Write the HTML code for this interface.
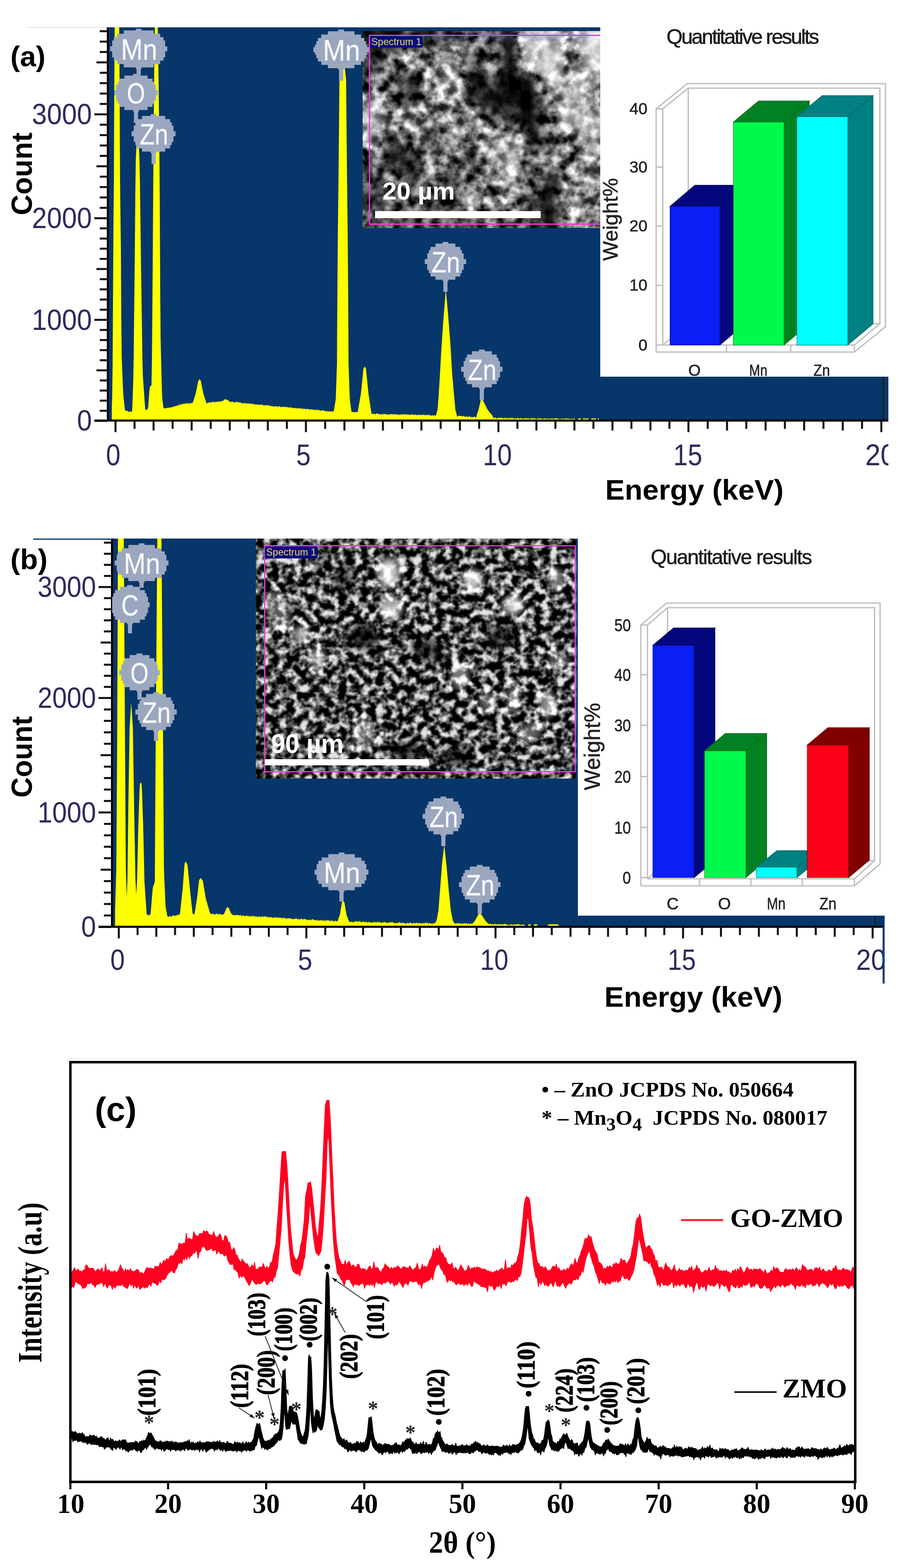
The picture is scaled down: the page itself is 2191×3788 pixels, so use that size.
<!DOCTYPE html>
<html><head><meta charset="utf-8"><title>EDS and XRD figure</title>
<style>html,body{margin:0;padding:0;background:#fff}svg{display:block}text{white-space:pre}</style></head>
<body><svg width="2191" height="3788" viewBox="0 0 2191 3788">
<defs><filter id="semA" x="0" y="0" width="100%" height="100%" color-interpolation-filters="sRGB" filterUnits="objectBoundingBox">
<feTurbulence type="fractalNoise" baseFrequency="0.04" numOctaves="4" seed="7" result="n"/>
<feColorMatrix in="n" type="matrix" values="2.2 0 0 0 -0.62  2.2 0 0 0 -0.62  2.2 0 0 0 -0.62  0 0 0 0 1"/>
<feComponentTransfer><feFuncR type="linear" slope="1.0"/><feFuncG type="linear" slope="1.0"/><feFuncB type="linear" slope="1.0"/></feComponentTransfer>
<feGaussianBlur stdDeviation="1.0"/>
</filter>
<filter id="semAb" x="-50%" y="-50%" width="200%" height="200%"><feGaussianBlur stdDeviation="12"/></filter>
<filter id="semAg" x="-10%" y="-10%" width="120%" height="120%"><feGaussianBlur stdDeviation="12"/></filter>
<clipPath id="semAc"><rect x="876" y="75" width="574" height="476"/></clipPath><clipPath id="clipMnA"><rect x="700" y="60" width="191" height="400"/></clipPath><clipPath id="clip20a"><rect x="2000" y="1040" width="146" height="120"/></clipPath><filter id="semB" x="0" y="0" width="100%" height="100%" color-interpolation-filters="sRGB" filterUnits="objectBoundingBox">
<feTurbulence type="fractalNoise" baseFrequency="0.055" numOctaves="4" seed="11" result="n"/>
<feColorMatrix in="n" type="matrix" values="3.3 0 0 0 -1.31  3.3 0 0 0 -1.31  3.3 0 0 0 -1.31  0 0 0 0 1"/>
<feComponentTransfer><feFuncR type="linear" slope="1.0"/><feFuncG type="linear" slope="1.0"/><feFuncB type="linear" slope="1.0"/></feComponentTransfer>
<feGaussianBlur stdDeviation="1.0"/>
</filter>
<filter id="semBb" x="-50%" y="-50%" width="200%" height="200%"><feGaussianBlur stdDeviation="9"/></filter>
<filter id="semBg" x="-10%" y="-10%" width="120%" height="120%"><feGaussianBlur stdDeviation="20"/></filter>
<clipPath id="semBc"><rect x="618" y="1301" width="776" height="580"/></clipPath><clipPath id="clipCb"><rect x="271" y="1300" width="300" height="400"/></clipPath><clipPath id="clip20b"><rect x="2000" y="2250" width="132" height="140"/></clipPath></defs>
<rect width="2191" height="3788" fill="#fff"/>
<rect x="258" y="66" width="1888" height="952" fill="#07366a"/>
<rect x="62" y="65" width="196" height="2" fill="#dfe3ea"/>
<polygon points="270.0,1016.0 270.0,993.2 271.0,955.0 272.0,885.0 273.0,725.0 274.0,550.0 275.0,450.0 276.0,233.0 277.0,66.0 278.0,66.0 279.0,66.0 280.0,66.0 281.0,66.0 282.0,66.0 283.0,66.0 284.0,66.0 285.0,66.0 286.0,66.0 287.0,66.0 288.0,66.0 289.0,233.0 290.0,440.0 291.0,520.0 292.0,600.0 293.0,766.7 294.0,862.5 295.0,887.5 296.0,912.5 297.0,937.5 298.0,954.8 299.0,964.2 300.0,973.8 301.0,983.2 302.0,990.5 303.0,992.2 304.0,991.5 305.0,993.4 306.0,993.6 307.0,991.7 308.0,992.2 309.0,992.9 310.0,995.6 311.0,994.4 312.0,995.4 313.0,994.3 314.0,994.8 315.0,994.3 316.0,994.0 317.0,994.6 318.0,994.5 319.0,994.3 320.0,975.0 321.0,945.0 322.0,915.0 323.0,855.0 324.0,765.0 325.0,675.0 326.0,572.5 327.0,457.5 328.0,388.5 329.0,365.5 330.0,342.5 331.0,319.5 332.0,296.5 333.0,296.5 334.0,319.5 335.0,342.5 336.0,365.5 337.0,388.5 338.0,438.3 339.0,515.0 340.0,591.7 341.0,663.8 342.0,731.2 343.0,798.8 344.0,866.2 345.0,907.1 346.0,921.2 347.0,935.4 348.0,949.6 349.0,963.8 350.0,977.9 351.0,988.9 352.0,989.9 353.0,991.3 354.0,989.2 355.0,988.4 356.0,989.9 357.0,988.1 358.0,983.1 359.0,969.4 360.0,955.6 361.0,941.9 362.0,934.5 363.0,933.5 364.0,932.5 365.0,931.5 366.0,930.5 367.0,872.5 368.0,757.5 369.0,625.0 370.0,475.0 371.0,344.3 372.0,233.0 373.0,121.7 374.0,66.0 375.0,66.0 376.0,66.0 377.0,66.0 378.0,66.0 379.0,66.0 380.0,66.0 381.0,66.0 382.0,107.8 383.0,191.2 384.0,274.8 385.0,358.2 386.0,500.0 387.0,700.0 388.0,820.0 389.0,860.0 390.0,900.0 391.0,940.0 392.0,963.8 393.0,971.2 394.0,978.8 395.0,986.2 396.0,985.4 397.0,985.4 398.0,987.1 399.0,987.8 400.0,985.5 401.0,986.0 402.0,986.2 403.0,985.3 404.0,985.2 405.0,984.9 406.0,985.0 407.0,985.5 408.0,984.5 409.0,984.5 410.0,985.6 411.0,983.2 412.0,984.7 413.0,985.0 414.0,983.6 415.0,983.2 416.0,984.6 417.0,982.6 418.0,982.1 419.0,982.5 420.0,983.0 421.0,980.9 422.0,981.2 423.0,980.9 424.0,982.1 425.0,980.6 426.0,981.5 427.0,979.2 428.0,979.4 429.0,980.0 430.0,980.4 431.0,978.7 432.0,977.7 433.0,977.1 434.0,978.0 435.0,976.7 436.0,978.2 437.0,978.0 438.0,975.7 439.0,975.7 440.0,976.9 441.0,976.3 442.0,976.7 443.0,975.2 444.0,974.4 445.0,974.8 446.0,976.2 447.0,974.5 448.0,974.6 449.0,974.7 450.0,974.6 451.0,974.4 452.0,975.8 453.0,973.4 454.0,972.8 455.0,975.5 456.0,975.2 457.0,975.4 458.0,973.6 459.0,975.1 460.0,974.9 461.0,972.6 462.0,974.1 463.0,974.3 464.0,973.6 465.0,973.1 466.0,971.9 467.0,968.8 468.0,965.6 469.0,962.5 470.0,959.4 471.0,956.2 472.0,953.1 473.0,950.0 474.0,945.0 475.0,940.0 476.0,935.0 477.0,930.0 478.0,925.0 479.0,920.0 480.0,918.7 481.0,917.3 482.0,916.0 483.0,917.3 484.0,918.7 485.0,920.0 486.0,925.0 487.0,930.0 488.0,935.0 489.0,940.0 490.0,945.0 491.0,950.0 492.0,953.1 493.0,956.2 494.0,959.4 495.0,962.5 496.0,965.6 497.0,968.8 498.0,971.9 499.0,973.9 500.0,974.3 501.0,973.8 502.0,973.8 503.0,971.3 504.0,973.0 505.0,973.7 506.0,971.1 507.0,971.7 508.0,971.6 509.0,972.3 510.0,971.9 511.0,972.0 512.0,972.8 513.0,970.4 514.0,970.5 515.0,970.6 516.0,970.5 517.0,970.2 518.0,972.9 519.0,972.4 520.0,970.0 521.0,971.2 522.0,970.6 523.0,970.5 524.0,970.5 525.0,971.3 526.0,971.0 527.0,970.3 528.0,969.7 529.0,970.0 530.0,969.3 531.0,970.5 532.0,970.9 533.0,969.8 534.0,968.8 535.0,969.0 536.0,969.0 537.0,969.1 538.0,969.0 539.0,967.2 540.0,967.9 541.0,966.8 542.0,965.6 543.0,964.8 544.0,964.6 545.0,964.6 546.0,964.4 547.0,965.8 548.0,965.7 549.0,965.6 550.0,967.1 551.0,968.2 552.0,966.9 553.0,968.6 554.0,969.2 555.0,971.1 556.0,971.4 557.0,969.8 558.0,971.5 559.0,971.3 560.0,969.8 561.0,970.6 562.0,969.6 563.0,971.8 564.0,971.5 565.0,972.3 566.0,972.1 567.0,971.8 568.0,972.1 569.0,971.7 570.0,970.5 571.0,972.0 572.0,970.4 573.0,970.9 574.0,972.9 575.0,970.9 576.0,971.1 577.0,971.2 578.0,973.7 579.0,971.7 580.0,971.3 581.0,973.9 582.0,971.9 583.0,974.1 584.0,973.7 585.0,974.3 586.0,974.8 587.0,973.8 588.0,974.6 589.0,972.4 590.0,974.7 591.0,974.0 592.0,974.8 593.0,973.0 594.0,975.1 595.0,975.7 596.0,973.2 597.0,974.1 598.0,975.0 599.0,975.9 600.0,974.2 601.0,974.1 602.0,974.4 603.0,975.6 604.0,976.2 605.0,975.2 606.0,975.2 607.0,975.4 608.0,975.4 609.0,975.7 610.0,974.7 611.0,976.1 612.0,977.6 613.0,976.0 614.0,977.1 615.0,975.5 616.0,977.2 617.0,977.5 618.0,977.3 619.0,977.0 620.0,977.0 621.0,977.5 622.0,978.4 623.0,976.2 624.0,976.2 625.0,978.2 626.0,978.8 627.0,977.8 628.0,977.6 629.0,978.6 630.0,977.1 631.0,977.4 632.0,977.3 633.0,978.6 634.0,977.8 635.0,977.7 636.0,979.2 637.0,980.1 638.0,978.2 639.0,979.5 640.0,978.7 641.0,980.2 642.0,979.5 643.0,978.6 644.0,978.6 645.0,978.1 646.0,979.5 647.0,979.3 648.0,978.8 649.0,979.5 650.0,979.5 651.0,980.9 652.0,979.1 653.0,981.8 654.0,980.3 655.0,980.8 656.0,980.5 657.0,981.7 658.0,981.8 659.0,981.1 660.0,980.9 661.0,981.7 662.0,982.2 663.0,981.0 664.0,982.0 665.0,982.8 666.0,981.4 667.0,980.8 668.0,980.9 669.0,982.4 670.0,982.4 671.0,983.3 672.0,983.1 673.0,981.4 674.0,981.3 675.0,981.6 676.0,981.5 677.0,983.1 678.0,983.6 679.0,983.9 680.0,982.0 681.0,983.9 682.0,982.4 683.0,982.8 684.0,983.8 685.0,981.9 686.0,982.0 687.0,984.3 688.0,982.8 689.0,983.1 690.0,983.8 691.0,984.2 692.0,982.3 693.0,983.4 694.0,983.8 695.0,984.0 696.0,983.3 697.0,984.5 698.0,985.7 699.0,984.1 700.0,984.6 701.0,983.4 702.0,984.0 703.0,985.2 704.0,983.7 705.0,986.1 706.0,986.2 707.0,983.9 708.0,986.5 709.0,984.9 710.0,986.2 711.0,986.2 712.0,984.9 713.0,986.1 714.0,986.2 715.0,986.7 716.0,985.2 717.0,986.7 718.0,987.4 719.0,986.6 720.0,986.3 721.0,985.1 722.0,986.4 723.0,986.0 724.0,987.2 725.0,987.2 726.0,986.9 727.0,985.9 728.0,987.4 729.0,987.4 730.0,986.1 731.0,988.4 732.0,987.8 733.0,986.3 734.0,988.8 735.0,986.5 736.0,987.2 737.0,988.5 738.0,988.2 739.0,988.2 740.0,988.5 741.0,988.1 742.0,987.7 743.0,987.4 744.0,987.2 745.0,989.2 746.0,989.4 747.0,988.9 748.0,989.6 749.0,988.5 750.0,988.4 751.0,988.8 752.0,990.4 753.0,988.0 754.0,989.5 755.0,988.8 756.0,990.5 757.0,989.3 758.0,989.4 759.0,989.7 760.0,990.2 761.0,991.0 762.0,989.8 763.0,991.4 764.0,989.3 765.0,989.9 766.0,989.4 767.0,989.6 768.0,991.7 769.0,991.6 770.0,990.1 771.0,990.2 772.0,991.0 773.0,992.1 774.0,992.4 775.0,992.3 776.0,991.9 777.0,990.7 778.0,991.5 779.0,991.0 780.0,992.1 781.0,992.3 782.0,991.3 783.0,991.6 784.0,993.3 785.0,991.1 786.0,993.5 787.0,993.9 788.0,994.2 789.0,992.6 790.0,993.2 791.0,993.4 792.0,993.6 793.0,994.7 794.0,994.0 795.0,992.9 796.0,994.7 797.0,993.7 798.0,994.1 799.0,994.6 800.0,992.5 801.0,994.8 802.0,994.5 803.0,994.0 804.0,994.2 805.0,994.0 806.0,993.2 807.0,989.0 808.0,983.0 809.0,977.0 810.0,971.0 811.0,965.0 812.0,936.7 813.0,908.3 814.0,880.0 815.0,706.7 816.0,576.0 817.0,488.0 818.0,400.0 819.0,296.0 820.0,192.0 821.0,183.0 822.0,174.0 823.0,165.0 824.0,156.0 825.0,147.0 826.0,138.0 827.0,129.0 828.0,120.0 829.0,129.0 830.0,138.0 831.0,147.0 832.0,156.0 833.0,165.0 834.0,174.0 835.0,183.0 836.0,192.0 837.0,296.0 838.0,400.0 839.0,488.0 840.0,576.0 841.0,706.7 842.0,880.0 843.0,908.3 844.0,936.7 845.0,965.0 846.0,972.5 847.0,980.0 848.0,987.5 849.0,995.0 850.0,994.4 851.0,995.0 852.0,996.0 853.0,995.0 854.0,994.4 855.0,996.7 856.0,996.3 857.0,995.3 858.0,995.4 859.0,996.0 860.0,996.3 861.0,995.3 862.0,994.7 863.0,995.4 864.0,996.0 865.0,990.2 866.0,984.5 867.0,978.8 868.0,973.0 869.0,967.2 870.0,961.5 871.0,955.8 872.0,950.0 873.0,940.0 874.0,930.0 875.0,920.0 876.0,910.0 877.0,900.0 878.0,890.0 879.0,888.7 880.0,887.3 881.0,886.0 882.0,887.3 883.0,888.7 884.0,890.0 885.0,900.0 886.0,910.0 887.0,920.0 888.0,930.0 889.0,940.0 890.0,950.0 891.0,956.6 892.0,963.1 893.0,969.7 894.0,976.3 895.0,982.9 896.0,989.4 897.0,996.0 898.0,1001.0 899.0,999.3 900.0,999.2 901.0,999.3 902.0,1001.0 903.0,1000.4 904.0,999.6 905.0,998.9 906.0,1000.7 907.0,1001.5 908.0,1000.4 909.0,998.7 910.0,998.8 911.0,999.0 912.0,999.3 913.0,998.9 914.0,998.9 915.0,1000.8 916.0,1001.5 917.0,999.4 918.0,1001.8 919.0,1000.3 920.0,1001.3 921.0,1001.7 922.0,1001.8 923.0,999.1 924.0,999.9 925.0,1000.8 926.0,1001.9 927.0,999.3 928.0,999.9 929.0,1001.6 930.0,999.4 931.0,1000.3 932.0,1000.1 933.0,1001.2 934.0,1002.0 935.0,999.7 936.0,1001.4 937.0,1001.4 938.0,1001.8 939.0,1000.9 940.0,1002.1 941.0,1000.4 942.0,1000.6 943.0,1000.0 944.0,1001.7 945.0,1000.8 946.0,1000.2 947.0,999.9 948.0,1001.6 949.0,1001.3 950.0,1001.6 951.0,1000.7 952.0,1001.0 953.0,1000.0 954.0,1001.7 955.0,999.7 956.0,1001.0 957.0,1001.9 958.0,1001.7 959.0,1000.0 960.0,1000.4 961.0,1002.3 962.0,1001.7 963.0,1002.4 964.0,1002.4 965.0,1001.1 966.0,1002.5 967.0,1002.0 968.0,1000.9 969.0,1001.0 970.0,1000.1 971.0,1001.1 972.0,1002.8 973.0,1000.3 974.0,1001.7 975.0,1000.3 976.0,1000.3 977.0,1002.0 978.0,1000.8 979.0,1000.2 980.0,1000.6 981.0,1002.1 982.0,1001.9 983.0,1000.2 984.0,1000.9 985.0,1003.1 986.0,1000.9 987.0,1001.9 988.0,1001.5 989.0,1002.6 990.0,1002.1 991.0,1002.7 992.0,1001.9 993.0,1000.9 994.0,1000.9 995.0,1000.6 996.0,1002.9 997.0,1000.8 998.0,1000.5 999.0,1003.4 1000.0,1001.1 1001.0,1003.2 1002.0,1000.8 1003.0,1002.0 1004.0,1001.2 1005.0,1003.1 1006.0,1002.5 1007.0,1002.6 1008.0,1002.9 1009.0,1003.3 1010.0,1001.7 1011.0,1002.5 1012.0,1002.1 1013.0,1001.1 1014.0,1003.3 1015.0,1002.6 1016.0,1003.3 1017.0,1001.5 1018.0,1002.5 1019.0,1002.3 1020.0,1003.1 1021.0,1001.2 1022.0,1002.0 1023.0,1002.4 1024.0,1001.2 1025.0,1002.7 1026.0,1003.2 1027.0,1002.3 1028.0,1003.0 1029.0,1002.9 1030.0,1001.7 1031.0,1002.2 1032.0,1004.1 1033.0,1002.2 1034.0,1002.5 1035.0,1001.5 1036.0,1001.9 1037.0,1001.7 1038.0,1004.1 1039.0,1003.5 1040.0,1003.9 1041.0,1004.3 1042.0,1003.2 1043.0,1004.2 1044.0,1003.0 1045.0,1002.7 1046.0,1004.3 1047.0,1004.1 1048.0,1004.3 1049.0,1002.9 1050.0,1003.8 1051.0,1002.8 1052.0,1004.6 1053.0,1004.4 1054.0,999.8 1055.0,996.5 1056.0,993.2 1057.0,990.0 1058.0,976.7 1059.0,963.3 1060.0,950.0 1061.0,933.3 1062.0,916.7 1063.0,900.0 1064.0,882.5 1065.0,865.0 1066.0,847.5 1067.0,830.0 1068.0,816.0 1069.0,802.0 1070.0,788.0 1071.0,774.0 1072.0,760.0 1073.0,748.0 1074.0,736.0 1075.0,724.0 1076.0,712.0 1077.0,700.0 1078.0,711.0 1079.0,722.0 1080.0,733.0 1081.0,744.0 1082.0,755.0 1083.0,767.5 1084.0,780.0 1085.0,792.5 1086.0,805.0 1087.0,817.5 1088.0,830.0 1089.0,847.5 1090.0,865.0 1091.0,882.5 1092.0,900.0 1093.0,911.2 1094.0,922.5 1095.0,933.8 1096.0,945.0 1097.0,956.2 1098.0,967.5 1099.0,978.8 1100.0,990.0 1101.0,993.5 1102.0,997.0 1103.0,1000.5 1104.0,1006.6 1105.0,1006.1 1106.0,1006.7 1107.0,1004.0 1108.0,1004.5 1109.0,1004.0 1110.0,1005.3 1111.0,1005.1 1112.0,1004.3 1113.0,1005.8 1114.0,1004.5 1115.0,1005.2 1116.0,1005.0 1117.0,1006.8 1118.0,1005.7 1119.0,1005.2 1120.0,1004.6 1121.0,1005.8 1122.0,1006.5 1123.0,1006.7 1124.0,1007.4 1125.0,1007.2 1126.0,1005.5 1127.0,1005.3 1128.0,1007.2 1129.0,1007.3 1130.0,1006.5 1131.0,1007.5 1132.0,1006.8 1133.0,1006.0 1134.0,1005.7 1135.0,1005.3 1136.0,1007.2 1137.0,1008.0 1138.0,1008.1 1139.0,1006.9 1140.0,1007.5 1141.0,1008.3 1142.0,1008.0 1143.0,1007.5 1144.0,1006.9 1145.0,1007.3 1146.0,1006.3 1147.0,1006.4 1148.0,1008.0 1149.0,1008.9 1150.0,1007.6 1151.0,1007.3 1152.0,1001.2 1153.0,998.4 1154.0,995.6 1155.0,992.8 1156.0,990.0 1157.0,985.6 1158.0,981.2 1159.0,976.8 1160.0,972.4 1161.0,968.0 1162.0,966.7 1163.0,965.3 1164.0,964.0 1165.0,965.5 1166.0,967.0 1167.0,968.5 1168.0,970.0 1169.0,972.0 1170.0,974.0 1171.0,976.0 1172.0,978.0 1173.0,980.0 1174.0,982.0 1175.0,984.0 1176.0,986.0 1177.0,988.0 1178.0,990.0 1179.0,991.2 1180.0,992.5 1181.0,993.7 1182.0,994.9 1183.0,996.2 1184.0,997.4 1185.0,998.6 1186.0,999.8 1187.0,1001.1 1188.0,1002.3 1189.0,1003.5 1190.0,1004.8 1191.0,1008.4 1192.0,1008.9 1193.0,1011.1 1194.0,1008.4 1195.0,1008.9 1196.0,1008.9 1197.0,1008.6 1198.0,1010.0 1199.0,1010.7 1200.0,1011.0 1201.0,1010.4 1202.0,1011.0 1203.0,1008.5 1204.0,1009.4 1205.0,1011.4 1206.0,1008.8 1207.0,1009.4 1208.0,1010.0 1209.0,1009.4 1210.0,1010.2 1211.0,1008.8 1212.0,1009.3 1213.0,1011.5 1214.0,1009.1 1215.0,1011.4 1216.0,1009.2 1217.0,1011.7 1218.0,1010.7 1219.0,1010.6 1220.0,1009.1 1221.0,1008.9 1222.0,1011.0 1223.0,1009.3 1224.0,1009.3 1225.0,1011.2 1226.0,1011.4 1227.0,1008.9 1228.0,1011.7 1229.0,1010.4 1230.0,1010.0 1231.0,1009.1 1232.0,1010.0 1233.0,1011.8 1234.0,1009.7 1235.0,1009.3 1236.0,1009.3 1237.0,1009.3 1238.0,1010.0 1239.0,1011.7 1240.0,1009.2 1241.0,1009.5 1242.0,1011.8 1243.0,1011.9 1244.0,1011.9 1245.0,1009.7 1246.0,1010.0 1247.0,1011.8 1248.0,1010.5 1249.0,1011.1 1250.0,1010.0 1251.0,1009.1 1252.0,1010.1 1253.0,1011.3 1254.0,1011.4 1255.0,1010.8 1256.0,1010.5 1257.0,1010.7 1258.0,1010.4 1259.0,1010.7 1260.0,1011.6 1261.0,1009.7 1262.0,1010.9 1263.0,1012.0 1264.0,1011.7 1265.0,1009.7 1266.0,1012.1 1267.0,1011.7 1268.0,1009.7 1269.0,1010.0 1270.0,1009.8 1271.0,1009.4 1272.0,1012.2 1273.0,1010.5 1274.0,1011.9 1275.0,1009.6 1276.0,1009.3 1277.0,1011.9 1278.0,1011.7 1279.0,1012.3 1280.0,1011.4 1281.0,1010.9 1282.0,1011.7 1283.0,1009.7 1284.0,1011.0 1285.0,1010.7 1286.0,1009.8 1287.0,1011.2 1288.0,1010.4 1289.0,1011.0 1290.0,1010.6 1291.0,1010.4 1292.0,1010.5 1293.0,1011.3 1294.0,1012.4 1295.0,1012.3 1296.0,1012.1 1297.0,1012.0 1298.0,1010.4 1299.0,1012.5 1300.0,1010.4 1301.0,1009.9 1302.0,1011.1 1303.0,1011.8 1304.0,1010.6 1305.0,1011.5 1306.0,1010.5 1307.0,1012.5 1308.0,1011.0 1309.0,1011.1 1310.0,1011.3 1311.0,1012.3 1312.0,1012.6 1313.0,1011.3 1314.0,1011.0 1315.0,1011.6 1316.0,1009.9 1317.0,1011.0 1318.0,1012.3 1319.0,1012.1 1320.0,1009.9 1321.0,1012.3 1322.0,1010.9 1323.0,1012.7 1324.0,1010.9 1325.0,1010.5 1326.0,1011.5 1327.0,1012.5 1328.0,1011.1 1329.0,1012.5 1330.0,1012.0 1331.0,1011.0 1332.0,1010.8 1333.0,1011.4 1334.0,1011.1 1335.0,1011.0 1336.0,1011.9 1337.0,1012.6 1338.0,1011.7 1339.0,1010.4 1340.0,1010.6 1341.0,1011.1 1342.0,1011.8 1343.0,1010.4 1344.0,1010.3 1345.0,1011.0 1346.0,1010.9 1347.0,1010.1 1348.0,1011.7 1349.0,1012.8 1350.0,1011.7 1351.0,1012.3 1352.0,1012.6 1353.0,1012.6 1354.0,1012.9 1355.0,1011.5 1356.0,1012.2 1357.0,1010.5 1358.0,1012.8 1359.0,1011.3 1360.0,1011.6 1361.0,1012.9 1362.0,1011.1 1363.0,1010.8 1364.0,1012.7 1365.0,1012.0 1366.0,1010.5 1367.0,1010.4 1368.0,1011.3 1369.0,1010.3 1370.0,1012.8 1371.0,1010.9 1372.0,1011.1 1373.0,1011.5 1374.0,1011.9 1375.0,1011.6 1376.0,1012.2 1377.0,1012.4 1378.0,1011.7 1379.0,1010.7 1380.0,1013.3 1381.0,1012.5 1382.0,1010.7 1383.0,1011.8 1384.0,1012.7 1385.0,1013.4 1386.0,1010.7 1387.0,1010.5 1388.0,1011.9 1389.0,1011.8 1389.0,1016.0" fill="#ffff00"/>
<rect x="1396" y="1011" width="8" height="4" fill="#ffff00"/>
<rect x="1408" y="1011" width="14" height="4" fill="#ffff00"/>
<rect x="1428" y="1011" width="12" height="4" fill="#ffff00"/>
<rect x="1444" y="1011" width="3" height="4" fill="#ffff00"/>
<g clip-path="url(#semAc)" style="isolation:isolate">
<rect x="876" y="75" width="574" height="476" fill="#777"/>
<g filter="url(#semAg)">
<rect x="816" y="15" width="694" height="596" fill="#777"/>
<rect x="816.0" y="15.0" width="108.3" height="108.1" fill="rgb(24,24,24)"/>
<rect x="923.8" y="15.0" width="48.3" height="108.1" fill="rgb(10,10,10)"/>
<rect x="971.7" y="15.0" width="48.3" height="108.1" fill="rgb(64,64,64)"/>
<rect x="1019.5" y="15.0" width="48.3" height="108.1" fill="rgb(37,37,37)"/>
<rect x="1067.3" y="15.0" width="48.3" height="108.1" fill="rgb(91,91,91)"/>
<rect x="1115.2" y="15.0" width="48.3" height="108.1" fill="rgb(105,105,105)"/>
<rect x="1163.0" y="15.0" width="48.3" height="108.1" fill="rgb(91,91,91)"/>
<rect x="1210.8" y="15.0" width="48.3" height="108.1" fill="rgb(10,10,10)"/>
<rect x="1258.7" y="15.0" width="48.3" height="108.1" fill="rgb(213,213,213)"/>
<rect x="1306.5" y="15.0" width="48.3" height="108.1" fill="rgb(199,199,199)"/>
<rect x="1354.3" y="15.0" width="48.3" height="108.1" fill="rgb(118,118,118)"/>
<rect x="1402.2" y="15.0" width="108.3" height="108.1" fill="rgb(226,226,226)"/>
<rect x="816.0" y="122.6" width="108.3" height="48.1" fill="rgb(51,51,51)"/>
<rect x="923.8" y="122.6" width="48.3" height="48.1" fill="rgb(118,118,118)"/>
<rect x="971.7" y="122.6" width="48.3" height="48.1" fill="rgb(132,132,132)"/>
<rect x="1019.5" y="122.6" width="48.3" height="48.1" fill="rgb(145,145,145)"/>
<rect x="1067.3" y="122.6" width="48.3" height="48.1" fill="rgb(159,159,159)"/>
<rect x="1115.2" y="122.6" width="48.3" height="48.1" fill="rgb(64,64,64)"/>
<rect x="1163.0" y="122.6" width="48.3" height="48.1" fill="rgb(118,118,118)"/>
<rect x="1210.8" y="122.6" width="48.3" height="48.1" fill="rgb(0,0,0)"/>
<rect x="1258.7" y="122.6" width="48.3" height="48.1" fill="rgb(186,186,186)"/>
<rect x="1306.5" y="122.6" width="48.3" height="48.1" fill="rgb(226,226,226)"/>
<rect x="1354.3" y="122.6" width="48.3" height="48.1" fill="rgb(78,78,78)"/>
<rect x="1402.2" y="122.6" width="108.3" height="48.1" fill="rgb(213,213,213)"/>
<rect x="816.0" y="170.2" width="108.3" height="48.1" fill="rgb(91,91,91)"/>
<rect x="923.8" y="170.2" width="48.3" height="48.1" fill="rgb(91,91,91)"/>
<rect x="971.7" y="170.2" width="48.3" height="48.1" fill="rgb(10,10,10)"/>
<rect x="1019.5" y="170.2" width="48.3" height="48.1" fill="rgb(145,145,145)"/>
<rect x="1067.3" y="170.2" width="48.3" height="48.1" fill="rgb(172,172,172)"/>
<rect x="1115.2" y="170.2" width="48.3" height="48.1" fill="rgb(24,24,24)"/>
<rect x="1163.0" y="170.2" width="48.3" height="48.1" fill="rgb(51,51,51)"/>
<rect x="1210.8" y="170.2" width="48.3" height="48.1" fill="rgb(0,0,0)"/>
<rect x="1258.7" y="170.2" width="48.3" height="48.1" fill="rgb(10,10,10)"/>
<rect x="1306.5" y="170.2" width="48.3" height="48.1" fill="rgb(199,199,199)"/>
<rect x="1354.3" y="170.2" width="48.3" height="48.1" fill="rgb(172,172,172)"/>
<rect x="1402.2" y="170.2" width="108.3" height="48.1" fill="rgb(172,172,172)"/>
<rect x="816.0" y="217.8" width="108.3" height="48.1" fill="rgb(172,172,172)"/>
<rect x="923.8" y="217.8" width="48.3" height="48.1" fill="rgb(105,105,105)"/>
<rect x="971.7" y="217.8" width="48.3" height="48.1" fill="rgb(37,37,37)"/>
<rect x="1019.5" y="217.8" width="48.3" height="48.1" fill="rgb(145,145,145)"/>
<rect x="1067.3" y="217.8" width="48.3" height="48.1" fill="rgb(145,145,145)"/>
<rect x="1115.2" y="217.8" width="48.3" height="48.1" fill="rgb(37,37,37)"/>
<rect x="1163.0" y="217.8" width="48.3" height="48.1" fill="rgb(10,10,10)"/>
<rect x="1210.8" y="217.8" width="48.3" height="48.1" fill="rgb(10,10,10)"/>
<rect x="1258.7" y="217.8" width="48.3" height="48.1" fill="rgb(0,0,0)"/>
<rect x="1306.5" y="217.8" width="48.3" height="48.1" fill="rgb(105,105,105)"/>
<rect x="1354.3" y="217.8" width="48.3" height="48.1" fill="rgb(199,199,199)"/>
<rect x="1402.2" y="217.8" width="108.3" height="48.1" fill="rgb(145,145,145)"/>
<rect x="816.0" y="265.4" width="108.3" height="48.1" fill="rgb(186,186,186)"/>
<rect x="923.8" y="265.4" width="48.3" height="48.1" fill="rgb(145,145,145)"/>
<rect x="971.7" y="265.4" width="48.3" height="48.1" fill="rgb(159,159,159)"/>
<rect x="1019.5" y="265.4" width="48.3" height="48.1" fill="rgb(118,118,118)"/>
<rect x="1067.3" y="265.4" width="48.3" height="48.1" fill="rgb(132,132,132)"/>
<rect x="1115.2" y="265.4" width="48.3" height="48.1" fill="rgb(159,159,159)"/>
<rect x="1163.0" y="265.4" width="48.3" height="48.1" fill="rgb(64,64,64)"/>
<rect x="1210.8" y="265.4" width="48.3" height="48.1" fill="rgb(51,51,51)"/>
<rect x="1258.7" y="265.4" width="48.3" height="48.1" fill="rgb(0,0,0)"/>
<rect x="1306.5" y="265.4" width="48.3" height="48.1" fill="rgb(118,118,118)"/>
<rect x="1354.3" y="265.4" width="48.3" height="48.1" fill="rgb(199,199,199)"/>
<rect x="1402.2" y="265.4" width="108.3" height="48.1" fill="rgb(186,186,186)"/>
<rect x="816.0" y="313.0" width="108.3" height="48.1" fill="rgb(159,159,159)"/>
<rect x="923.8" y="313.0" width="48.3" height="48.1" fill="rgb(51,51,51)"/>
<rect x="971.7" y="313.0" width="48.3" height="48.1" fill="rgb(118,118,118)"/>
<rect x="1019.5" y="313.0" width="48.3" height="48.1" fill="rgb(64,64,64)"/>
<rect x="1067.3" y="313.0" width="48.3" height="48.1" fill="rgb(172,172,172)"/>
<rect x="1115.2" y="313.0" width="48.3" height="48.1" fill="rgb(105,105,105)"/>
<rect x="1163.0" y="313.0" width="48.3" height="48.1" fill="rgb(172,172,172)"/>
<rect x="1210.8" y="313.0" width="48.3" height="48.1" fill="rgb(172,172,172)"/>
<rect x="1258.7" y="313.0" width="48.3" height="48.1" fill="rgb(24,24,24)"/>
<rect x="1306.5" y="313.0" width="48.3" height="48.1" fill="rgb(78,78,78)"/>
<rect x="1354.3" y="313.0" width="48.3" height="48.1" fill="rgb(132,132,132)"/>
<rect x="1402.2" y="313.0" width="108.3" height="48.1" fill="rgb(172,172,172)"/>
<rect x="816.0" y="360.6" width="108.3" height="48.1" fill="rgb(91,91,91)"/>
<rect x="923.8" y="360.6" width="48.3" height="48.1" fill="rgb(24,24,24)"/>
<rect x="971.7" y="360.6" width="48.3" height="48.1" fill="rgb(37,37,37)"/>
<rect x="1019.5" y="360.6" width="48.3" height="48.1" fill="rgb(118,118,118)"/>
<rect x="1067.3" y="360.6" width="48.3" height="48.1" fill="rgb(118,118,118)"/>
<rect x="1115.2" y="360.6" width="48.3" height="48.1" fill="rgb(51,51,51)"/>
<rect x="1163.0" y="360.6" width="48.3" height="48.1" fill="rgb(159,159,159)"/>
<rect x="1210.8" y="360.6" width="48.3" height="48.1" fill="rgb(186,186,186)"/>
<rect x="1258.7" y="360.6" width="48.3" height="48.1" fill="rgb(91,91,91)"/>
<rect x="1306.5" y="360.6" width="48.3" height="48.1" fill="rgb(118,118,118)"/>
<rect x="1354.3" y="360.6" width="48.3" height="48.1" fill="rgb(105,105,105)"/>
<rect x="1402.2" y="360.6" width="108.3" height="48.1" fill="rgb(159,159,159)"/>
<rect x="816.0" y="408.2" width="108.3" height="48.1" fill="rgb(78,78,78)"/>
<rect x="923.8" y="408.2" width="48.3" height="48.1" fill="rgb(105,105,105)"/>
<rect x="971.7" y="408.2" width="48.3" height="48.1" fill="rgb(51,51,51)"/>
<rect x="1019.5" y="408.2" width="48.3" height="48.1" fill="rgb(118,118,118)"/>
<rect x="1067.3" y="408.2" width="48.3" height="48.1" fill="rgb(64,64,64)"/>
<rect x="1115.2" y="408.2" width="48.3" height="48.1" fill="rgb(132,132,132)"/>
<rect x="1163.0" y="408.2" width="48.3" height="48.1" fill="rgb(118,118,118)"/>
<rect x="1210.8" y="408.2" width="48.3" height="48.1" fill="rgb(172,172,172)"/>
<rect x="1258.7" y="408.2" width="48.3" height="48.1" fill="rgb(105,105,105)"/>
<rect x="1306.5" y="408.2" width="48.3" height="48.1" fill="rgb(37,37,37)"/>
<rect x="1354.3" y="408.2" width="48.3" height="48.1" fill="rgb(145,145,145)"/>
<rect x="1402.2" y="408.2" width="108.3" height="48.1" fill="rgb(145,145,145)"/>
<rect x="816.0" y="455.8" width="108.3" height="48.1" fill="rgb(37,37,37)"/>
<rect x="923.8" y="455.8" width="48.3" height="48.1" fill="rgb(91,91,91)"/>
<rect x="971.7" y="455.8" width="48.3" height="48.1" fill="rgb(91,91,91)"/>
<rect x="1019.5" y="455.8" width="48.3" height="48.1" fill="rgb(78,78,78)"/>
<rect x="1067.3" y="455.8" width="48.3" height="48.1" fill="rgb(24,24,24)"/>
<rect x="1115.2" y="455.8" width="48.3" height="48.1" fill="rgb(172,172,172)"/>
<rect x="1163.0" y="455.8" width="48.3" height="48.1" fill="rgb(118,118,118)"/>
<rect x="1210.8" y="455.8" width="48.3" height="48.1" fill="rgb(145,145,145)"/>
<rect x="1258.7" y="455.8" width="48.3" height="48.1" fill="rgb(64,64,64)"/>
<rect x="1306.5" y="455.8" width="48.3" height="48.1" fill="rgb(24,24,24)"/>
<rect x="1354.3" y="455.8" width="48.3" height="48.1" fill="rgb(145,145,145)"/>
<rect x="1402.2" y="455.8" width="108.3" height="48.1" fill="rgb(145,145,145)"/>
<rect x="816.0" y="503.4" width="108.3" height="108.1" fill="rgb(91,91,91)"/>
<rect x="923.8" y="503.4" width="48.3" height="108.1" fill="rgb(78,78,78)"/>
<rect x="971.7" y="503.4" width="48.3" height="108.1" fill="rgb(78,78,78)"/>
<rect x="1019.5" y="503.4" width="48.3" height="108.1" fill="rgb(78,78,78)"/>
<rect x="1067.3" y="503.4" width="48.3" height="108.1" fill="rgb(78,78,78)"/>
<rect x="1115.2" y="503.4" width="48.3" height="108.1" fill="rgb(91,91,91)"/>
<rect x="1163.0" y="503.4" width="48.3" height="108.1" fill="rgb(91,91,91)"/>
<rect x="1210.8" y="503.4" width="48.3" height="108.1" fill="rgb(91,91,91)"/>
<rect x="1258.7" y="503.4" width="48.3" height="108.1" fill="rgb(64,64,64)"/>
<rect x="1306.5" y="503.4" width="48.3" height="108.1" fill="rgb(10,10,10)"/>
<rect x="1354.3" y="503.4" width="48.3" height="108.1" fill="rgb(132,132,132)"/>
<rect x="1402.2" y="503.4" width="108.3" height="108.1" fill="rgb(132,132,132)"/>
</g>
<rect x="872" y="71" width="582" height="484" filter="url(#semA)" style="mix-blend-mode:overlay"/>
</g>
<path d="M1450 85.5 H892.5 V541.5 H1450" fill="none" stroke="#e83ad8" stroke-width="3"/>
<rect x="894" y="88" width="127" height="27" rx="3" fill="#0b0a7e"/>
<text x="897" y="109" font-family='"Liberation Sans", Arial, sans-serif' font-size="23" font-weight="normal" fill="#e8e060" text-anchor="start" textLength="121" lengthAdjust="spacingAndGlyphs" >Spectrum 1</text>
<text x="924" y="482" font-family='"Liberation Sans", Arial, sans-serif' font-size="59" font-weight="bold" fill="#fff" text-anchor="start" textLength="175" lengthAdjust="spacingAndGlyphs" >20 µm</text>
<rect x="906" y="510" width="400" height="17" fill="#fff"/>
<rect x="1450" y="0" width="741" height="910" fill="#fff"/>
<rect x="2146" y="0" width="45" height="1300" fill="#fff"/>
<rect x="2131.5" y="910" width="4.5" height="106" fill="#1c222c"/>
<rect x="258" y="66" width="5" height="952" fill="#000"/>
<rect x="228" y="1014.3" width="31" height="4.8" fill="#111"/>
<rect x="241" y="989.9" width="18" height="4.8" fill="#111"/>
<rect x="241" y="965.5" width="18" height="4.8" fill="#111"/>
<rect x="241" y="941.1" width="18" height="4.8" fill="#111"/>
<rect x="241" y="916.7" width="18" height="4.8" fill="#111"/>
<rect x="233" y="892.3" width="26" height="4.8" fill="#111"/>
<rect x="241" y="867.9" width="18" height="4.8" fill="#111"/>
<rect x="241" y="843.5" width="18" height="4.8" fill="#111"/>
<rect x="241" y="819.1" width="18" height="4.8" fill="#111"/>
<rect x="241" y="794.7" width="18" height="4.8" fill="#111"/>
<rect x="228" y="770.3" width="31" height="4.8" fill="#111"/>
<rect x="241" y="745.8" width="18" height="4.8" fill="#111"/>
<rect x="241" y="721.2" width="18" height="4.8" fill="#111"/>
<rect x="241" y="696.6" width="18" height="4.8" fill="#111"/>
<rect x="241" y="672.1" width="18" height="4.8" fill="#111"/>
<rect x="233" y="647.5" width="26" height="4.8" fill="#111"/>
<rect x="241" y="623.0" width="18" height="4.8" fill="#111"/>
<rect x="241" y="598.4" width="18" height="4.8" fill="#111"/>
<rect x="241" y="573.9" width="18" height="4.8" fill="#111"/>
<rect x="241" y="549.3" width="18" height="4.8" fill="#111"/>
<rect x="228" y="524.8" width="31" height="4.8" fill="#111"/>
<rect x="241" y="499.7" width="18" height="4.8" fill="#111"/>
<rect x="241" y="474.6" width="18" height="4.8" fill="#111"/>
<rect x="241" y="449.5" width="18" height="4.8" fill="#111"/>
<rect x="241" y="424.4" width="18" height="4.8" fill="#111"/>
<rect x="233" y="399.3" width="26" height="4.8" fill="#111"/>
<rect x="241" y="374.2" width="18" height="4.8" fill="#111"/>
<rect x="241" y="349.1" width="18" height="4.8" fill="#111"/>
<rect x="241" y="324.0" width="18" height="4.8" fill="#111"/>
<rect x="241" y="298.9" width="18" height="4.8" fill="#111"/>
<rect x="228" y="273.8" width="31" height="4.8" fill="#111"/>
<rect x="241" y="248.7" width="18" height="4.8" fill="#111"/>
<rect x="241" y="223.6" width="18" height="4.8" fill="#111"/>
<rect x="241" y="198.5" width="18" height="4.8" fill="#111"/>
<rect x="241" y="173.4" width="18" height="4.8" fill="#111"/>
<rect x="233" y="148.3" width="26" height="4.8" fill="#111"/>
<rect x="241" y="123.2" width="18" height="4.8" fill="#111"/>
<rect x="241" y="98.1" width="18" height="4.8" fill="#111"/>
<rect x="241" y="73.0" width="18" height="4.8" fill="#111"/>
<rect x="228" y="1013.5" width="1918" height="5" fill="#000"/>
<rect x="276.6" y="1016" width="4.8" height="28" fill="#111"/>
<rect x="322.6" y="1016" width="4.8" height="20" fill="#111"/>
<rect x="368.6" y="1016" width="4.8" height="24" fill="#111"/>
<rect x="414.6" y="1016" width="4.8" height="20" fill="#111"/>
<rect x="460.6" y="1016" width="4.8" height="24" fill="#111"/>
<rect x="506.6" y="1016" width="4.8" height="20" fill="#111"/>
<rect x="552.6" y="1016" width="4.8" height="24" fill="#111"/>
<rect x="598.6" y="1016" width="4.8" height="20" fill="#111"/>
<rect x="644.6" y="1016" width="4.8" height="24" fill="#111"/>
<rect x="690.6" y="1016" width="4.8" height="20" fill="#111"/>
<rect x="736.6" y="1016" width="4.8" height="28" fill="#111"/>
<rect x="783.1" y="1016" width="4.8" height="20" fill="#111"/>
<rect x="829.6" y="1016" width="4.8" height="24" fill="#111"/>
<rect x="876.1" y="1016" width="4.8" height="20" fill="#111"/>
<rect x="922.6" y="1016" width="4.8" height="24" fill="#111"/>
<rect x="969.1" y="1016" width="4.8" height="20" fill="#111"/>
<rect x="1015.6" y="1016" width="4.8" height="24" fill="#111"/>
<rect x="1062.1" y="1016" width="4.8" height="20" fill="#111"/>
<rect x="1108.6" y="1016" width="4.8" height="24" fill="#111"/>
<rect x="1155.1" y="1016" width="4.8" height="20" fill="#111"/>
<rect x="1201.6" y="1016" width="4.8" height="28" fill="#111"/>
<rect x="1247.5" y="1016" width="4.8" height="20" fill="#111"/>
<rect x="1293.4" y="1016" width="4.8" height="24" fill="#111"/>
<rect x="1339.3" y="1016" width="4.8" height="20" fill="#111"/>
<rect x="1385.2" y="1016" width="4.8" height="24" fill="#111"/>
<rect x="1431.1" y="1016" width="4.8" height="20" fill="#111"/>
<rect x="1477.0" y="1016" width="4.8" height="24" fill="#111"/>
<rect x="1522.9" y="1016" width="4.8" height="20" fill="#111"/>
<rect x="1568.8" y="1016" width="4.8" height="24" fill="#111"/>
<rect x="1614.7" y="1016" width="4.8" height="20" fill="#111"/>
<rect x="1660.6" y="1016" width="4.8" height="28" fill="#111"/>
<rect x="1707.2" y="1016" width="4.8" height="20" fill="#111"/>
<rect x="1753.8" y="1016" width="4.8" height="24" fill="#111"/>
<rect x="1800.4" y="1016" width="4.8" height="20" fill="#111"/>
<rect x="1847.0" y="1016" width="4.8" height="24" fill="#111"/>
<rect x="1893.6" y="1016" width="4.8" height="20" fill="#111"/>
<rect x="1940.2" y="1016" width="4.8" height="24" fill="#111"/>
<rect x="1986.8" y="1016" width="4.8" height="20" fill="#111"/>
<rect x="2033.4" y="1016" width="4.8" height="24" fill="#111"/>
<rect x="2080.0" y="1016" width="4.8" height="20" fill="#111"/>
<rect x="2126.6" y="1016" width="4.8" height="28" fill="#111"/>
<path d="M330.0 118.0h10V182.0h-10zM299.0 73.5h72.0v8.4h-72.0zM283.0 81.6h104.0v8.4h-104.0zM275.0 89.7h120.0v8.4h-120.0zM271.0 97.8h128.0v8.4h-128.0zM271.0 105.9h128.0v8.4h-128.0zM271.0 114.0h128.0v8.4h-128.0zM271.0 122.0h128.0v8.4h-128.0zM271.0 130.1h128.0v8.4h-128.0zM275.0 138.2h120.0v8.4h-120.0zM283.0 146.3h104.0v8.4h-104.0zM299.0 154.4h72.0v8.4h-72.0zM328.0 69.5h14v8h-14zM328.0 158.5h14v8h-14zM266.0 112.0h8v12h-8zM396.0 112.0h8v12h-8z" fill="#9ba7bf"/>
<text x="336" y="144.25" font-family='"Liberation Sans", Arial, sans-serif' font-size="70" font-weight="normal" fill="#f6f8fc" text-anchor="middle" textLength="88" lengthAdjust="spacingAndGlyphs" stroke="#cfd6e6" stroke-width="0.8" paint-order="stroke">Mn</text>
<path d="M323.5 224.0h10V297.0h-10zM300.5 182.5h56.0v7.8h-56.0zM288.5 190.0h80.0v7.8h-80.0zM284.5 197.6h88.0v7.8h-88.0zM280.5 205.1h96.0v7.8h-96.0zM280.5 212.7h96.0v7.8h-96.0zM280.5 220.2h96.0v7.8h-96.0zM280.5 227.8h96.0v7.8h-96.0zM280.5 235.3h96.0v7.8h-96.0zM284.5 242.9h88.0v7.8h-88.0zM288.5 250.4h80.0v7.8h-80.0zM300.5 258.0h56.0v7.8h-56.0zM321.5 178.5h14v8h-14zM321.5 261.5h14v8h-14zM276.0 218.0h8v12h-8zM373.0 218.0h8v12h-8z" fill="#9ba7bf"/>
<text x="328.5" y="250.25" font-family='"Liberation Sans", Arial, sans-serif' font-size="70" font-weight="normal" fill="#f6f8fc" text-anchor="middle" textLength="44" lengthAdjust="spacingAndGlyphs" stroke="#cfd6e6" stroke-width="0.8" paint-order="stroke">O</text>
<path d="M366.0 323.0h10V396.0h-10zM343.0 280.0h56.0v8.1h-56.0zM331.0 287.8h80.0v8.1h-80.0zM327.0 295.6h88.0v8.1h-88.0zM323.0 303.5h96.0v8.1h-96.0zM323.0 311.3h96.0v8.1h-96.0zM323.0 319.1h96.0v8.1h-96.0zM323.0 326.9h96.0v8.1h-96.0zM323.0 334.7h96.0v8.1h-96.0zM327.0 342.5h88.0v8.1h-88.0zM331.0 350.4h80.0v8.1h-80.0zM343.0 358.2h56.0v8.1h-56.0zM364.0 276.0h14v8h-14zM364.0 362.0h14v8h-14zM318.0 317.0h8v12h-8zM416.0 317.0h8v12h-8z" fill="#9ba7bf"/>
<text x="372" y="349.25" font-family='"Liberation Sans", Arial, sans-serif' font-size="70" font-weight="normal" fill="#f6f8fc" text-anchor="middle" textLength="69" lengthAdjust="spacingAndGlyphs" stroke="#cfd6e6" stroke-width="0.8" paint-order="stroke">Zn</text>
<g clip-path="url(#clipMnA)">
<path d="M819.0 120.0h10V195.0h-10zM792.0 75.5h64.0v8.4h-64.0zM776.0 83.6h96.0v8.4h-96.0zM768.0 91.7h112.0v8.4h-112.0zM764.0 99.8h120.0v8.4h-120.0zM761.0 107.9h126.0v8.4h-126.0zM761.0 116.0h126.0v8.4h-126.0zM761.0 124.0h126.0v8.4h-126.0zM764.0 132.1h120.0v8.4h-120.0zM768.0 140.2h112.0v8.4h-112.0zM776.0 148.3h96.0v8.4h-96.0zM792.0 156.4h64.0v8.4h-64.0zM817.0 71.5h14v8h-14zM817.0 160.5h14v8h-14zM757.0 114.0h8v12h-8zM883.0 114.0h8v12h-8z" fill="#9ba7bf"/>
<text x="825" y="146.25" font-family='"Liberation Sans", Arial, sans-serif' font-size="70" font-weight="normal" fill="#f6f8fc" text-anchor="middle" textLength="90" lengthAdjust="spacingAndGlyphs" stroke="#cfd6e6" stroke-width="0.8" paint-order="stroke">Mn</text>
</g>
<path d="M1071.0 632.0h10V705.0h-10zM1052.0 588.5h48.0v8.2h-48.0zM1040.0 596.4h72.0v8.2h-72.0zM1036.0 604.3h80.0v8.2h-80.0zM1032.0 612.2h88.0v8.2h-88.0zM1032.0 620.1h88.0v8.2h-88.0zM1030.0 628.0h92.0v8.2h-92.0zM1032.0 636.0h88.0v8.2h-88.0zM1032.0 643.9h88.0v8.2h-88.0zM1036.0 651.8h80.0v8.2h-80.0zM1040.0 659.7h72.0v8.2h-72.0zM1052.0 667.6h48.0v8.2h-48.0zM1069.0 584.5h14v8h-14zM1069.0 671.5h14v8h-14zM1026.0 626.0h8v12h-8zM1118.0 626.0h8v12h-8z" fill="#9ba7bf"/>
<text x="1077" y="658.25" font-family='"Liberation Sans", Arial, sans-serif' font-size="70" font-weight="normal" fill="#f6f8fc" text-anchor="middle" textLength="69" lengthAdjust="spacingAndGlyphs" stroke="#cfd6e6" stroke-width="0.8" paint-order="stroke">Zn</text>
<path d="M1159.0 892.0h10V967.0h-10zM1140.0 848.5h48.0v8.2h-48.0zM1128.0 856.4h72.0v8.2h-72.0zM1124.0 864.3h80.0v8.2h-80.0zM1120.0 872.2h88.0v8.2h-88.0zM1120.0 880.1h88.0v8.2h-88.0zM1118.0 888.0h92.0v8.2h-92.0zM1120.0 896.0h88.0v8.2h-88.0zM1120.0 903.9h88.0v8.2h-88.0zM1124.0 911.8h80.0v8.2h-80.0zM1128.0 919.7h72.0v8.2h-72.0zM1140.0 927.6h48.0v8.2h-48.0zM1157.0 844.5h14v8h-14zM1157.0 931.5h14v8h-14zM1114.0 886.0h8v12h-8zM1206.0 886.0h8v12h-8z" fill="#9ba7bf"/>
<text x="1165" y="918.25" font-family='"Liberation Sans", Arial, sans-serif' font-size="70" font-weight="normal" fill="#f6f8fc" text-anchor="middle" textLength="69" lengthAdjust="spacingAndGlyphs" stroke="#cfd6e6" stroke-width="0.8" paint-order="stroke">Zn</text>
<text x="222" y="300" font-family='"Liberation Sans", Arial, sans-serif' font-size="70" font-weight="normal" fill="#2e2a5c" text-anchor="end" textLength="145" lengthAdjust="spacingAndGlyphs" >3000</text>
<text x="222" y="551" font-family='"Liberation Sans", Arial, sans-serif' font-size="70" font-weight="normal" fill="#2e2a5c" text-anchor="end" textLength="145" lengthAdjust="spacingAndGlyphs" >2000</text>
<text x="222" y="796.5" font-family='"Liberation Sans", Arial, sans-serif' font-size="70" font-weight="normal" fill="#2e2a5c" text-anchor="end" textLength="145" lengthAdjust="spacingAndGlyphs" >1000</text>
<text x="222" y="1040" font-family='"Liberation Sans", Arial, sans-serif' font-size="70" font-weight="normal" fill="#2e2a5c" text-anchor="end" textLength="36" lengthAdjust="spacingAndGlyphs" >0</text>
<text x="273.5" y="1124" font-family='"Liberation Sans", Arial, sans-serif' font-size="72" font-weight="normal" fill="#2e2a5c" text-anchor="middle" textLength="35" lengthAdjust="spacingAndGlyphs" >0</text>
<text x="733" y="1124" font-family='"Liberation Sans", Arial, sans-serif' font-size="72" font-weight="normal" fill="#2e2a5c" text-anchor="middle" textLength="35" lengthAdjust="spacingAndGlyphs" >5</text>
<text x="1201.5" y="1124" font-family='"Liberation Sans", Arial, sans-serif' font-size="72" font-weight="normal" fill="#2e2a5c" text-anchor="middle" textLength="70" lengthAdjust="spacingAndGlyphs" >10</text>
<text x="1661.5" y="1124" font-family='"Liberation Sans", Arial, sans-serif' font-size="72" font-weight="normal" fill="#2e2a5c" text-anchor="middle" textLength="70" lengthAdjust="spacingAndGlyphs" >15</text>
<g clip-path="url(#clip20a)">
<text x="2127" y="1124" font-family='"Liberation Sans", Arial, sans-serif' font-size="72" font-weight="normal" fill="#2e2a5c" text-anchor="middle" textLength="74" lengthAdjust="spacingAndGlyphs" >20</text>
</g>
<text x="25" y="160" font-family='"Liberation Sans", Arial, sans-serif' font-size="68" font-weight="bold" fill="#000" text-anchor="start" textLength="85" lengthAdjust="spacingAndGlyphs" >(a)</text>
<text x="0" y="0" font-family='"Liberation Sans", Arial, sans-serif' font-size="70" font-weight="bold" fill="#000" text-anchor="start" textLength="200" lengthAdjust="spacingAndGlyphs" transform="translate(77,520) rotate(-90)" >Count</text>
<text x="1462" y="1207" font-family='"Liberation Sans", Arial, sans-serif' font-size="68" font-weight="bold" fill="#000" text-anchor="start" textLength="431" lengthAdjust="spacingAndGlyphs" >Energy (keV)</text>
<text x="1610" y="106" font-family='"Liberation Sans", Arial, sans-serif' font-size="50" font-weight="normal" fill="#1a1a1a" text-anchor="start" textLength="369" lengthAdjust="spacing" stroke="#222" stroke-width="0.7">Quantitative results</text>
<polyline points="1585.0,850.5 1585.0,263.0 1660.0,202.0 2139.0,202.0 2139.0,789.5 2064.0,850.5 1585.0,850.5" fill="none" stroke="#bebebe" stroke-width="3.2"/>
<polyline points="1601.0,833.5 1601.0,263.0 1662.6,213.0 2125.5,213.0 2125.5,782.0 2064.0,833.5 1601.0,833.5" fill="none" stroke="#bebebe" stroke-width="3.2"/>
<polyline points="1662.6,213.0 1662.6,782.0 2125.5,782.0" fill="none" stroke="#bebebe" stroke-width="3.2"/>
<polyline points="1662.6,782.0 1601.0,833.5" fill="none" stroke="#bebebe" stroke-width="3.2"/>
<polyline points="2064.0,833.5 2064.0,850.5" fill="none" stroke="#bebebe" stroke-width="3.2"/>
<polyline points="1585.0,263.0 1601.0,263.0" fill="none" stroke="#bebebe" stroke-width="3.2"/>
<polyline points="1585.0,403.7 1601.0,403.7" fill="none" stroke="#bebebe" stroke-width="3.2"/>
<polyline points="1585.0,546.0 1601.0,546.0" fill="none" stroke="#bebebe" stroke-width="3.2"/>
<polyline points="1585.0,689.4 1601.0,689.4" fill="none" stroke="#bebebe" stroke-width="3.2"/>
<polyline points="1585.0,833.5 1601.0,833.5" fill="none" stroke="#bebebe" stroke-width="3.2"/>
<polyline points="1755.0,833.5 1755.0,850.5" fill="none" stroke="#bebebe" stroke-width="3.2"/>
<polyline points="1910.0,833.5 1910.0,850.5" fill="none" stroke="#bebebe" stroke-width="3.2"/>
<polygon points="1739.0,498.5 1799.0,447.5 1799.0,782.5 1739.0,833.5" fill="#03067c" stroke="#02045a" stroke-width="1.5"/>
<polygon points="1618.5,498.5 1739.0,498.5 1799.0,447.5 1678.5,447.5" fill="#03067c" stroke="#02045a" stroke-width="1.5"/>
<rect x="1618.5" y="498.5" width="120.5" height="335.0" fill="#0a1ef5" stroke="#02045a" stroke-width="1"/>
<polygon points="1894.0,295.0 1955.0,244.0 1955.0,782.5 1894.0,833.5" fill="#008222" stroke="#006a1a" stroke-width="1.5"/>
<polygon points="1771.5,295.0 1894.0,295.0 1955.0,244.0 1832.5,244.0" fill="#008222" stroke="#006a1a" stroke-width="1.5"/>
<rect x="1771.5" y="295" width="122.5" height="538.5" fill="#00fa4c" stroke="#006a1a" stroke-width="1"/>
<polygon points="2048.0,282.0 2109.0,231.0 2109.0,782.5 2048.0,833.5" fill="#008080" stroke="#006868" stroke-width="1.5"/>
<polygon points="1925.0,282.0 2048.0,282.0 2109.0,231.0 1986.0,231.0" fill="#008080" stroke="#006868" stroke-width="1.5"/>
<rect x="1925" y="282" width="123" height="551.5" fill="#00ffff" stroke="#006868" stroke-width="1"/>
<text x="1564" y="276" font-family='"Liberation Sans", Arial, sans-serif' font-size="39" font-weight="normal" fill="#222" text-anchor="end" stroke="#222" stroke-width="0.7">40</text>
<text x="1564" y="416.7" font-family='"Liberation Sans", Arial, sans-serif' font-size="39" font-weight="normal" fill="#222" text-anchor="end" stroke="#222" stroke-width="0.7">30</text>
<text x="1564" y="559" font-family='"Liberation Sans", Arial, sans-serif' font-size="39" font-weight="normal" fill="#222" text-anchor="end" stroke="#222" stroke-width="0.7">20</text>
<text x="1564" y="702.4" font-family='"Liberation Sans", Arial, sans-serif' font-size="39" font-weight="normal" fill="#222" text-anchor="end" stroke="#222" stroke-width="0.7">10</text>
<text x="1564" y="846.5" font-family='"Liberation Sans", Arial, sans-serif' font-size="39" font-weight="normal" fill="#222" text-anchor="end" stroke="#222" stroke-width="0.7">0</text>
<text x="1677.7" y="908" font-family='"Liberation Sans", Arial, sans-serif' font-size="38" font-weight="normal" fill="#222" text-anchor="middle" textLength="30" lengthAdjust="spacingAndGlyphs" stroke="#222" stroke-width="0.7">O</text>
<text x="1831.8" y="908" font-family='"Liberation Sans", Arial, sans-serif' font-size="38" font-weight="normal" fill="#222" text-anchor="middle" textLength="44" lengthAdjust="spacingAndGlyphs" stroke="#222" stroke-width="0.7">Mn</text>
<text x="1985" y="908" font-family='"Liberation Sans", Arial, sans-serif' font-size="38" font-weight="normal" fill="#222" text-anchor="middle" textLength="40" lengthAdjust="spacingAndGlyphs" stroke="#222" stroke-width="0.7">Zn</text>
<text x="0" y="0" font-family='"Liberation Sans", Arial, sans-serif' font-size="50" font-weight="normal" fill="#222" text-anchor="start" textLength="200" lengthAdjust="spacingAndGlyphs" transform="translate(1491.6,630) rotate(-90)" stroke="#222" stroke-width="0.7">Weight%</text>
<rect x="268" y="1301" width="1869" height="940" fill="#07366a"/>
<rect x="80" y="1301" width="190" height="3" fill="#0c3c78"/>
<polygon points="278.0,2239.0 278.0,2200.0 279.0,2166.7 280.0,2133.3 281.0,2100.0 282.0,1950.0 283.0,1800.0 284.0,1550.5 285.0,1301.0 286.0,1301.0 287.0,1301.0 288.0,1301.0 289.0,1301.0 290.0,1301.0 291.0,1301.0 292.0,1301.0 293.0,1301.0 294.0,1301.0 295.0,1301.0 296.0,1301.0 297.0,1301.0 298.0,1301.0 299.0,1301.0 300.0,1467.3 301.0,1633.7 302.0,1800.0 303.0,1950.0 304.0,2100.0 305.0,2133.3 306.0,2166.7 307.0,2146.7 308.0,2120.0 309.0,2035.0 310.0,1950.0 311.0,1886.7 312.0,1823.3 313.0,1760.0 314.0,1744.2 315.0,1728.5 316.0,1712.8 317.0,1697.0 318.0,1712.8 319.0,1728.5 320.0,1744.2 321.0,1760.0 322.0,1823.3 323.0,1886.7 324.0,1950.0 325.0,2006.7 326.0,2063.3 327.0,2120.0 328.0,2140.0 329.0,2160.0 330.0,2147.5 331.0,2130.0 332.0,2086.7 333.0,2043.3 334.0,2000.0 335.0,1970.0 336.0,1940.0 337.0,1910.0 338.0,1894.0 339.0,1892.0 340.0,1890.0 341.0,1892.0 342.0,1894.0 343.0,1910.0 344.0,1940.0 345.0,1970.0 346.0,2000.0 347.0,2043.3 348.0,2086.7 349.0,2130.0 350.0,2145.0 351.0,2160.0 352.0,2175.0 353.0,2190.0 354.0,2205.0 355.0,2211.3 356.0,2208.5 357.0,2211.0 358.0,2211.3 359.0,2211.6 360.0,2208.5 361.0,2212.2 362.0,2208.9 363.0,2210.0 364.0,2205.0 365.0,2193.0 366.0,2181.0 367.0,2169.0 368.0,2157.0 369.0,2145.0 370.0,2142.0 371.0,2139.0 372.0,2136.0 373.0,2133.0 374.0,2130.0 375.0,1965.0 376.0,1800.0 377.0,1675.2 378.0,1550.5 379.0,1425.8 380.0,1301.0 381.0,1301.0 382.0,1301.0 383.0,1301.0 384.0,1301.0 385.0,1301.0 386.0,1301.0 387.0,1301.0 388.0,1301.0 389.0,1301.0 390.0,1301.0 391.0,1425.8 392.0,1550.5 393.0,1675.2 394.0,1800.0 395.0,1950.0 396.0,2100.0 397.0,2122.5 398.0,2145.0 399.0,2167.5 400.0,2190.0 401.0,2195.5 402.0,2201.0 403.0,2206.5 404.0,2212.0 405.0,2214.8 406.0,2214.8 407.0,2215.5 408.0,2214.3 409.0,2213.4 410.0,2213.6 411.0,2212.4 412.0,2213.1 413.0,2215.4 414.0,2215.0 415.0,2213.5 416.0,2212.8 417.0,2212.0 418.0,2210.8 419.0,2211.3 420.0,2213.1 421.0,2213.3 422.0,2211.0 423.0,2212.5 424.0,2212.3 425.0,2211.8 426.0,2211.5 427.0,2211.6 428.0,2209.9 429.0,2211.0 430.0,2209.1 431.0,2209.9 432.0,2211.0 433.0,2210.0 434.0,2207.5 435.0,2205.0 436.0,2195.8 437.0,2186.7 438.0,2177.5 439.0,2168.3 440.0,2159.2 441.0,2150.0 442.0,2137.2 443.0,2124.4 444.0,2111.6 445.0,2098.8 446.0,2086.0 447.0,2084.3 448.0,2082.7 449.0,2081.0 450.0,2083.2 451.0,2085.5 452.0,2087.8 453.0,2090.0 454.0,2100.0 455.0,2110.0 456.0,2120.0 457.0,2130.0 458.0,2140.0 459.0,2150.0 460.0,2159.2 461.0,2168.3 462.0,2177.5 463.0,2186.7 464.0,2195.8 465.0,2205.0 466.0,2207.5 467.0,2208.5 468.0,2208.8 469.0,2207.7 470.0,2208.5 471.0,2201.7 472.0,2195.3 473.0,2189.0 474.0,2182.7 475.0,2176.3 476.0,2170.0 477.0,2161.2 478.0,2152.4 479.0,2143.6 480.0,2134.8 481.0,2126.0 482.0,2124.8 483.0,2123.5 484.0,2122.2 485.0,2121.0 486.0,2122.4 487.0,2123.8 488.0,2125.2 489.0,2126.6 490.0,2128.0 491.0,2134.0 492.0,2140.0 493.0,2146.0 494.0,2152.0 495.0,2158.0 496.0,2164.0 497.0,2170.0 498.0,2173.5 499.0,2177.0 500.0,2180.5 501.0,2184.0 502.0,2187.5 503.0,2191.0 504.0,2194.5 505.0,2198.0 506.0,2201.5 507.0,2205.0 508.0,2205.9 509.0,2206.8 510.0,2207.6 511.0,2207.7 512.0,2209.3 513.0,2208.6 514.0,2207.5 515.0,2206.6 516.0,2208.4 517.0,2208.3 518.0,2209.8 519.0,2209.9 520.0,2208.4 521.0,2207.5 522.0,2209.7 523.0,2206.2 524.0,2206.6 525.0,2208.5 526.0,2208.8 527.0,2206.9 528.0,2208.9 529.0,2210.0 530.0,2208.0 531.0,2208.3 532.0,2207.5 533.0,2207.8 534.0,2210.6 535.0,2208.3 536.0,2210.6 537.0,2210.5 538.0,2209.3 539.0,2208.0 540.0,2209.0 541.0,2207.5 542.0,2206.0 543.0,2203.6 544.0,2201.2 545.0,2198.8 546.0,2196.4 547.0,2194.0 548.0,2193.0 549.0,2192.0 550.0,2191.0 551.0,2192.0 552.0,2193.0 553.0,2194.0 554.0,2196.4 555.0,2198.8 556.0,2201.2 557.0,2203.6 558.0,2206.0 559.0,2207.5 560.0,2209.0 561.0,2208.7 562.0,2212.1 563.0,2209.4 564.0,2210.7 565.0,2210.3 566.0,2211.0 567.0,2210.9 568.0,2211.6 569.0,2209.1 570.0,2211.8 571.0,2210.0 572.0,2211.0 573.0,2210.3 574.0,2210.2 575.0,2211.2 576.0,2211.1 577.0,2210.7 578.0,2212.3 579.0,2211.8 580.0,2209.6 581.0,2210.6 582.0,2211.5 583.0,2213.4 584.0,2213.4 585.0,2212.1 586.0,2210.0 587.0,2213.1 588.0,2211.8 589.0,2212.5 590.0,2213.1 591.0,2212.9 592.0,2212.3 593.0,2214.1 594.0,2212.1 595.0,2212.2 596.0,2214.1 597.0,2211.6 598.0,2212.0 599.0,2214.2 600.0,2211.3 601.0,2214.4 602.0,2213.9 603.0,2212.9 604.0,2212.3 605.0,2214.4 606.0,2214.9 607.0,2211.9 608.0,2213.3 609.0,2213.6 610.0,2213.5 611.0,2212.9 612.0,2212.2 613.0,2214.0 614.0,2214.9 615.0,2212.0 616.0,2212.7 617.0,2215.1 618.0,2215.1 619.0,2214.6 620.0,2212.1 621.0,2214.9 622.0,2216.0 623.0,2216.1 624.0,2215.0 625.0,2212.4 626.0,2215.7 627.0,2213.2 628.0,2215.0 629.0,2216.3 630.0,2215.3 631.0,2213.1 632.0,2213.8 633.0,2216.3 634.0,2213.3 635.0,2215.2 636.0,2214.5 637.0,2213.5 638.0,2215.4 639.0,2213.1 640.0,2213.4 641.0,2214.6 642.0,2213.4 643.0,2213.4 644.0,2215.6 645.0,2216.3 646.0,2216.9 647.0,2214.0 648.0,2215.3 649.0,2214.9 650.0,2216.1 651.0,2215.7 652.0,2217.6 653.0,2215.4 654.0,2214.2 655.0,2216.8 656.0,2214.7 657.0,2216.7 658.0,2216.2 659.0,2217.9 660.0,2216.6 661.0,2216.9 662.0,2215.5 663.0,2216.8 664.0,2215.6 665.0,2217.7 666.0,2216.8 667.0,2215.4 668.0,2215.8 669.0,2216.4 670.0,2218.0 671.0,2215.8 672.0,2218.0 673.0,2217.8 674.0,2215.6 675.0,2218.0 676.0,2215.8 677.0,2216.0 678.0,2217.9 679.0,2216.6 680.0,2219.2 681.0,2217.7 682.0,2217.1 683.0,2219.1 684.0,2216.1 685.0,2218.9 686.0,2216.3 687.0,2216.8 688.0,2220.0 689.0,2219.0 690.0,2217.3 691.0,2216.9 692.0,2220.4 693.0,2219.2 694.0,2219.9 695.0,2217.3 696.0,2219.3 697.0,2218.3 698.0,2217.9 699.0,2218.3 700.0,2219.5 701.0,2218.5 702.0,2218.7 703.0,2217.8 704.0,2220.6 705.0,2220.0 706.0,2220.7 707.0,2219.3 708.0,2221.0 709.0,2219.7 710.0,2220.1 711.0,2220.1 712.0,2220.8 713.0,2219.5 714.0,2218.4 715.0,2218.2 716.0,2218.9 717.0,2218.3 718.0,2221.8 719.0,2220.2 720.0,2221.4 721.0,2218.5 722.0,2220.4 723.0,2222.2 724.0,2221.1 725.0,2220.4 726.0,2220.7 727.0,2219.3 728.0,2219.6 729.0,2219.6 730.0,2220.6 731.0,2220.7 732.0,2222.7 733.0,2219.8 734.0,2220.3 735.0,2220.4 736.0,2220.0 737.0,2220.6 738.0,2220.4 739.0,2221.5 740.0,2219.7 741.0,2223.4 742.0,2221.2 743.0,2223.5 744.0,2222.6 745.0,2222.6 746.0,2221.8 747.0,2223.8 748.0,2220.5 749.0,2222.8 750.0,2221.3 751.0,2222.9 752.0,2223.2 753.0,2221.0 754.0,2221.2 755.0,2220.6 756.0,2221.4 757.0,2220.9 758.0,2222.2 759.0,2224.6 760.0,2222.2 761.0,2222.1 762.0,2222.7 763.0,2222.0 764.0,2223.9 765.0,2223.9 766.0,2221.7 767.0,2222.1 768.0,2223.9 769.0,2225.0 770.0,2223.9 771.0,2223.1 772.0,2225.3 773.0,2221.5 774.0,2221.8 775.0,2224.7 776.0,2223.3 777.0,2221.9 778.0,2224.0 779.0,2225.8 780.0,2223.9 781.0,2223.3 782.0,2222.4 783.0,2222.3 784.0,2225.7 785.0,2224.1 786.0,2226.0 787.0,2222.5 788.0,2223.3 789.0,2222.6 790.0,2224.0 791.0,2222.7 792.0,2223.6 793.0,2224.2 794.0,2223.9 795.0,2222.9 796.0,2222.9 797.0,2226.7 798.0,2223.6 799.0,2225.0 800.0,2224.6 801.0,2225.2 802.0,2223.4 803.0,2224.3 804.0,2223.6 805.0,2225.3 806.0,2226.9 807.0,2225.6 808.0,2226.7 809.0,2224.1 810.0,2223.4 811.0,2225.5 812.0,2225.3 813.0,2225.7 814.0,2224.9 815.0,2226.0 816.0,2223.3 817.0,2220.7 818.0,2218.0 819.0,2215.3 820.0,2212.7 821.0,2210.0 822.0,2204.0 823.0,2198.0 824.0,2192.0 825.0,2186.0 826.0,2180.0 827.0,2178.7 828.0,2177.3 829.0,2176.0 830.0,2177.3 831.0,2178.7 832.0,2180.0 833.0,2186.0 834.0,2192.0 835.0,2198.0 836.0,2204.0 837.0,2210.0 838.0,2212.7 839.0,2215.3 840.0,2218.0 841.0,2220.7 842.0,2223.3 843.0,2225.5 844.0,2227.3 845.0,2226.6 846.0,2228.0 847.0,2227.0 848.0,2227.5 849.0,2226.8 850.0,2226.3 851.0,2227.8 852.0,2227.2 853.0,2228.4 854.0,2227.5 855.0,2227.5 856.0,2225.8 857.0,2228.0 858.0,2226.3 859.0,2225.3 860.0,2225.1 861.0,2225.5 862.0,2225.9 863.0,2227.6 864.0,2226.1 865.0,2225.2 866.0,2228.0 867.0,2227.2 868.0,2225.1 869.0,2225.3 870.0,2225.6 871.0,2226.6 872.0,2228.6 873.0,2229.0 874.0,2227.7 875.0,2226.2 876.0,2227.0 877.0,2226.8 878.0,2226.7 879.0,2225.4 880.0,2227.7 881.0,2228.7 882.0,2228.4 883.0,2225.9 884.0,2227.6 885.0,2226.2 886.0,2228.4 887.0,2227.4 888.0,2229.4 889.0,2228.8 890.0,2226.2 891.0,2227.0 892.0,2229.4 893.0,2227.6 894.0,2227.6 895.0,2227.6 896.0,2229.0 897.0,2229.7 898.0,2228.1 899.0,2229.8 900.0,2228.4 901.0,2226.4 902.0,2229.3 903.0,2227.7 904.0,2226.3 905.0,2230.0 906.0,2226.3 907.0,2228.4 908.0,2228.1 909.0,2229.7 910.0,2227.8 911.0,2227.1 912.0,2227.3 913.0,2227.1 914.0,2228.5 915.0,2227.7 916.0,2229.3 917.0,2227.3 918.0,2227.8 919.0,2227.4 920.0,2230.3 921.0,2229.8 922.0,2229.8 923.0,2228.9 924.0,2228.1 925.0,2227.1 926.0,2229.8 927.0,2228.5 928.0,2226.7 929.0,2227.3 930.0,2227.0 931.0,2229.5 932.0,2230.2 933.0,2227.5 934.0,2229.9 935.0,2228.0 936.0,2229.5 937.0,2230.2 938.0,2229.3 939.0,2230.0 940.0,2228.3 941.0,2226.9 942.0,2228.9 943.0,2229.2 944.0,2227.6 945.0,2228.5 946.0,2228.2 947.0,2227.0 948.0,2228.2 949.0,2228.5 950.0,2228.9 951.0,2229.8 952.0,2228.6 953.0,2231.0 954.0,2230.3 955.0,2230.8 956.0,2229.9 957.0,2229.8 958.0,2229.3 959.0,2230.4 960.0,2228.7 961.0,2229.6 962.0,2230.0 963.0,2229.3 964.0,2228.4 965.0,2227.6 966.0,2227.7 967.0,2228.8 968.0,2229.7 969.0,2230.4 970.0,2230.3 971.0,2228.6 972.0,2231.2 973.0,2228.6 974.0,2230.3 975.0,2227.8 976.0,2230.5 977.0,2230.2 978.0,2231.4 979.0,2231.2 980.0,2230.4 981.0,2231.0 982.0,2230.6 983.0,2230.1 984.0,2228.5 985.0,2229.8 986.0,2231.3 987.0,2228.7 988.0,2231.7 989.0,2230.0 990.0,2229.4 991.0,2227.8 992.0,2229.4 993.0,2228.6 994.0,2230.5 995.0,2231.5 996.0,2231.6 997.0,2230.4 998.0,2229.5 999.0,2228.4 1000.0,2230.8 1001.0,2230.2 1002.0,2230.9 1003.0,2229.5 1004.0,2231.6 1005.0,2228.9 1006.0,2229.3 1007.0,2229.1 1008.0,2230.6 1009.0,2231.7 1010.0,2228.8 1011.0,2230.6 1012.0,2231.2 1013.0,2229.0 1014.0,2228.4 1015.0,2230.4 1016.0,2231.5 1017.0,2231.7 1018.0,2231.1 1019.0,2229.9 1020.0,2229.9 1021.0,2230.3 1022.0,2231.8 1023.0,2229.4 1024.0,2229.4 1025.0,2230.7 1026.0,2232.1 1027.0,2229.0 1028.0,2228.4 1029.0,2228.8 1030.0,2230.6 1031.0,2230.7 1032.0,2229.1 1033.0,2229.1 1034.0,2230.7 1035.0,2230.9 1036.0,2231.1 1037.0,2231.3 1038.0,2228.6 1039.0,2230.3 1040.0,2231.7 1041.0,2232.2 1042.0,2229.7 1043.0,2231.8 1044.0,2231.0 1045.0,2232.2 1046.0,2229.4 1047.0,2231.3 1048.0,2231.8 1049.0,2230.4 1050.0,2228.9 1051.0,2229.3 1052.0,2229.1 1053.0,2227.0 1054.0,2224.5 1055.0,2222.0 1056.0,2216.5 1057.0,2211.0 1058.0,2205.5 1059.0,2200.0 1060.0,2187.5 1061.0,2175.0 1062.0,2162.5 1063.0,2150.0 1064.0,2137.0 1065.0,2124.0 1066.0,2111.0 1067.0,2098.0 1068.0,2085.0 1069.0,2076.2 1070.0,2067.4 1071.0,2058.6 1072.0,2049.8 1073.0,2041.0 1074.0,2049.8 1075.0,2058.6 1076.0,2067.4 1077.0,2076.2 1078.0,2085.0 1079.0,2095.8 1080.0,2106.7 1081.0,2117.5 1082.0,2128.3 1083.0,2139.2 1084.0,2150.0 1085.0,2160.0 1086.0,2170.0 1087.0,2180.0 1088.0,2190.0 1089.0,2200.0 1090.0,2204.8 1091.0,2209.6 1092.0,2214.4 1093.0,2219.2 1094.0,2224.0 1095.0,2225.8 1096.0,2227.6 1097.0,2229.4 1098.0,2231.2 1099.0,2231.3 1100.0,2230.2 1101.0,2230.4 1102.0,2232.4 1103.0,2231.1 1104.0,2229.3 1105.0,2230.8 1106.0,2230.1 1107.0,2231.8 1108.0,2229.5 1109.0,2230.3 1110.0,2229.6 1111.0,2231.1 1112.0,2233.2 1113.0,2231.4 1114.0,2230.8 1115.0,2233.0 1116.0,2229.7 1117.0,2230.8 1118.0,2232.6 1119.0,2229.4 1120.0,2232.5 1121.0,2230.9 1122.0,2229.5 1123.0,2230.5 1124.0,2231.3 1125.0,2231.0 1126.0,2231.6 1127.0,2229.8 1128.0,2230.4 1129.0,2233.5 1130.0,2231.4 1131.0,2231.5 1132.0,2230.0 1133.0,2230.8 1134.0,2233.5 1135.0,2232.4 1136.0,2231.8 1137.0,2230.0 1138.0,2231.3 1139.0,2232.9 1140.0,2231.5 1141.0,2231.8 1142.0,2230.6 1143.0,2229.5 1144.0,2228.4 1145.0,2227.2 1146.0,2226.1 1147.0,2225.0 1148.0,2223.1 1149.0,2221.2 1150.0,2219.4 1151.0,2217.5 1152.0,2215.6 1153.0,2213.8 1154.0,2211.9 1155.0,2210.0 1156.0,2209.0 1157.0,2208.0 1158.0,2207.0 1159.0,2206.0 1160.0,2207.0 1161.0,2208.0 1162.0,2209.0 1163.0,2210.0 1164.0,2211.0 1165.0,2212.6 1166.0,2214.1 1167.0,2215.7 1168.0,2217.2 1169.0,2218.8 1170.0,2220.3 1171.0,2221.9 1172.0,2223.4 1173.0,2225.0 1174.0,2226.0 1175.0,2227.0 1176.0,2228.0 1177.0,2229.0 1178.0,2230.0 1179.0,2231.0 1180.0,2231.5 1181.0,2233.0 1182.0,2234.0 1183.0,2230.8 1184.0,2231.4 1185.0,2232.4 1186.0,2231.8 1187.0,2233.8 1188.0,2232.3 1189.0,2233.9 1190.0,2231.4 1191.0,2232.9 1192.0,2234.7 1193.0,2233.7 1194.0,2231.2 1195.0,2231.3 1196.0,2233.5 1197.0,2232.4 1198.0,2232.4 1199.0,2232.9 1200.0,2233.3 1201.0,2234.9 1202.0,2232.0 1203.0,2233.3 1204.0,2232.1 1205.0,2233.3 1206.0,2234.0 1207.0,2231.6 1208.0,2233.0 1209.0,2234.0 1210.0,2231.2 1211.0,2234.2 1212.0,2232.9 1213.0,2233.2 1214.0,2233.6 1215.0,2234.4 1216.0,2231.5 1217.0,2233.3 1218.0,2231.4 1219.0,2232.8 1220.0,2232.7 1221.0,2231.4 1222.0,2232.5 1223.0,2233.1 1224.0,2234.0 1225.0,2235.1 1226.0,2232.9 1227.0,2233.5 1228.0,2234.3 1229.0,2235.2 1230.0,2235.2 1231.0,2235.4 1232.0,2232.7 1233.0,2232.2 1234.0,2235.2 1235.0,2231.8 1236.0,2233.3 1237.0,2234.5 1238.0,2233.7 1239.0,2233.1 1240.0,2235.3 1241.0,2232.8 1242.0,2233.8 1243.0,2235.0 1244.0,2232.2 1245.0,2233.1 1246.0,2233.7 1247.0,2234.0 1248.0,2232.5 1249.0,2233.5 1250.0,2232.0 1251.0,2232.1 1252.0,2233.1 1253.0,2232.4 1254.0,2235.7 1255.0,2232.9 1256.0,2232.9 1257.0,2235.0 1258.0,2234.8 1259.0,2232.9 1260.0,2235.2 1261.0,2234.4 1262.0,2233.5 1263.0,2234.4 1264.0,2232.9 1265.0,2233.0 1266.0,2235.5 1267.0,2233.7 1268.0,2235.6 1269.0,2237.7 1269.0,2239.0" fill="#ffff00"/>
<rect x="1276" y="2233" width="6" height="5" fill="#ffff00"/>
<rect x="1290" y="2233" width="8" height="5" fill="#ffff00"/>
<rect x="1324" y="2233" width="25" height="5" fill="#ffff00"/>
<g clip-path="url(#semBc)" style="isolation:isolate">
<rect x="618" y="1301" width="776" height="580" fill="#727272"/>
<ellipse cx="939" cy="1384" rx="28" ry="38" transform="rotate(0 939 1384)" fill="#fff" opacity="0.8" filter="url(#semBb)"/>
<ellipse cx="944" cy="1468" rx="30" ry="30" transform="rotate(0 944 1468)" fill="#fff" opacity="0.7" filter="url(#semBb)"/>
<ellipse cx="1142" cy="1401" rx="26" ry="26" transform="rotate(0 1142 1401)" fill="#fff" opacity="0.8" filter="url(#semBb)"/>
<ellipse cx="1239" cy="1462" rx="26" ry="24" transform="rotate(0 1239 1462)" fill="#fff" opacity="0.8" filter="url(#semBb)"/>
<ellipse cx="1344" cy="1401" rx="22" ry="30" transform="rotate(0 1344 1401)" fill="#eee" opacity="0.6" filter="url(#semBb)"/>
<ellipse cx="672" cy="1473" rx="30" ry="50" transform="rotate(-20 672 1473)" fill="#bbb" opacity="0.8" filter="url(#semBb)"/>
<ellipse cx="728" cy="1534" rx="22" ry="22" transform="rotate(0 728 1534)" fill="#fff" opacity="0.7" filter="url(#semBb)"/>
<ellipse cx="767" cy="1590" rx="22" ry="26" transform="rotate(0 767 1590)" fill="#eee" opacity="0.7" filter="url(#semBb)"/>
<ellipse cx="1111" cy="1634" rx="24" ry="34" transform="rotate(0 1111 1634)" fill="#ddd" opacity="0.7" filter="url(#semBb)"/>
<ellipse cx="1178" cy="1695" rx="22" ry="26" transform="rotate(0 1178 1695)" fill="#ddd" opacity="0.6" filter="url(#semBb)"/>
<ellipse cx="1239" cy="1690" rx="18" ry="40" transform="rotate(0 1239 1690)" fill="#ddd" opacity="0.6" filter="url(#semBb)"/>
<ellipse cx="1322" cy="1701" rx="20" ry="36" transform="rotate(0 1322 1701)" fill="#eee" opacity="0.7" filter="url(#semBb)"/>
<ellipse cx="878" cy="1773" rx="30" ry="44" transform="rotate(0 878 1773)" fill="#bbb" opacity="0.8" filter="url(#semBb)"/>
<ellipse cx="1283" cy="1768" rx="26" ry="26" transform="rotate(0 1283 1768)" fill="#ccc" opacity="0.7" filter="url(#semBb)"/>
<ellipse cx="1350" cy="1595" rx="30" ry="24" transform="rotate(0 1350 1595)" fill="#ccc" opacity="0.6" filter="url(#semBb)"/>
<ellipse cx="878" cy="1540" rx="40" ry="30" transform="rotate(0 878 1540)" fill="#000" opacity="0.7" filter="url(#semBb)"/>
<ellipse cx="1033" cy="1568" rx="40" ry="30" transform="rotate(0 1033 1568)" fill="#000" opacity="0.6" filter="url(#semBb)"/>
<ellipse cx="1211" cy="1540" rx="35" ry="30" transform="rotate(0 1211 1540)" fill="#000" opacity="0.6" filter="url(#semBb)"/>
<ellipse cx="989" cy="1818" rx="45" ry="25" transform="rotate(0 989 1818)" fill="#000" opacity="0.6" filter="url(#semBb)"/>
<ellipse cx="1100" cy="1830" rx="40" ry="25" transform="rotate(0 1100 1830)" fill="#000" opacity="0.6" filter="url(#semBb)"/>
<ellipse cx="830" cy="1400" rx="30" ry="30" transform="rotate(0 830 1400)" fill="#000" opacity="0.5" filter="url(#semBb)"/>
<rect x="614" y="1297" width="784" height="588" filter="url(#semB)" style="mix-blend-mode:overlay"/>
</g>
<rect x="639.5" y="1318.5" width="750" height="546" fill="none" stroke="#e83ad8" stroke-width="3"/>
<rect x="1392" y="1301" width="4" height="580" fill="#0c3c90"/>
<rect x="640" y="1320" width="127" height="29" rx="3" fill="#0b0a7e"/>
<text x="643" y="1342" font-family='"Liberation Sans", Arial, sans-serif' font-size="23" font-weight="normal" fill="#e8e060" text-anchor="start" textLength="121" lengthAdjust="spacingAndGlyphs" >Spectrum 1</text>
<text x="655" y="1819" font-family='"Liberation Sans", Arial, sans-serif' font-size="65" font-weight="bold" fill="#fff" text-anchor="start" textLength="175" lengthAdjust="spacingAndGlyphs" >90 µm</text>
<rect x="640" y="1834" width="396" height="15" fill="#fff"/>
<rect x="1396" y="1240" width="795" height="972" fill="#fff"/>
<rect x="2137" y="1240" width="54" height="1200" fill="#fff"/>
<rect x="2112.5" y="2214" width="3" height="25" fill="#1a1a20"/>
<rect x="268" y="1301" width="5" height="940" fill="#000"/>
<rect x="238" y="2236.8" width="31" height="4.8" fill="#111"/>
<rect x="251" y="2209.2" width="18" height="4.8" fill="#111"/>
<rect x="251" y="2181.5" width="18" height="4.8" fill="#111"/>
<rect x="251" y="2153.9" width="18" height="4.8" fill="#111"/>
<rect x="251" y="2126.2" width="18" height="4.8" fill="#111"/>
<rect x="243" y="2098.6" width="26" height="4.8" fill="#111"/>
<rect x="251" y="2070.9" width="18" height="4.8" fill="#111"/>
<rect x="251" y="2043.2" width="18" height="4.8" fill="#111"/>
<rect x="251" y="2015.6" width="18" height="4.8" fill="#111"/>
<rect x="251" y="1988.0" width="18" height="4.8" fill="#111"/>
<rect x="238" y="1960.3" width="31" height="4.8" fill="#111"/>
<rect x="251" y="1932.6" width="18" height="4.8" fill="#111"/>
<rect x="251" y="1905.0" width="18" height="4.8" fill="#111"/>
<rect x="251" y="1877.3" width="18" height="4.8" fill="#111"/>
<rect x="251" y="1849.7" width="18" height="4.8" fill="#111"/>
<rect x="243" y="1822.0" width="26" height="4.8" fill="#111"/>
<rect x="251" y="1794.4" width="18" height="4.8" fill="#111"/>
<rect x="251" y="1766.8" width="18" height="4.8" fill="#111"/>
<rect x="251" y="1739.1" width="18" height="4.8" fill="#111"/>
<rect x="251" y="1711.5" width="18" height="4.8" fill="#111"/>
<rect x="238" y="1683.8" width="31" height="4.8" fill="#111"/>
<rect x="251" y="1657.0" width="18" height="4.8" fill="#111"/>
<rect x="251" y="1630.2" width="18" height="4.8" fill="#111"/>
<rect x="251" y="1603.4" width="18" height="4.8" fill="#111"/>
<rect x="251" y="1576.6" width="18" height="4.8" fill="#111"/>
<rect x="243" y="1549.8" width="26" height="4.8" fill="#111"/>
<rect x="251" y="1523.0" width="18" height="4.8" fill="#111"/>
<rect x="251" y="1496.2" width="18" height="4.8" fill="#111"/>
<rect x="251" y="1469.4" width="18" height="4.8" fill="#111"/>
<rect x="251" y="1442.6" width="18" height="4.8" fill="#111"/>
<rect x="238" y="1415.8" width="31" height="4.8" fill="#111"/>
<rect x="251" y="1389.0" width="18" height="4.8" fill="#111"/>
<rect x="251" y="1362.2" width="18" height="4.8" fill="#111"/>
<rect x="251" y="1335.4" width="18" height="4.8" fill="#111"/>
<rect x="251" y="1308.6" width="18" height="4.8" fill="#111"/>
<rect x="238" y="2236.5" width="1895" height="5" fill="#000"/>
<rect x="284.6" y="2239" width="4.8" height="28" fill="#111"/>
<rect x="329.9" y="2239" width="4.8" height="20" fill="#111"/>
<rect x="375.2" y="2239" width="4.8" height="24" fill="#111"/>
<rect x="420.5" y="2239" width="4.8" height="20" fill="#111"/>
<rect x="465.8" y="2239" width="4.8" height="24" fill="#111"/>
<rect x="511.1" y="2239" width="4.8" height="20" fill="#111"/>
<rect x="556.4" y="2239" width="4.8" height="24" fill="#111"/>
<rect x="601.7" y="2239" width="4.8" height="20" fill="#111"/>
<rect x="647.0" y="2239" width="4.8" height="24" fill="#111"/>
<rect x="692.3" y="2239" width="4.8" height="20" fill="#111"/>
<rect x="737.6" y="2239" width="4.8" height="28" fill="#111"/>
<rect x="783.3" y="2239" width="4.8" height="20" fill="#111"/>
<rect x="829.0" y="2239" width="4.8" height="24" fill="#111"/>
<rect x="874.7" y="2239" width="4.8" height="20" fill="#111"/>
<rect x="920.4" y="2239" width="4.8" height="24" fill="#111"/>
<rect x="966.1" y="2239" width="4.8" height="20" fill="#111"/>
<rect x="1011.8" y="2239" width="4.8" height="24" fill="#111"/>
<rect x="1057.5" y="2239" width="4.8" height="20" fill="#111"/>
<rect x="1103.2" y="2239" width="4.8" height="24" fill="#111"/>
<rect x="1148.9" y="2239" width="4.8" height="20" fill="#111"/>
<rect x="1194.6" y="2239" width="4.8" height="28" fill="#111"/>
<rect x="1239.9" y="2239" width="4.8" height="20" fill="#111"/>
<rect x="1285.2" y="2239" width="4.8" height="24" fill="#111"/>
<rect x="1330.5" y="2239" width="4.8" height="20" fill="#111"/>
<rect x="1375.8" y="2239" width="4.8" height="24" fill="#111"/>
<rect x="1421.1" y="2239" width="4.8" height="20" fill="#111"/>
<rect x="1466.4" y="2239" width="4.8" height="24" fill="#111"/>
<rect x="1511.7" y="2239" width="4.8" height="20" fill="#111"/>
<rect x="1557.0" y="2239" width="4.8" height="24" fill="#111"/>
<rect x="1602.3" y="2239" width="4.8" height="20" fill="#111"/>
<rect x="1647.6" y="2239" width="4.8" height="28" fill="#111"/>
<rect x="1693.4" y="2239" width="4.8" height="20" fill="#111"/>
<rect x="1739.2" y="2239" width="4.8" height="24" fill="#111"/>
<rect x="1785.0" y="2239" width="4.8" height="20" fill="#111"/>
<rect x="1830.8" y="2239" width="4.8" height="24" fill="#111"/>
<rect x="1876.6" y="2239" width="4.8" height="20" fill="#111"/>
<rect x="1922.4" y="2239" width="4.8" height="24" fill="#111"/>
<rect x="1968.2" y="2239" width="4.8" height="20" fill="#111"/>
<rect x="2014.0" y="2239" width="4.8" height="24" fill="#111"/>
<rect x="2059.8" y="2239" width="4.8" height="20" fill="#111"/>
<rect x="2105.6" y="2239" width="4.8" height="28" fill="#111"/>
<rect x="2132" y="2236" width="5" height="140" fill="#0b3c7e"/>
<path d="M337.0 1360.0h10V1420.0h-10zM310.0 1316.5h64.0v8.2h-64.0zM294.0 1324.4h96.0v8.2h-96.0zM286.0 1332.3h112.0v8.2h-112.0zM282.0 1340.2h120.0v8.2h-120.0zM282.0 1348.1h120.0v8.2h-120.0zM282.0 1356.0h120.0v8.2h-120.0zM282.0 1364.0h120.0v8.2h-120.0zM282.0 1371.9h120.0v8.2h-120.0zM286.0 1379.8h112.0v8.2h-112.0zM294.0 1387.7h96.0v8.2h-96.0zM310.0 1395.6h64.0v8.2h-64.0zM335.0 1312.5h14v8h-14zM335.0 1399.5h14v8h-14zM277.0 1354.0h8v12h-8zM399.0 1354.0h8v12h-8z" fill="#9ba7bf"/>
<text x="343" y="1386.25" font-family='"Liberation Sans", Arial, sans-serif' font-size="70" font-weight="normal" fill="#f6f8fc" text-anchor="middle" textLength="88" lengthAdjust="spacingAndGlyphs" stroke="#cfd6e6" stroke-width="0.8" paint-order="stroke">Mn</text>
<g clip-path="url(#clipCb)">
<path d="M309.0 1461.0h10V1530.0h-10zM290.0 1417.5h48.0v8.2h-48.0zM278.0 1425.4h72.0v8.2h-72.0zM274.0 1433.3h80.0v8.2h-80.0zM270.5 1441.2h87.0v8.2h-87.0zM270.5 1449.1h87.0v8.2h-87.0zM270.5 1457.0h87.0v8.2h-87.0zM270.5 1465.0h87.0v8.2h-87.0zM270.5 1472.9h87.0v8.2h-87.0zM274.0 1480.8h80.0v8.2h-80.0zM278.0 1488.7h72.0v8.2h-72.0zM290.0 1496.6h48.0v8.2h-48.0zM307.0 1413.5h14v8h-14zM307.0 1500.5h14v8h-14zM266.5 1455.0h8v12h-8zM353.5 1455.0h8v12h-8z" fill="#9ba7bf"/>
<text x="314" y="1487.25" font-family='"Liberation Sans", Arial, sans-serif' font-size="70" font-weight="normal" fill="#f6f8fc" text-anchor="middle" textLength="42" lengthAdjust="spacingAndGlyphs" stroke="#cfd6e6" stroke-width="0.8" paint-order="stroke">C</text>
</g>
<path d="M332.0 1625.0h10V1690.0h-10zM313.0 1582.5h48.0v8.0h-48.0zM301.0 1590.2h72.0v8.0h-72.0zM297.0 1598.0h80.0v8.0h-80.0zM293.0 1605.7h88.0v8.0h-88.0zM293.0 1613.4h88.0v8.0h-88.0zM293.0 1621.1h88.0v8.0h-88.0zM293.0 1628.9h88.0v8.0h-88.0zM293.0 1636.6h88.0v8.0h-88.0zM297.0 1644.3h80.0v8.0h-80.0zM301.0 1652.0h72.0v8.0h-72.0zM313.0 1659.8h48.0v8.0h-48.0zM330.0 1578.5h14v8h-14zM330.0 1663.5h14v8h-14zM288.0 1619.0h8v12h-8zM378.0 1619.0h8v12h-8z" fill="#9ba7bf"/>
<text x="337" y="1651.25" font-family='"Liberation Sans", Arial, sans-serif' font-size="70" font-weight="normal" fill="#f6f8fc" text-anchor="middle" textLength="44" lengthAdjust="spacingAndGlyphs" stroke="#cfd6e6" stroke-width="0.8" paint-order="stroke">O</text>
<path d="M372.0 1720.0h10V1790.0h-10zM353.0 1676.5h48.0v8.2h-48.0zM341.0 1684.4h72.0v8.2h-72.0zM337.0 1692.3h80.0v8.2h-80.0zM333.0 1700.2h88.0v8.2h-88.0zM333.0 1708.1h88.0v8.2h-88.0zM331.0 1716.0h92.0v8.2h-92.0zM333.0 1724.0h88.0v8.2h-88.0zM333.0 1731.9h88.0v8.2h-88.0zM337.0 1739.8h80.0v8.2h-80.0zM341.0 1747.7h72.0v8.2h-72.0zM353.0 1755.6h48.0v8.2h-48.0zM370.0 1672.5h14v8h-14zM370.0 1759.5h14v8h-14zM327.0 1714.0h8v12h-8zM419.0 1714.0h8v12h-8z" fill="#9ba7bf"/>
<text x="378" y="1746.25" font-family='"Liberation Sans", Arial, sans-serif' font-size="70" font-weight="normal" fill="#f6f8fc" text-anchor="middle" textLength="69" lengthAdjust="spacingAndGlyphs" stroke="#cfd6e6" stroke-width="0.8" paint-order="stroke">Zn</text>
<path d="M820.0 2107.0h10V2178.0h-10zM793.0 2063.5h64.0v8.2h-64.0zM777.0 2071.4h96.0v8.2h-96.0zM769.0 2079.3h112.0v8.2h-112.0zM765.0 2087.2h120.0v8.2h-120.0zM765.0 2095.1h120.0v8.2h-120.0zM765.0 2103.0h120.0v8.2h-120.0zM765.0 2111.0h120.0v8.2h-120.0zM765.0 2118.9h120.0v8.2h-120.0zM769.0 2126.8h112.0v8.2h-112.0zM777.0 2134.7h96.0v8.2h-96.0zM793.0 2142.6h64.0v8.2h-64.0zM818.0 2059.5h14v8h-14zM818.0 2146.5h14v8h-14zM760.0 2101.0h8v12h-8zM882.0 2101.0h8v12h-8z" fill="#9ba7bf"/>
<text x="826" y="2133.25" font-family='"Liberation Sans", Arial, sans-serif' font-size="70" font-weight="normal" fill="#f6f8fc" text-anchor="middle" textLength="88" lengthAdjust="spacingAndGlyphs" stroke="#cfd6e6" stroke-width="0.8" paint-order="stroke">Mn</text>
<path d="M1066.0 1972.0h10V2044.0h-10zM1047.0 1928.5h48.0v8.2h-48.0zM1035.0 1936.4h72.0v8.2h-72.0zM1031.0 1944.3h80.0v8.2h-80.0zM1027.0 1952.2h88.0v8.2h-88.0zM1027.0 1960.1h88.0v8.2h-88.0zM1025.0 1968.0h92.0v8.2h-92.0zM1027.0 1976.0h88.0v8.2h-88.0zM1027.0 1983.9h88.0v8.2h-88.0zM1031.0 1991.8h80.0v8.2h-80.0zM1035.0 1999.7h72.0v8.2h-72.0zM1047.0 2007.6h48.0v8.2h-48.0zM1064.0 1924.5h14v8h-14zM1064.0 2011.5h14v8h-14zM1021.0 1966.0h8v12h-8zM1113.0 1966.0h8v12h-8z" fill="#9ba7bf"/>
<text x="1072" y="1998.25" font-family='"Liberation Sans", Arial, sans-serif' font-size="70" font-weight="normal" fill="#f6f8fc" text-anchor="middle" textLength="69" lengthAdjust="spacingAndGlyphs" stroke="#cfd6e6" stroke-width="0.8" paint-order="stroke">Zn</text>
<path d="M1154.0 2137.0h10V2208.0h-10zM1135.0 2093.5h48.0v8.2h-48.0zM1123.0 2101.4h72.0v8.2h-72.0zM1119.0 2109.3h80.0v8.2h-80.0zM1115.0 2117.2h88.0v8.2h-88.0zM1115.0 2125.1h88.0v8.2h-88.0zM1113.0 2133.0h92.0v8.2h-92.0zM1115.0 2141.0h88.0v8.2h-88.0zM1115.0 2148.9h88.0v8.2h-88.0zM1119.0 2156.8h80.0v8.2h-80.0zM1123.0 2164.7h72.0v8.2h-72.0zM1135.0 2172.6h48.0v8.2h-48.0zM1152.0 2089.5h14v8h-14zM1152.0 2176.5h14v8h-14zM1109.0 2131.0h8v12h-8zM1201.0 2131.0h8v12h-8z" fill="#9ba7bf"/>
<text x="1160" y="2163.25" font-family='"Liberation Sans", Arial, sans-serif' font-size="70" font-weight="normal" fill="#f6f8fc" text-anchor="middle" textLength="69" lengthAdjust="spacingAndGlyphs" stroke="#cfd6e6" stroke-width="0.8" paint-order="stroke">Zn</text>
<text x="232" y="1442" font-family='"Liberation Sans", Arial, sans-serif' font-size="70" font-weight="normal" fill="#2e2a5c" text-anchor="end" textLength="141" lengthAdjust="spacingAndGlyphs" >3000</text>
<text x="232" y="1710" font-family='"Liberation Sans", Arial, sans-serif' font-size="70" font-weight="normal" fill="#2e2a5c" text-anchor="end" textLength="141" lengthAdjust="spacingAndGlyphs" >2000</text>
<text x="232" y="1986.5" font-family='"Liberation Sans", Arial, sans-serif' font-size="70" font-weight="normal" fill="#2e2a5c" text-anchor="end" textLength="141" lengthAdjust="spacingAndGlyphs" >1000</text>
<text x="232" y="2263" font-family='"Liberation Sans", Arial, sans-serif' font-size="70" font-weight="normal" fill="#2e2a5c" text-anchor="end" textLength="36" lengthAdjust="spacingAndGlyphs" >0</text>
<text x="284" y="2343" font-family='"Liberation Sans", Arial, sans-serif' font-size="70" font-weight="normal" fill="#2e2a5c" text-anchor="middle" textLength="35" lengthAdjust="spacingAndGlyphs" >0</text>
<text x="737.0" y="2343" font-family='"Liberation Sans", Arial, sans-serif' font-size="70" font-weight="normal" fill="#2e2a5c" text-anchor="middle" textLength="35" lengthAdjust="spacingAndGlyphs" >5</text>
<text x="1194.0" y="2343" font-family='"Liberation Sans", Arial, sans-serif' font-size="70" font-weight="normal" fill="#2e2a5c" text-anchor="middle" textLength="68" lengthAdjust="spacingAndGlyphs" >10</text>
<text x="1647.0" y="2343" font-family='"Liberation Sans", Arial, sans-serif' font-size="70" font-weight="normal" fill="#2e2a5c" text-anchor="middle" textLength="68" lengthAdjust="spacingAndGlyphs" >15</text>
<g clip-path="url(#clip20b)">
<text x="2104" y="2343" font-family='"Liberation Sans", Arial, sans-serif' font-size="70" font-weight="normal" fill="#2e2a5c" text-anchor="middle" textLength="72" lengthAdjust="spacingAndGlyphs" >20</text>
</g>
<text x="25" y="1375" font-family='"Liberation Sans", Arial, sans-serif' font-size="69" font-weight="bold" fill="#000" text-anchor="start" textLength="90" lengthAdjust="spacingAndGlyphs" >(b)</text>
<text x="0" y="0" font-family='"Liberation Sans", Arial, sans-serif' font-size="70" font-weight="bold" fill="#000" text-anchor="start" textLength="197" lengthAdjust="spacingAndGlyphs" transform="translate(77,1927) rotate(-90)" >Count</text>
<text x="1460" y="2432" font-family='"Liberation Sans", Arial, sans-serif' font-size="68" font-weight="bold" fill="#000" text-anchor="start" textLength="430" lengthAdjust="spacingAndGlyphs" >Energy (keV)</text>
<text x="1572" y="1362.5" font-family='"Liberation Sans", Arial, sans-serif' font-size="50" font-weight="normal" fill="#1a1a1a" text-anchor="start" textLength="390" lengthAdjust="spacing" stroke="#222" stroke-width="0.7">Quantitative results</text>
<polyline points="1548.0,2140.0 1548.0,1510.0 1610.0,1457.0 2126.0,1457.0 2126.0,2087.0 2064.0,2140.0 1548.0,2140.0" fill="none" stroke="#bebebe" stroke-width="3.2"/>
<polyline points="1564.0,2123.0 1564.0,1510.0 1612.6,1468.0 2112.5,1468.0 2112.5,2079.5 2064.0,2123.0 1564.0,2123.0" fill="none" stroke="#bebebe" stroke-width="3.2"/>
<polyline points="1612.6,1468.0 1612.6,2079.5 2112.5,2079.5" fill="none" stroke="#bebebe" stroke-width="3.2"/>
<polyline points="1612.6,2079.5 1564.0,2123.0" fill="none" stroke="#bebebe" stroke-width="3.2"/>
<polyline points="2064.0,2123.0 2064.0,2140.0" fill="none" stroke="#bebebe" stroke-width="3.2"/>
<polyline points="1548.0,1510.0 1564.0,1510.0" fill="none" stroke="#bebebe" stroke-width="3.2"/>
<polyline points="1548.0,1630.0 1564.0,1630.0" fill="none" stroke="#bebebe" stroke-width="3.2"/>
<polyline points="1548.0,1752.0 1564.0,1752.0" fill="none" stroke="#bebebe" stroke-width="3.2"/>
<polyline points="1548.0,1876.0 1564.0,1876.0" fill="none" stroke="#bebebe" stroke-width="3.2"/>
<polyline points="1548.0,1999.0 1564.0,1999.0" fill="none" stroke="#bebebe" stroke-width="3.2"/>
<polyline points="1548.0,2120.0 1564.0,2120.0" fill="none" stroke="#bebebe" stroke-width="3.2"/>
<polyline points="1690.0,2123.0 1690.0,2140.0" fill="none" stroke="#bebebe" stroke-width="3.2"/>
<polyline points="1814.0,2123.0 1814.0,2140.0" fill="none" stroke="#bebebe" stroke-width="3.2"/>
<polyline points="1938.0,2123.0 1938.0,2140.0" fill="none" stroke="#bebebe" stroke-width="3.2"/>
<polygon points="1677.0,1559.0 1727.0,1517.0 1727.0,2078.0 1677.0,2120.0" fill="#03067c" stroke="#02045a" stroke-width="1.5"/>
<polygon points="1577.0,1559.0 1677.0,1559.0 1727.0,1517.0 1627.0,1517.0" fill="#03067c" stroke="#02045a" stroke-width="1.5"/>
<rect x="1577" y="1559" width="100" height="561" fill="#0a1ef5" stroke="#02045a" stroke-width="1"/>
<polygon points="1802.0,1814.0 1852.0,1772.0 1852.0,2078.0 1802.0,2120.0" fill="#008222" stroke="#006a1a" stroke-width="1.5"/>
<polygon points="1702.0,1814.0 1802.0,1814.0 1852.0,1772.0 1752.0,1772.0" fill="#008222" stroke="#006a1a" stroke-width="1.5"/>
<rect x="1702" y="1814" width="100" height="306" fill="#00fa4c" stroke="#006a1a" stroke-width="1"/>
<polygon points="1925.0,2095.0 1975.0,2055.0 1975.0,2080.0 1925.0,2120.0" fill="#008080" stroke="#006868" stroke-width="1.5"/>
<polygon points="1827.0,2095.0 1925.0,2095.0 1975.0,2055.0 1877.0,2055.0" fill="#008080" stroke="#006868" stroke-width="1.5"/>
<rect x="1827" y="2095" width="98" height="25" fill="#00ffff" stroke="#006868" stroke-width="1"/>
<polygon points="2050.0,1800.0 2100.0,1758.0 2100.0,2078.0 2050.0,2120.0" fill="#800000" stroke="#680000" stroke-width="1.5"/>
<polygon points="1950.0,1800.0 2050.0,1800.0 2100.0,1758.0 2000.0,1758.0" fill="#800000" stroke="#680000" stroke-width="1.5"/>
<rect x="1950" y="1800" width="100" height="320" fill="#ff0018" stroke="#680000" stroke-width="1"/>
<text x="1524" y="1524.5" font-family='"Liberation Sans", Arial, sans-serif' font-size="43" font-weight="normal" fill="#222" text-anchor="end" textLength="40" lengthAdjust="spacingAndGlyphs" stroke="#222" stroke-width="0.7">50</text>
<text x="1524" y="1644.5" font-family='"Liberation Sans", Arial, sans-serif' font-size="43" font-weight="normal" fill="#222" text-anchor="end" textLength="40" lengthAdjust="spacingAndGlyphs" stroke="#222" stroke-width="0.7">40</text>
<text x="1524" y="1766.5" font-family='"Liberation Sans", Arial, sans-serif' font-size="43" font-weight="normal" fill="#222" text-anchor="end" textLength="40" lengthAdjust="spacingAndGlyphs" stroke="#222" stroke-width="0.7">30</text>
<text x="1524" y="1890.5" font-family='"Liberation Sans", Arial, sans-serif' font-size="43" font-weight="normal" fill="#222" text-anchor="end" textLength="40" lengthAdjust="spacingAndGlyphs" stroke="#222" stroke-width="0.7">20</text>
<text x="1524" y="2013.5" font-family='"Liberation Sans", Arial, sans-serif' font-size="43" font-weight="normal" fill="#222" text-anchor="end" textLength="40" lengthAdjust="spacingAndGlyphs" stroke="#222" stroke-width="0.7">10</text>
<text x="1524" y="2134.5" font-family='"Liberation Sans", Arial, sans-serif' font-size="43" font-weight="normal" fill="#222" text-anchor="end" textLength="20" lengthAdjust="spacingAndGlyphs" stroke="#222" stroke-width="0.7">0</text>
<text x="1625" y="2197" font-family='"Liberation Sans", Arial, sans-serif' font-size="41" font-weight="normal" fill="#222" text-anchor="middle" textLength="29" lengthAdjust="spacingAndGlyphs" stroke="#222" stroke-width="0.7">C</text>
<text x="1750" y="2197" font-family='"Liberation Sans", Arial, sans-serif' font-size="41" font-weight="normal" fill="#222" text-anchor="middle" textLength="31" lengthAdjust="spacingAndGlyphs" stroke="#222" stroke-width="0.7">O</text>
<text x="1875" y="2197" font-family='"Liberation Sans", Arial, sans-serif' font-size="41" font-weight="normal" fill="#222" text-anchor="middle" textLength="45" lengthAdjust="spacingAndGlyphs" stroke="#222" stroke-width="0.7">Mn</text>
<text x="2000" y="2197" font-family='"Liberation Sans", Arial, sans-serif' font-size="41" font-weight="normal" fill="#222" text-anchor="middle" textLength="41" lengthAdjust="spacingAndGlyphs" stroke="#222" stroke-width="0.7">Zn</text>
<text x="0" y="0" font-family='"Liberation Sans", Arial, sans-serif' font-size="53" font-weight="normal" fill="#222" text-anchor="start" textLength="211" lengthAdjust="spacingAndGlyphs" transform="translate(1449,1909) rotate(-90)" stroke="#222" stroke-width="0.7">Weight%</text>
<rect x="170" y="2566" width="1896" height="1014" fill="none" stroke="#000" stroke-width="6"/>
<rect x="167.5" y="3580" width="5" height="18" fill="#000"/>
<text x="171.0" y="3655" font-family='"Liberation Serif", "Times New Roman", serif' font-size="68" font-weight="bold" fill="#000" text-anchor="middle" textLength="66" lengthAdjust="spacingAndGlyphs" >10</text>
<rect x="403.5" y="3580" width="5" height="18" fill="#000"/>
<text x="406.0" y="3655" font-family='"Liberation Serif", "Times New Roman", serif' font-size="68" font-weight="bold" fill="#000" text-anchor="middle" textLength="66" lengthAdjust="spacingAndGlyphs" >20</text>
<rect x="640.5" y="3580" width="5" height="18" fill="#000"/>
<text x="643.0" y="3655" font-family='"Liberation Serif", "Times New Roman", serif' font-size="68" font-weight="bold" fill="#000" text-anchor="middle" textLength="66" lengthAdjust="spacingAndGlyphs" >30</text>
<rect x="877.5" y="3580" width="5" height="18" fill="#000"/>
<text x="880.0" y="3655" font-family='"Liberation Serif", "Times New Roman", serif' font-size="68" font-weight="bold" fill="#000" text-anchor="middle" textLength="66" lengthAdjust="spacingAndGlyphs" >40</text>
<rect x="1114.5" y="3580" width="5" height="18" fill="#000"/>
<text x="1117.0" y="3655" font-family='"Liberation Serif", "Times New Roman", serif' font-size="68" font-weight="bold" fill="#000" text-anchor="middle" textLength="66" lengthAdjust="spacingAndGlyphs" >50</text>
<rect x="1351.5" y="3580" width="5" height="18" fill="#000"/>
<text x="1354.0" y="3655" font-family='"Liberation Serif", "Times New Roman", serif' font-size="68" font-weight="bold" fill="#000" text-anchor="middle" textLength="66" lengthAdjust="spacingAndGlyphs" >60</text>
<rect x="1588.5" y="3580" width="5" height="18" fill="#000"/>
<text x="1591.0" y="3655" font-family='"Liberation Serif", "Times New Roman", serif' font-size="68" font-weight="bold" fill="#000" text-anchor="middle" textLength="66" lengthAdjust="spacingAndGlyphs" >70</text>
<rect x="1825.5" y="3580" width="5" height="18" fill="#000"/>
<text x="1828.0" y="3655" font-family='"Liberation Serif", "Times New Roman", serif' font-size="68" font-weight="bold" fill="#000" text-anchor="middle" textLength="66" lengthAdjust="spacingAndGlyphs" >80</text>
<rect x="2062.5" y="3580" width="5" height="18" fill="#000"/>
<text x="2065.0" y="3655" font-family='"Liberation Serif", "Times New Roman", serif' font-size="68" font-weight="bold" fill="#000" text-anchor="middle" textLength="66" lengthAdjust="spacingAndGlyphs" >90</text>
<polygon points="171.0,3073.7 174.0,3071.9 177.0,3068.6 180.0,3061.9 183.0,3069.2 186.0,3068.8 189.0,3065.5 192.0,3071.3 195.0,3070.6 198.0,3072.6 201.0,3068.0 204.0,3069.6 207.0,3056.5 210.0,3055.8 213.0,3062.2 216.0,3064.0 219.0,3064.0 222.0,3063.8 225.0,3063.7 228.0,3068.8 231.0,3073.0 234.0,3067.4 237.0,3065.0 240.0,3070.0 243.0,3068.0 246.0,3062.1 249.0,3072.5 252.0,3072.0 255.0,3052.8 258.0,3070.2 261.0,3068.5 264.0,3067.4 267.0,3074.0 270.0,3070.9 273.0,3073.8 276.0,3068.8 279.0,3072.5 282.0,3072.7 285.0,3070.9 288.0,3064.0 291.0,3055.2 294.0,3063.6 297.0,3065.8 300.0,3074.4 303.0,3064.6 306.0,3071.4 309.0,3066.5 312.0,3071.6 315.0,3064.0 318.0,3070.2 321.0,3071.6 324.0,3071.8 327.0,3069.5 330.0,3067.0 333.0,3066.4 336.0,3072.3 339.0,3075.9 342.0,3073.4 345.0,3078.0 348.0,3075.7 351.0,3069.6 354.0,3062.4 357.0,3062.5 360.0,3065.0 363.0,3062.8 366.0,3064.3 369.0,3064.5 372.0,3066.0 375.0,3057.9 378.0,3060.6 381.0,3059.7 384.0,3059.5 387.0,3049.4 390.0,3056.4 393.0,3049.8 396.0,3044.4 399.0,3047.7 402.0,3040.4 405.0,3042.5 408.0,3041.6 411.0,3033.9 414.0,3033.8 417.0,3034.1 420.0,3032.4 423.0,3025.2 426.0,3019.8 429.0,3021.4 432.0,3003.5 435.0,3004.0 438.0,3006.0 441.0,3005.1 444.0,3002.3 447.0,3004.3 450.0,2978.9 453.0,2995.8 456.0,2990.3 459.0,2992.5 462.0,2994.2 465.0,2994.9 468.0,2974.9 471.0,2982.5 474.0,2984.6 477.0,2987.8 480.0,2984.4 483.0,2979.1 486.0,2980.8 489.0,2980.2 492.0,2972.8 495.0,2976.2 498.0,2974.2 501.0,2974.6 504.0,2980.9 507.0,2982.6 510.0,2983.2 513.0,2985.6 516.0,2974.8 519.0,2984.3 522.0,2989.4 525.0,2987.9 528.0,2985.6 531.0,2980.2 534.0,2985.3 537.0,2997.9 540.0,2997.0 543.0,2984.6 546.0,2985.9 549.0,2991.0 552.0,3003.5 555.0,3000.4 558.0,3016.8 561.0,3021.4 564.0,3013.5 567.0,3017.9 570.0,3031.6 573.0,3032.0 576.0,3040.7 579.0,3045.2 582.0,3050.9 585.0,3041.1 588.0,3046.5 591.0,3049.6 594.0,3054.1 597.0,3052.1 600.0,3057.8 603.0,3063.7 606.0,3060.3 609.0,3055.1 612.0,3062.1 615.0,3049.2 618.0,3068.0 621.0,3065.4 624.0,3064.9 627.0,3060.1 630.0,3060.9 633.0,3061.3 636.0,3052.1 639.0,3060.0 642.0,3065.4 645.0,3058.9 648.0,3066.5 651.0,3059.1 654.0,3049.2 657.0,3049.9 660.0,3032.9 663.0,3020.6 666.0,3006.5 669.0,2965.7 672.0,2925.8 675.0,2879.2 678.0,2829.5 681.0,2784.0 684.0,2780.5 687.0,2782.5 690.0,2781.4 693.0,2813.1 696.0,2861.6 699.0,2920.0 702.0,2970.5 705.0,2997.8 708.0,3028.2 711.0,3035.6 714.0,3042.5 717.0,3044.4 720.0,3037.9 723.0,3028.5 726.0,3008.8 729.0,2997.3 732.0,2974.9 735.0,2944.3 738.0,2889.2 741.0,2875.9 744.0,2857.8 747.0,2857.3 750.0,2855.2 753.0,2869.8 756.0,2899.9 759.0,2929.1 762.0,2962.9 765.0,2980.6 768.0,2991.5 771.0,2955.3 774.0,2922.7 777.0,2870.3 780.0,2801.7 783.0,2728.7 786.0,2669.2 789.0,2658.6 792.0,2657.8 795.0,2658.4 798.0,2702.3 801.0,2775.2 804.0,2842.6 807.0,2910.7 810.0,2961.9 813.0,3001.2 816.0,3023.3 819.0,3038.9 822.0,3045.8 825.0,3053.5 828.0,3054.0 831.0,3055.5 834.0,3044.1 837.0,3057.5 840.0,3050.0 843.0,3046.6 846.0,3052.4 849.0,3061.8 852.0,3055.7 855.0,3056.6 858.0,3062.0 861.0,3061.2 864.0,3054.0 867.0,3053.9 870.0,3063.8 873.0,3066.3 876.0,3064.0 879.0,3066.0 882.0,3065.3 885.0,3071.3 888.0,3066.1 891.0,3060.9 894.0,3058.0 897.0,3064.7 900.0,3066.0 903.0,3047.9 906.0,3063.7 909.0,3062.5 912.0,3061.9 915.0,3066.6 918.0,3071.6 921.0,3073.0 924.0,3064.9 927.0,3063.4 930.0,3052.9 933.0,3057.2 936.0,3059.5 939.0,3061.0 942.0,3067.1 945.0,3061.1 948.0,3067.0 951.0,3061.9 954.0,3063.0 957.0,3062.1 960.0,3058.0 963.0,3059.6 966.0,3063.5 969.0,3065.9 972.0,3061.9 975.0,3059.7 978.0,3061.7 981.0,3062.1 984.0,3063.1 987.0,3063.7 990.0,3057.6 993.0,3063.1 996.0,3066.4 999.0,3068.4 1002.0,3063.2 1005.0,3062.4 1008.0,3050.9 1011.0,3064.4 1014.0,3068.6 1017.0,3064.1 1020.0,3053.8 1023.0,3062.9 1026.0,3057.7 1029.0,3061.5 1032.0,3060.0 1035.0,3053.0 1038.0,3044.0 1041.0,3040.0 1044.0,3031.5 1047.0,3015.2 1050.0,3024.9 1053.0,3017.7 1056.0,3014.0 1059.0,3021.0 1062.0,3008.1 1065.0,3024.0 1068.0,3026.2 1071.0,3030.0 1074.0,3038.8 1077.0,3038.4 1080.0,3050.1 1083.0,3054.0 1086.0,3054.4 1089.0,3056.0 1092.0,3050.4 1095.0,3063.1 1098.0,3065.2 1101.0,3061.1 1104.0,3067.6 1107.0,3069.3 1110.0,3063.7 1113.0,3055.2 1116.0,3060.7 1119.0,3064.5 1122.0,3072.1 1125.0,3068.6 1128.0,3068.3 1131.0,3056.5 1134.0,3062.5 1137.0,3067.8 1140.0,3062.6 1143.0,3064.2 1146.0,3060.5 1149.0,3065.7 1152.0,3059.9 1155.0,3062.3 1158.0,3062.1 1161.0,3063.2 1164.0,3067.3 1167.0,3064.8 1170.0,3067.2 1173.0,3065.7 1176.0,3071.1 1179.0,3069.0 1182.0,3073.2 1185.0,3070.8 1188.0,3073.9 1191.0,3075.0 1194.0,3071.7 1197.0,3071.3 1200.0,3068.1 1203.0,3072.4 1206.0,3067.5 1209.0,3066.7 1212.0,3062.7 1215.0,3066.9 1218.0,3068.8 1221.0,3043.0 1224.0,3067.9 1227.0,3062.1 1230.0,3062.5 1233.0,3064.8 1236.0,3055.6 1239.0,3058.6 1242.0,3052.1 1245.0,3051.3 1248.0,3048.1 1251.0,3034.8 1254.0,3025.4 1257.0,3002.8 1260.0,2971.3 1263.0,2943.7 1266.0,2910.2 1269.0,2896.8 1272.0,2890.0 1275.0,2892.9 1278.0,2893.8 1281.0,2909.3 1284.0,2946.1 1287.0,2963.1 1290.0,2987.5 1293.0,3016.3 1296.0,3037.1 1299.0,3051.2 1302.0,3052.0 1305.0,3061.1 1308.0,3059.0 1311.0,3060.9 1314.0,3064.8 1317.0,3059.7 1320.0,3064.3 1323.0,3071.1 1326.0,3068.5 1329.0,3069.2 1332.0,3065.2 1335.0,3059.4 1338.0,3058.8 1341.0,3062.1 1344.0,3053.8 1347.0,3067.0 1350.0,3061.8 1353.0,3070.3 1356.0,3068.9 1359.0,3070.1 1362.0,3065.1 1365.0,3070.8 1368.0,3066.8 1371.0,3063.4 1374.0,3066.7 1377.0,3058.8 1380.0,3052.4 1383.0,3057.2 1386.0,3054.2 1389.0,3039.7 1392.0,3050.1 1395.0,3051.6 1398.0,3039.9 1401.0,3033.1 1404.0,3022.4 1407.0,3016.0 1410.0,3005.6 1413.0,2992.1 1416.0,2992.4 1419.0,2991.1 1422.0,2982.4 1425.0,2989.2 1428.0,2987.0 1431.0,3001.2 1434.0,3011.8 1437.0,3020.1 1440.0,3025.5 1443.0,3031.8 1446.0,3049.2 1449.0,3049.8 1452.0,3053.1 1455.0,3057.3 1458.0,3067.7 1461.0,3063.2 1464.0,3065.5 1467.0,3058.5 1470.0,3062.0 1473.0,3057.3 1476.0,3060.8 1479.0,3062.8 1482.0,3052.0 1485.0,3055.7 1488.0,3049.9 1491.0,3054.5 1494.0,3053.2 1497.0,3052.1 1500.0,3039.7 1503.0,3045.0 1506.0,3044.9 1509.0,3043.9 1512.0,3051.5 1515.0,3052.7 1518.0,3046.5 1521.0,3041.7 1524.0,3034.4 1527.0,3016.4 1530.0,3003.5 1533.0,2978.4 1536.0,2953.5 1539.0,2941.9 1542.0,2943.0 1545.0,2932.7 1548.0,2942.5 1551.0,2966.9 1554.0,2985.5 1557.0,3002.0 1560.0,3015.9 1563.0,3012.7 1566.0,3009.9 1569.0,3008.7 1572.0,3016.1 1575.0,3018.6 1578.0,3028.2 1581.0,3034.1 1584.0,3047.8 1587.0,3044.3 1590.0,3060.5 1593.0,3062.1 1596.0,3062.6 1599.0,3060.7 1602.0,3070.6 1605.0,3062.1 1608.0,3051.0 1611.0,3057.8 1614.0,3061.2 1617.0,3062.4 1620.0,3069.4 1623.0,3068.2 1626.0,3064.6 1629.0,3055.5 1632.0,3069.7 1635.0,3071.1 1638.0,3070.5 1641.0,3063.6 1644.0,3070.6 1647.0,3067.1 1650.0,3070.7 1653.0,3071.1 1656.0,3068.8 1659.0,3068.7 1662.0,3069.0 1665.0,3061.7 1668.0,3065.3 1671.0,3058.9 1674.0,3072.6 1677.0,3066.5 1680.0,3065.2 1683.0,3055.9 1686.0,3065.2 1689.0,3063.8 1692.0,3071.2 1695.0,3075.9 1698.0,3073.3 1701.0,3070.8 1704.0,3067.9 1707.0,3070.8 1710.0,3068.9 1713.0,3061.6 1716.0,3070.7 1719.0,3069.7 1722.0,3066.9 1725.0,3069.5 1728.0,3056.8 1731.0,3065.0 1734.0,3065.0 1737.0,3070.6 1740.0,3069.1 1743.0,3069.9 1746.0,3071.4 1749.0,3069.3 1752.0,3071.4 1755.0,3068.2 1758.0,3074.0 1761.0,3072.1 1764.0,3076.3 1767.0,3076.6 1770.0,3068.2 1773.0,3071.8 1776.0,3065.6 1779.0,3075.3 1782.0,3063.9 1785.0,3071.8 1788.0,3059.7 1791.0,3064.1 1794.0,3071.4 1797.0,3076.5 1800.0,3070.7 1803.0,3063.6 1806.0,3061.0 1809.0,3067.7 1812.0,3066.8 1815.0,3065.6 1818.0,3070.5 1821.0,3064.6 1824.0,3067.7 1827.0,3065.0 1830.0,3068.5 1833.0,3065.4 1836.0,3065.0 1839.0,3068.6 1842.0,3071.3 1845.0,3075.5 1848.0,3066.7 1851.0,3074.2 1854.0,3077.8 1857.0,3074.9 1860.0,3074.2 1863.0,3067.9 1866.0,3074.1 1869.0,3059.4 1872.0,3066.9 1875.0,3063.7 1878.0,3062.8 1881.0,3067.3 1884.0,3073.6 1887.0,3072.9 1890.0,3074.2 1893.0,3073.6 1896.0,3066.4 1899.0,3064.6 1902.0,3069.4 1905.0,3067.1 1908.0,3066.2 1911.0,3069.2 1914.0,3064.8 1917.0,3066.9 1920.0,3071.0 1923.0,3062.3 1926.0,3065.1 1929.0,3071.8 1932.0,3065.8 1935.0,3073.7 1938.0,3055.0 1941.0,3059.2 1944.0,3059.5 1947.0,3064.1 1950.0,3069.3 1953.0,3068.2 1956.0,3067.2 1959.0,3066.0 1962.0,3067.3 1965.0,3073.1 1968.0,3063.9 1971.0,3063.0 1974.0,3062.8 1977.0,3067.5 1980.0,3060.8 1983.0,3071.3 1986.0,3068.8 1989.0,3064.9 1992.0,3071.7 1995.0,3071.1 1998.0,3073.4 2001.0,3067.8 2004.0,3068.1 2007.0,3071.1 2010.0,3070.5 2013.0,3063.1 2016.0,3063.9 2019.0,3056.7 2022.0,3066.9 2025.0,3067.9 2028.0,3067.8 2031.0,3069.7 2034.0,3067.0 2037.0,3063.5 2040.0,3066.7 2043.0,3067.9 2046.0,3066.7 2049.0,3068.6 2052.0,3069.1 2055.0,3074.9 2058.0,3065.5 2061.0,3060.5 2064.0,3067.9 2065.5,3103.6 2062.5,3112.1 2059.5,3104.2 2056.5,3106.1 2053.5,3108.7 2050.5,3113.5 2047.5,3112.0 2044.5,3107.5 2041.5,3104.0 2038.5,3103.8 2035.5,3108.5 2032.5,3104.0 2029.5,3107.0 2026.5,3108.6 2023.5,3100.7 2020.5,3112.0 2017.5,3113.5 2014.5,3107.2 2011.5,3099.2 2008.5,3105.2 2005.5,3099.8 2002.5,3104.6 1999.5,3111.1 1996.5,3106.8 1993.5,3103.0 1990.5,3101.4 1987.5,3098.9 1984.5,3100.6 1981.5,3102.9 1978.5,3108.1 1975.5,3100.9 1972.5,3100.0 1969.5,3104.8 1966.5,3104.9 1963.5,3107.5 1960.5,3101.7 1957.5,3100.5 1954.5,3104.1 1951.5,3103.6 1948.5,3101.0 1945.5,3111.4 1942.5,3104.8 1939.5,3108.3 1936.5,3100.5 1933.5,3107.6 1930.5,3107.6 1927.5,3105.3 1924.5,3104.0 1921.5,3114.9 1918.5,3106.7 1915.5,3105.3 1912.5,3101.2 1909.5,3100.4 1906.5,3105.3 1903.5,3105.3 1900.5,3105.6 1897.5,3108.2 1894.5,3109.8 1891.5,3102.1 1888.5,3103.9 1885.5,3109.8 1882.5,3105.6 1879.5,3105.0 1876.5,3105.7 1873.5,3111.3 1870.5,3106.6 1867.5,3110.5 1864.5,3114.9 1861.5,3120.5 1858.5,3111.0 1855.5,3111.4 1852.5,3112.5 1849.5,3107.0 1846.5,3103.8 1843.5,3108.0 1840.5,3112.5 1837.5,3112.5 1834.5,3110.4 1831.5,3101.7 1828.5,3101.7 1825.5,3100.4 1822.5,3109.0 1819.5,3104.8 1816.5,3109.0 1813.5,3110.1 1810.5,3095.8 1807.5,3100.4 1804.5,3104.2 1801.5,3104.7 1798.5,3105.0 1795.5,3101.6 1792.5,3110.3 1789.5,3105.8 1786.5,3111.9 1783.5,3110.8 1780.5,3102.4 1777.5,3111.5 1774.5,3109.3 1771.5,3108.1 1768.5,3103.2 1765.5,3103.2 1762.5,3121.2 1759.5,3118.0 1756.5,3110.3 1753.5,3103.7 1750.5,3108.7 1747.5,3105.4 1744.5,3103.2 1741.5,3101.2 1738.5,3114.1 1735.5,3100.4 1732.5,3099.4 1729.5,3103.3 1726.5,3107.1 1723.5,3107.9 1720.5,3103.9 1717.5,3106.4 1714.5,3105.2 1711.5,3101.7 1708.5,3103.3 1705.5,3119.6 1702.5,3105.0 1699.5,3109.4 1696.5,3110.0 1693.5,3104.8 1690.5,3115.2 1687.5,3112.7 1684.5,3097.1 1681.5,3100.6 1678.5,3109.2 1675.5,3122.1 1672.5,3108.1 1669.5,3105.8 1666.5,3109.0 1663.5,3101.9 1660.5,3102.3 1657.5,3112.1 1654.5,3107.8 1651.5,3100.0 1648.5,3102.9 1645.5,3101.6 1642.5,3107.2 1639.5,3104.0 1636.5,3101.2 1633.5,3107.6 1630.5,3100.4 1627.5,3111.6 1624.5,3097.3 1621.5,3097.9 1618.5,3103.4 1615.5,3103.5 1612.5,3106.7 1609.5,3104.6 1606.5,3102.9 1603.5,3105.7 1600.5,3100.6 1597.5,3096.0 1594.5,3109.8 1591.5,3099.4 1588.5,3106.2 1585.5,3094.5 1582.5,3083.0 1579.5,3078.1 1576.5,3064.3 1573.5,3060.6 1570.5,3048.1 1567.5,3053.7 1564.5,3047.8 1561.5,3048.0 1558.5,3045.4 1555.5,3046.6 1552.5,3029.6 1549.5,3014.8 1546.5,3001.3 1543.5,2990.8 1540.5,3012.1 1537.5,3033.9 1534.5,3050.1 1531.5,3066.9 1528.5,3076.5 1525.5,3081.8 1522.5,3089.2 1519.5,3093.7 1516.5,3089.1 1513.5,3087.4 1510.5,3089.9 1507.5,3088.0 1504.5,3080.3 1501.5,3083.1 1498.5,3095.4 1495.5,3094.6 1492.5,3099.0 1489.5,3090.4 1486.5,3097.3 1483.5,3093.4 1480.5,3098.0 1477.5,3093.7 1474.5,3102.2 1471.5,3101.0 1468.5,3099.9 1465.5,3097.7 1462.5,3105.3 1459.5,3098.5 1456.5,3100.0 1453.5,3097.2 1450.5,3088.2 1447.5,3101.6 1444.5,3089.5 1441.5,3079.0 1438.5,3073.8 1435.5,3059.6 1432.5,3053.7 1429.5,3043.2 1426.5,3033.7 1423.5,3020.1 1420.5,3027.8 1417.5,3033.8 1414.5,3044.9 1411.5,3060.1 1408.5,3073.9 1405.5,3069.8 1402.5,3080.6 1399.5,3082.8 1396.5,3092.2 1393.5,3087.1 1390.5,3092.0 1387.5,3091.0 1384.5,3092.9 1381.5,3099.4 1378.5,3102.2 1375.5,3098.2 1372.5,3102.4 1369.5,3104.7 1366.5,3112.6 1363.5,3106.5 1360.5,3098.7 1357.5,3099.7 1354.5,3106.0 1351.5,3108.6 1348.5,3105.4 1345.5,3107.5 1342.5,3093.9 1339.5,3098.3 1336.5,3109.1 1333.5,3102.3 1330.5,3098.2 1327.5,3103.6 1324.5,3107.0 1321.5,3106.9 1318.5,3100.7 1315.5,3106.0 1312.5,3097.1 1309.5,3095.9 1306.5,3103.9 1303.5,3095.1 1300.5,3109.0 1297.5,3087.2 1294.5,3085.8 1291.5,3071.8 1288.5,3056.4 1285.5,3028.6 1282.5,3014.4 1279.5,2977.1 1276.5,2944.3 1273.5,2943.4 1270.5,2983.7 1267.5,3006.4 1264.5,3032.7 1261.5,3057.3 1258.5,3076.5 1255.5,3084.3 1252.5,3084.3 1249.5,3094.2 1246.5,3089.7 1243.5,3092.8 1240.5,3095.9 1237.5,3095.8 1234.5,3098.4 1231.5,3095.9 1228.5,3095.9 1225.5,3097.3 1222.5,3106.6 1219.5,3100.3 1216.5,3102.8 1213.5,3099.0 1210.5,3113.5 1207.5,3102.0 1204.5,3109.1 1201.5,3106.7 1198.5,3108.8 1195.5,3115.7 1192.5,3116.3 1189.5,3104.6 1186.5,3108.0 1183.5,3106.6 1180.5,3102.1 1177.5,3121.1 1174.5,3110.0 1171.5,3110.3 1168.5,3108.9 1165.5,3107.8 1162.5,3109.1 1159.5,3104.1 1156.5,3103.1 1153.5,3100.6 1150.5,3099.9 1147.5,3096.6 1144.5,3094.4 1141.5,3107.4 1138.5,3107.4 1135.5,3101.2 1132.5,3098.5 1129.5,3105.7 1126.5,3100.8 1123.5,3103.6 1120.5,3105.8 1117.5,3100.1 1114.5,3103.4 1111.5,3102.9 1108.5,3099.9 1105.5,3100.6 1102.5,3104.2 1099.5,3100.7 1096.5,3095.6 1093.5,3096.8 1090.5,3091.6 1087.5,3094.8 1084.5,3089.9 1081.5,3098.8 1078.5,3092.8 1075.5,3078.7 1072.5,3079.5 1069.5,3070.8 1066.5,3067.4 1063.5,3062.8 1060.5,3052.6 1057.5,3055.9 1054.5,3056.9 1051.5,3064.7 1048.5,3075.4 1045.5,3092.6 1042.5,3084.1 1039.5,3089.2 1036.5,3093.5 1033.5,3093.5 1030.5,3095.8 1027.5,3096.4 1024.5,3099.7 1021.5,3098.7 1018.5,3113.6 1015.5,3101.8 1012.5,3103.9 1009.5,3101.2 1006.5,3094.9 1003.5,3095.7 1000.5,3096.4 997.5,3097.2 994.5,3095.8 991.5,3093.9 988.5,3096.4 985.5,3105.2 982.5,3099.7 979.5,3100.0 976.5,3102.4 973.5,3110.5 970.5,3105.6 967.5,3099.8 964.5,3095.0 961.5,3100.3 958.5,3104.6 955.5,3101.6 952.5,3108.3 949.5,3100.7 946.5,3096.9 943.5,3102.5 940.5,3098.0 937.5,3095.1 934.5,3095.3 931.5,3099.8 928.5,3099.2 925.5,3098.6 922.5,3104.2 919.5,3100.7 916.5,3099.7 913.5,3102.0 910.5,3096.4 907.5,3097.5 904.5,3110.4 901.5,3100.6 898.5,3105.9 895.5,3100.7 892.5,3105.5 889.5,3102.2 886.5,3104.0 883.5,3103.9 880.5,3113.0 877.5,3099.1 874.5,3101.4 871.5,3100.8 868.5,3105.3 865.5,3104.5 862.5,3102.8 859.5,3103.0 856.5,3102.5 853.5,3108.6 850.5,3101.7 847.5,3099.2 844.5,3090.6 841.5,3091.4 838.5,3092.1 835.5,3090.4 832.5,3105.2 829.5,3102.1 826.5,3093.3 823.5,3090.8 820.5,3083.3 817.5,3079.4 814.5,3075.5 811.5,3053.7 808.5,3033.0 805.5,3001.1 802.5,2942.9 799.5,2884.9 796.5,2805.7 793.5,2736.8 790.5,2761.4 787.5,2846.8 784.5,2899.8 781.5,2954.7 778.5,2993.5 775.5,3022.3 772.5,3028.6 769.5,3033.9 766.5,3029.2 763.5,3028.1 760.5,3012.9 757.5,2991.8 754.5,2962.4 751.5,2934.9 748.5,2902.9 745.5,2951.8 742.5,2976.2 739.5,3003.4 736.5,3036.8 733.5,3045.4 730.5,3065.6 727.5,3067.9 724.5,3082.8 721.5,3078.4 718.5,3076.7 715.5,3077.8 712.5,3074.7 709.5,3073.4 706.5,3068.0 703.5,3057.6 700.5,3033.6 697.5,2998.5 694.5,2947.8 691.5,2901.7 688.5,2846.1 685.5,2859.8 682.5,2907.6 679.5,2967.7 676.5,3000.7 673.5,3031.8 670.5,3063.7 667.5,3070.7 664.5,3086.2 661.5,3085.4 658.5,3097.5 655.5,3092.6 652.5,3095.2 649.5,3098.2 646.5,3103.5 643.5,3103.4 640.5,3094.3 637.5,3094.2 634.5,3096.1 631.5,3100.6 628.5,3100.7 625.5,3101.9 622.5,3099.1 619.5,3103.4 616.5,3101.7 613.5,3097.9 610.5,3092.0 607.5,3093.0 604.5,3101.7 601.5,3105.7 598.5,3099.6 595.5,3095.5 592.5,3088.1 589.5,3083.2 586.5,3082.8 583.5,3085.6 580.5,3080.4 577.5,3088.0 574.5,3074.1 571.5,3071.3 568.5,3066.7 565.5,3067.6 562.5,3052.6 559.5,3054.6 556.5,3055.7 553.5,3050.2 550.5,3045.8 547.5,3032.1 544.5,3032.8 541.5,3034.7 538.5,3028.3 535.5,3028.9 532.5,3028.9 529.5,3024.4 526.5,3022.2 523.5,3029.9 520.5,3017.6 517.5,3020.6 514.5,3022.4 511.5,3015.9 508.5,3016.4 505.5,3019.2 502.5,3019.8 499.5,3021.2 496.5,3017.6 493.5,3011.3 490.5,3011.7 487.5,3012.5 484.5,3023.8 481.5,3025.2 478.5,3040.6 475.5,3021.7 472.5,3022.0 469.5,3028.4 466.5,3026.2 463.5,3033.5 460.5,3033.9 457.5,3041.1 454.5,3032.0 451.5,3043.5 448.5,3036.0 445.5,3044.0 442.5,3039.1 439.5,3053.2 436.5,3048.9 433.5,3052.3 430.5,3051.6 427.5,3063.6 424.5,3067.0 421.5,3075.2 418.5,3074.4 415.5,3068.9 412.5,3070.4 409.5,3074.3 406.5,3076.0 403.5,3080.9 400.5,3088.2 397.5,3090.7 394.5,3091.8 391.5,3090.2 388.5,3099.4 385.5,3093.7 382.5,3102.7 379.5,3105.5 376.5,3100.6 373.5,3100.5 370.5,3098.7 367.5,3096.6 364.5,3108.0 361.5,3101.5 358.5,3105.2 355.5,3110.9 352.5,3108.4 349.5,3112.4 346.5,3108.5 343.5,3110.2 340.5,3112.2 337.5,3115.6 334.5,3102.9 331.5,3111.7 328.5,3110.5 325.5,3102.5 322.5,3112.8 319.5,3100.5 316.5,3106.5 313.5,3099.0 310.5,3107.3 307.5,3113.0 304.5,3111.0 301.5,3109.4 298.5,3107.4 295.5,3101.2 292.5,3106.1 289.5,3104.6 286.5,3106.0 283.5,3104.2 280.5,3106.7 277.5,3112.7 274.5,3105.2 271.5,3115.4 268.5,3105.5 265.5,3104.4 262.5,3104.4 259.5,3112.4 256.5,3107.6 253.5,3098.9 250.5,3108.2 247.5,3100.5 244.5,3097.7 241.5,3100.8 238.5,3101.6 235.5,3103.5 232.5,3103.5 229.5,3110.4 226.5,3104.0 223.5,3103.9 220.5,3098.4 217.5,3100.0 214.5,3101.9 211.5,3099.8 208.5,3107.1 205.5,3111.1 202.5,3112.1 199.5,3112.5 196.5,3105.5 193.5,3102.8 190.5,3101.5 187.5,3100.6 184.5,3096.1 181.5,3098.3 178.5,3110.2 175.5,3107.8 172.5,3110.1" fill="#ff0020" stroke="#ff0020" stroke-width="1.5" stroke-linejoin="round"/>
<polygon points="171.0,3453.8 173.0,3456.8 175.0,3458.3 177.0,3459.8 179.0,3460.0 181.0,3457.8 183.0,3459.5 185.0,3460.9 187.0,3463.7 189.0,3464.0 191.0,3461.6 193.0,3463.7 195.0,3463.1 197.0,3464.0 199.0,3460.7 201.0,3465.3 203.0,3464.7 205.0,3471.1 207.0,3470.9 209.0,3470.2 211.0,3470.4 213.0,3470.2 215.0,3471.8 217.0,3465.6 219.0,3470.7 221.0,3467.6 223.0,3469.3 225.0,3467.5 227.0,3466.8 229.0,3469.8 231.0,3471.4 233.0,3468.7 235.0,3475.1 237.0,3473.3 239.0,3475.5 241.0,3472.7 243.0,3471.0 245.0,3471.0 247.0,3471.7 249.0,3477.1 251.0,3474.1 253.0,3478.3 255.0,3478.2 257.0,3477.0 259.0,3474.6 261.0,3472.8 263.0,3480.4 265.0,3480.7 267.0,3472.9 269.0,3478.7 271.0,3476.9 273.0,3477.5 275.0,3482.3 277.0,3482.1 279.0,3480.3 281.0,3482.3 283.0,3482.3 285.0,3481.1 287.0,3480.9 289.0,3478.2 291.0,3481.7 293.0,3481.9 295.0,3478.5 297.0,3478.0 299.0,3479.7 301.0,3478.1 303.0,3478.1 305.0,3482.6 307.0,3485.4 309.0,3486.3 311.0,3485.5 313.0,3486.4 315.0,3484.5 317.0,3486.1 319.0,3484.2 321.0,3484.5 323.0,3485.1 325.0,3485.4 327.0,3480.9 329.0,3483.7 331.0,3482.2 333.0,3486.2 335.0,3488.3 337.0,3482.7 339.0,3482.7 341.0,3481.7 343.0,3480.2 345.0,3483.1 347.0,3478.5 349.0,3480.4 351.0,3479.8 353.0,3475.0 355.0,3471.3 357.0,3465.9 359.0,3460.0 361.0,3462.4 363.0,3463.2 365.0,3461.2 367.0,3465.7 369.0,3468.6 371.0,3472.8 373.0,3476.4 375.0,3482.1 377.0,3480.4 379.0,3483.5 381.0,3483.1 383.0,3483.0 385.0,3483.3 387.0,3479.8 389.0,3482.2 391.0,3482.0 393.0,3485.8 395.0,3483.8 397.0,3483.1 399.0,3482.2 401.0,3483.6 403.0,3480.7 405.0,3482.2 407.0,3482.6 409.0,3484.0 411.0,3481.6 413.0,3484.7 415.0,3481.2 417.0,3482.7 419.0,3485.2 421.0,3484.9 423.0,3482.8 425.0,3485.5 427.0,3483.5 429.0,3486.1 431.0,3488.0 433.0,3484.2 435.0,3486.4 437.0,3484.8 439.0,3485.8 441.0,3484.5 443.0,3484.4 445.0,3483.9 447.0,3482.5 449.0,3482.8 451.0,3482.6 453.0,3479.5 455.0,3485.3 457.0,3477.2 459.0,3486.3 461.0,3486.8 463.0,3483.0 465.0,3486.6 467.0,3483.5 469.0,3487.0 471.0,3487.7 473.0,3485.7 475.0,3486.7 477.0,3482.5 479.0,3485.3 481.0,3485.0 483.0,3480.5 485.0,3485.8 487.0,3484.5 489.0,3485.2 491.0,3486.5 493.0,3484.2 495.0,3485.3 497.0,3485.3 499.0,3482.1 501.0,3484.4 503.0,3482.5 505.0,3484.0 507.0,3483.2 509.0,3485.3 511.0,3484.2 513.0,3483.9 515.0,3484.3 517.0,3481.2 519.0,3485.0 521.0,3483.2 523.0,3484.5 525.0,3480.4 527.0,3483.6 529.0,3484.2 531.0,3479.8 533.0,3485.3 535.0,3484.9 537.0,3486.0 539.0,3483.9 541.0,3484.4 543.0,3486.0 545.0,3488.3 547.0,3485.8 549.0,3481.3 551.0,3486.0 553.0,3485.3 555.0,3487.0 557.0,3486.6 559.0,3486.8 561.0,3488.8 563.0,3488.7 565.0,3489.6 567.0,3482.5 569.0,3484.5 571.0,3487.6 573.0,3483.9 575.0,3483.7 577.0,3489.4 579.0,3484.1 581.0,3487.4 583.0,3488.5 585.0,3485.5 587.0,3483.2 589.0,3489.0 591.0,3488.0 593.0,3486.2 595.0,3482.4 597.0,3487.9 599.0,3485.9 601.0,3483.5 603.0,3488.9 605.0,3484.1 607.0,3485.2 609.0,3481.6 611.0,3478.5 613.0,3473.9 615.0,3460.3 617.0,3451.6 619.0,3443.6 621.0,3438.0 623.0,3441.6 625.0,3440.6 627.0,3438.3 629.0,3446.4 631.0,3456.8 633.0,3463.8 635.0,3472.9 637.0,3478.0 639.0,3481.1 641.0,3481.9 643.0,3481.1 645.0,3483.2 647.0,3479.2 649.0,3479.1 651.0,3482.0 653.0,3477.5 655.0,3475.5 657.0,3475.3 659.0,3473.1 661.0,3469.2 663.0,3466.3 665.0,3465.1 667.0,3463.0 669.0,3465.5 671.0,3460.0 673.0,3459.7 675.0,3452.8 677.0,3434.5 679.0,3400.6 681.0,3344.4 683.0,3311.3 685.0,3310.6 687.0,3312.5 689.0,3306.1 691.0,3354.4 693.0,3404.4 695.0,3421.4 697.0,3409.6 699.0,3397.7 701.0,3396.4 703.0,3399.2 705.0,3396.3 707.0,3402.4 709.0,3412.2 711.0,3410.7 713.0,3412.2 715.0,3411.0 717.0,3414.9 719.0,3422.0 721.0,3432.9 723.0,3445.1 725.0,3457.0 727.0,3463.6 729.0,3467.9 731.0,3471.5 733.0,3469.0 735.0,3461.6 737.0,3455.4 739.0,3435.1 741.0,3404.9 743.0,3345.6 745.0,3279.6 747.0,3272.5 749.0,3280.1 751.0,3277.8 753.0,3310.7 755.0,3378.4 757.0,3415.0 759.0,3431.6 761.0,3416.9 763.0,3405.6 765.0,3405.9 767.0,3405.9 769.0,3409.4 771.0,3409.3 773.0,3425.6 775.0,3424.5 777.0,3411.0 779.0,3385.5 781.0,3348.5 783.0,3284.9 785.0,3191.5 787.0,3091.8 789.0,3074.7 791.0,3073.1 793.0,3076.7 795.0,3088.0 797.0,3175.9 799.0,3264.6 801.0,3331.7 803.0,3372.1 805.0,3397.7 807.0,3409.9 809.0,3416.9 811.0,3426.4 813.0,3437.2 815.0,3443.9 817.0,3452.1 819.0,3461.1 821.0,3467.3 823.0,3472.7 825.0,3473.5 827.0,3477.7 829.0,3477.0 831.0,3475.5 833.0,3481.0 835.0,3480.9 837.0,3478.3 839.0,3481.6 841.0,3485.8 843.0,3485.5 845.0,3485.3 847.0,3484.2 849.0,3488.6 851.0,3488.6 853.0,3488.3 855.0,3487.5 857.0,3486.1 859.0,3489.3 861.0,3481.9 863.0,3485.6 865.0,3482.1 867.0,3487.4 869.0,3487.7 871.0,3482.4 873.0,3486.0 875.0,3487.2 877.0,3483.6 879.0,3484.1 881.0,3486.9 883.0,3478.3 885.0,3474.1 887.0,3463.8 889.0,3443.2 891.0,3424.4 893.0,3424.7 895.0,3423.9 897.0,3422.3 899.0,3437.0 901.0,3458.1 903.0,3468.3 905.0,3476.9 907.0,3480.8 909.0,3483.1 911.0,3487.8 913.0,3490.3 915.0,3486.2 917.0,3488.3 919.0,3487.5 921.0,3488.9 923.0,3491.1 925.0,3491.4 927.0,3489.5 929.0,3488.2 931.0,3487.3 933.0,3488.6 935.0,3489.4 937.0,3489.1 939.0,3489.4 941.0,3490.0 943.0,3491.6 945.0,3492.8 947.0,3491.7 949.0,3490.9 951.0,3492.2 953.0,3487.5 955.0,3486.6 957.0,3484.9 959.0,3489.3 961.0,3492.2 963.0,3489.9 965.0,3491.4 967.0,3492.4 969.0,3491.7 971.0,3488.3 973.0,3482.5 975.0,3486.1 977.0,3483.2 979.0,3478.6 981.0,3480.0 983.0,3475.0 985.0,3477.4 987.0,3475.6 989.0,3477.0 991.0,3473.4 993.0,3477.5 995.0,3483.2 997.0,3483.5 999.0,3486.2 1001.0,3488.2 1003.0,3491.0 1005.0,3484.2 1007.0,3489.4 1009.0,3489.4 1011.0,3488.8 1013.0,3488.6 1015.0,3488.3 1017.0,3484.2 1019.0,3492.0 1021.0,3486.8 1023.0,3481.4 1025.0,3491.8 1027.0,3490.4 1029.0,3483.7 1031.0,3488.4 1033.0,3489.7 1035.0,3490.7 1037.0,3489.2 1039.0,3489.1 1041.0,3492.1 1043.0,3488.2 1045.0,3483.0 1047.0,3473.9 1049.0,3476.9 1051.0,3464.6 1053.0,3461.0 1055.0,3460.2 1057.0,3456.2 1059.0,3460.8 1061.0,3460.8 1063.0,3457.8 1065.0,3471.7 1067.0,3473.1 1069.0,3479.8 1071.0,3482.5 1073.0,3486.4 1075.0,3488.1 1077.0,3491.2 1079.0,3488.1 1081.0,3488.9 1083.0,3492.0 1085.0,3491.5 1087.0,3491.4 1089.0,3491.6 1091.0,3491.3 1093.0,3488.7 1095.0,3492.4 1097.0,3493.4 1099.0,3492.0 1101.0,3485.9 1103.0,3493.8 1105.0,3493.5 1107.0,3494.6 1109.0,3492.9 1111.0,3494.0 1113.0,3491.7 1115.0,3491.5 1117.0,3489.2 1119.0,3493.3 1121.0,3492.5 1123.0,3492.8 1125.0,3492.3 1127.0,3489.7 1129.0,3491.8 1131.0,3493.5 1133.0,3492.4 1135.0,3494.2 1137.0,3491.8 1139.0,3488.1 1141.0,3491.7 1143.0,3485.9 1145.0,3487.3 1147.0,3483.0 1149.0,3482.0 1151.0,3486.6 1153.0,3483.9 1155.0,3485.7 1157.0,3487.9 1159.0,3487.1 1161.0,3490.2 1163.0,3493.2 1165.0,3493.0 1167.0,3491.6 1169.0,3490.2 1171.0,3492.4 1173.0,3494.5 1175.0,3492.5 1177.0,3490.4 1179.0,3491.8 1181.0,3493.8 1183.0,3495.1 1185.0,3493.1 1187.0,3494.7 1189.0,3492.8 1191.0,3493.5 1193.0,3493.7 1195.0,3493.9 1197.0,3494.1 1199.0,3494.1 1201.0,3493.3 1203.0,3494.2 1205.0,3494.4 1207.0,3495.6 1209.0,3496.8 1211.0,3495.7 1213.0,3495.8 1215.0,3492.8 1217.0,3490.5 1219.0,3494.3 1221.0,3493.8 1223.0,3491.9 1225.0,3491.1 1227.0,3494.3 1229.0,3495.0 1231.0,3490.3 1233.0,3494.1 1235.0,3493.8 1237.0,3492.7 1239.0,3488.9 1241.0,3491.3 1243.0,3489.9 1245.0,3492.2 1247.0,3490.3 1249.0,3490.3 1251.0,3488.7 1253.0,3488.4 1255.0,3486.0 1257.0,3483.5 1259.0,3478.0 1261.0,3470.8 1263.0,3460.0 1265.0,3446.3 1267.0,3421.3 1269.0,3403.3 1271.0,3397.9 1273.0,3397.5 1275.0,3397.5 1277.0,3397.4 1279.0,3414.9 1281.0,3438.8 1283.0,3451.3 1285.0,3462.4 1287.0,3467.6 1289.0,3476.3 1291.0,3476.8 1293.0,3482.5 1295.0,3484.9 1297.0,3486.6 1299.0,3485.5 1301.0,3487.1 1303.0,3489.5 1305.0,3487.6 1307.0,3487.0 1309.0,3479.3 1311.0,3480.3 1313.0,3477.5 1315.0,3467.5 1317.0,3451.3 1319.0,3435.7 1321.0,3434.7 1323.0,3431.6 1325.0,3430.0 1327.0,3435.0 1329.0,3448.9 1331.0,3464.0 1333.0,3469.6 1335.0,3481.4 1337.0,3482.9 1339.0,3485.4 1341.0,3485.0 1343.0,3487.9 1345.0,3488.0 1347.0,3482.3 1349.0,3483.8 1351.0,3481.3 1353.0,3475.4 1355.0,3477.4 1357.0,3471.7 1359.0,3468.0 1361.0,3463.6 1363.0,3464.5 1365.0,3466.5 1367.0,3467.1 1369.0,3462.0 1371.0,3467.2 1373.0,3473.2 1375.0,3475.2 1377.0,3481.6 1379.0,3479.4 1381.0,3477.3 1383.0,3480.3 1385.0,3487.8 1387.0,3487.0 1389.0,3489.3 1391.0,3486.3 1393.0,3486.9 1395.0,3485.8 1397.0,3493.6 1399.0,3494.7 1401.0,3488.8 1403.0,3488.5 1405.0,3484.5 1407.0,3484.0 1409.0,3480.0 1411.0,3471.9 1413.0,3460.7 1415.0,3443.8 1417.0,3432.7 1419.0,3434.1 1421.0,3432.5 1423.0,3434.1 1425.0,3439.7 1427.0,3459.2 1429.0,3473.5 1431.0,3481.6 1433.0,3485.5 1435.0,3486.5 1437.0,3486.9 1439.0,3491.4 1441.0,3489.5 1443.0,3492.3 1445.0,3493.2 1447.0,3494.1 1449.0,3494.7 1451.0,3496.3 1453.0,3494.2 1455.0,3493.7 1457.0,3487.6 1459.0,3485.4 1461.0,3484.2 1463.0,3478.8 1465.0,3478.8 1467.0,3480.3 1469.0,3475.9 1471.0,3479.7 1473.0,3481.6 1475.0,3486.4 1477.0,3486.9 1479.0,3489.8 1481.0,3491.7 1483.0,3491.5 1485.0,3494.2 1487.0,3492.8 1489.0,3494.8 1491.0,3492.7 1493.0,3494.4 1495.0,3493.0 1497.0,3488.7 1499.0,3487.8 1501.0,3491.2 1503.0,3488.2 1505.0,3490.7 1507.0,3491.1 1509.0,3494.0 1511.0,3487.0 1513.0,3492.2 1515.0,3492.3 1517.0,3487.6 1519.0,3492.5 1521.0,3492.6 1523.0,3489.4 1525.0,3490.2 1527.0,3484.9 1529.0,3476.6 1531.0,3473.9 1533.0,3454.8 1535.0,3438.5 1537.0,3429.0 1539.0,3424.6 1541.0,3424.5 1543.0,3428.1 1545.0,3438.2 1547.0,3451.2 1549.0,3471.9 1551.0,3476.9 1553.0,3480.9 1555.0,3484.4 1557.0,3488.4 1559.0,3482.2 1561.0,3479.8 1563.0,3471.9 1565.0,3476.3 1567.0,3477.5 1569.0,3476.1 1571.0,3476.6 1573.0,3485.8 1575.0,3487.6 1577.0,3490.4 1579.0,3490.7 1581.0,3494.0 1583.0,3492.7 1585.0,3492.9 1587.0,3496.9 1589.0,3498.7 1591.0,3496.3 1593.0,3497.1 1595.0,3493.2 1597.0,3496.3 1599.0,3494.8 1601.0,3493.0 1603.0,3492.5 1605.0,3495.7 1607.0,3495.2 1609.0,3498.5 1611.0,3498.2 1613.0,3499.9 1615.0,3498.6 1617.0,3499.3 1619.0,3500.5 1621.0,3500.5 1623.0,3499.8 1625.0,3496.4 1627.0,3500.6 1629.0,3490.1 1631.0,3498.3 1633.0,3496.6 1635.0,3493.3 1637.0,3496.5 1639.0,3497.5 1641.0,3494.3 1643.0,3497.1 1645.0,3495.4 1647.0,3497.2 1649.0,3501.1 1651.0,3502.6 1653.0,3501.5 1655.0,3498.2 1657.0,3498.4 1659.0,3499.6 1661.0,3502.7 1663.0,3494.6 1665.0,3499.0 1667.0,3495.5 1669.0,3501.3 1671.0,3495.6 1673.0,3497.8 1675.0,3499.7 1677.0,3498.5 1679.0,3499.6 1681.0,3499.5 1683.0,3501.2 1685.0,3503.8 1687.0,3503.1 1689.0,3501.8 1691.0,3503.0 1693.0,3500.6 1695.0,3498.9 1697.0,3494.8 1699.0,3499.8 1701.0,3499.9 1703.0,3497.2 1705.0,3499.9 1707.0,3499.0 1709.0,3493.7 1711.0,3497.3 1713.0,3496.3 1715.0,3490.5 1717.0,3500.0 1719.0,3499.1 1721.0,3497.6 1723.0,3503.6 1725.0,3501.3 1727.0,3503.5 1729.0,3502.5 1731.0,3501.6 1733.0,3504.3 1735.0,3506.1 1737.0,3506.3 1739.0,3497.8 1741.0,3501.9 1743.0,3500.0 1745.0,3499.1 1747.0,3501.3 1749.0,3500.8 1751.0,3499.7 1753.0,3499.4 1755.0,3503.4 1757.0,3501.2 1759.0,3501.7 1761.0,3503.7 1763.0,3505.7 1765.0,3505.2 1767.0,3502.8 1769.0,3503.0 1771.0,3502.9 1773.0,3502.5 1775.0,3500.3 1777.0,3502.1 1779.0,3499.2 1781.0,3503.6 1783.0,3504.1 1785.0,3503.9 1787.0,3503.5 1789.0,3501.1 1791.0,3498.9 1793.0,3497.4 1795.0,3499.6 1797.0,3501.4 1799.0,3501.1 1801.0,3502.5 1803.0,3500.2 1805.0,3500.8 1807.0,3496.1 1809.0,3502.0 1811.0,3503.6 1813.0,3502.2 1815.0,3501.7 1817.0,3504.4 1819.0,3501.9 1821.0,3504.3 1823.0,3503.5 1825.0,3502.7 1827.0,3502.3 1829.0,3504.9 1831.0,3503.1 1833.0,3505.1 1835.0,3503.7 1837.0,3506.2 1839.0,3501.6 1841.0,3504.6 1843.0,3504.0 1845.0,3505.7 1847.0,3501.5 1849.0,3500.0 1851.0,3504.5 1853.0,3503.7 1855.0,3502.8 1857.0,3503.0 1859.0,3503.0 1861.0,3503.0 1863.0,3499.9 1865.0,3501.8 1867.0,3497.8 1869.0,3503.0 1871.0,3501.4 1873.0,3500.2 1875.0,3503.3 1877.0,3502.4 1879.0,3501.2 1881.0,3501.5 1883.0,3500.9 1885.0,3503.7 1887.0,3499.3 1889.0,3498.7 1891.0,3495.9 1893.0,3500.5 1895.0,3498.6 1897.0,3500.8 1899.0,3502.1 1901.0,3496.8 1903.0,3498.6 1905.0,3502.5 1907.0,3500.1 1909.0,3499.8 1911.0,3503.1 1913.0,3504.0 1915.0,3502.2 1917.0,3503.3 1919.0,3503.7 1921.0,3503.6 1923.0,3497.2 1925.0,3499.5 1927.0,3494.9 1929.0,3497.3 1931.0,3494.5 1933.0,3500.2 1935.0,3499.0 1937.0,3495.3 1939.0,3498.0 1941.0,3500.6 1943.0,3502.0 1945.0,3500.5 1947.0,3499.9 1949.0,3501.5 1951.0,3499.5 1953.0,3499.4 1955.0,3501.3 1957.0,3502.4 1959.0,3500.2 1961.0,3496.8 1963.0,3498.1 1965.0,3500.0 1967.0,3498.6 1969.0,3501.1 1971.0,3498.9 1973.0,3501.8 1975.0,3501.3 1977.0,3501.2 1979.0,3503.0 1981.0,3503.6 1983.0,3499.3 1985.0,3504.1 1987.0,3502.3 1989.0,3500.2 1991.0,3497.9 1993.0,3498.0 1995.0,3501.0 1997.0,3498.0 1999.0,3496.2 2001.0,3501.5 2003.0,3501.1 2005.0,3501.9 2007.0,3502.7 2009.0,3500.4 2011.0,3500.5 2013.0,3500.3 2015.0,3497.7 2017.0,3500.8 2019.0,3500.7 2021.0,3500.7 2023.0,3499.2 2025.0,3497.9 2027.0,3495.4 2029.0,3489.6 2031.0,3497.4 2033.0,3498.8 2035.0,3496.4 2037.0,3496.7 2039.0,3493.1 2041.0,3492.8 2043.0,3496.3 2045.0,3488.4 2047.0,3491.8 2049.0,3492.7 2051.0,3493.0 2053.0,3489.3 2055.0,3490.5 2057.0,3489.6 2059.0,3489.6 2061.0,3491.1 2063.0,3491.9 2065.0,3491.8 2066.0,3505.2 2064.0,3506.0 2062.0,3506.9 2060.0,3507.2 2058.0,3509.2 2056.0,3514.6 2054.0,3508.4 2052.0,3511.2 2050.0,3510.3 2048.0,3511.1 2046.0,3513.4 2044.0,3513.4 2042.0,3513.3 2040.0,3513.4 2038.0,3513.3 2036.0,3515.5 2034.0,3514.0 2032.0,3513.1 2030.0,3514.1 2028.0,3515.4 2026.0,3514.1 2024.0,3516.6 2022.0,3517.4 2020.0,3514.8 2018.0,3515.6 2016.0,3516.6 2014.0,3518.1 2012.0,3517.3 2010.0,3520.1 2008.0,3517.4 2006.0,3518.0 2004.0,3521.2 2002.0,3516.2 2000.0,3516.5 1998.0,3520.4 1996.0,3514.5 1994.0,3517.1 1992.0,3520.9 1990.0,3519.0 1988.0,3520.3 1986.0,3522.2 1984.0,3520.5 1982.0,3518.8 1980.0,3521.1 1978.0,3521.2 1976.0,3526.2 1974.0,3517.9 1972.0,3519.5 1970.0,3516.1 1968.0,3516.4 1966.0,3517.0 1964.0,3519.0 1962.0,3517.3 1960.0,3516.6 1958.0,3519.6 1956.0,3518.8 1954.0,3518.7 1952.0,3517.1 1950.0,3518.6 1948.0,3516.2 1946.0,3515.1 1944.0,3521.2 1942.0,3515.8 1940.0,3519.4 1938.0,3517.2 1936.0,3516.0 1934.0,3521.1 1932.0,3515.0 1930.0,3519.7 1928.0,3518.3 1926.0,3516.6 1924.0,3517.3 1922.0,3518.9 1920.0,3521.3 1918.0,3519.9 1916.0,3521.3 1914.0,3520.2 1912.0,3519.5 1910.0,3522.0 1908.0,3517.5 1906.0,3517.6 1904.0,3516.6 1902.0,3521.6 1900.0,3522.4 1898.0,3519.6 1896.0,3517.6 1894.0,3518.5 1892.0,3521.9 1890.0,3520.4 1888.0,3519.0 1886.0,3518.6 1884.0,3521.5 1882.0,3520.3 1880.0,3519.5 1878.0,3520.6 1876.0,3523.1 1874.0,3520.2 1872.0,3521.7 1870.0,3521.6 1868.0,3518.8 1866.0,3520.8 1864.0,3517.3 1862.0,3523.4 1860.0,3517.5 1858.0,3517.8 1856.0,3518.0 1854.0,3518.9 1852.0,3518.7 1850.0,3518.3 1848.0,3522.5 1846.0,3524.6 1844.0,3521.0 1842.0,3520.7 1840.0,3522.5 1838.0,3522.3 1836.0,3524.4 1834.0,3520.8 1832.0,3526.2 1830.0,3520.2 1828.0,3521.8 1826.0,3521.0 1824.0,3523.5 1822.0,3524.9 1820.0,3520.5 1818.0,3523.9 1816.0,3520.4 1814.0,3520.3 1812.0,3518.8 1810.0,3517.6 1808.0,3519.0 1806.0,3517.8 1804.0,3515.7 1802.0,3518.7 1800.0,3517.6 1798.0,3516.6 1796.0,3521.5 1794.0,3521.3 1792.0,3520.3 1790.0,3524.0 1788.0,3519.2 1786.0,3525.3 1784.0,3519.5 1782.0,3520.6 1780.0,3522.5 1778.0,3518.5 1776.0,3519.0 1774.0,3521.6 1772.0,3517.4 1770.0,3523.5 1768.0,3522.1 1766.0,3518.5 1764.0,3523.5 1762.0,3525.0 1760.0,3521.8 1758.0,3520.1 1756.0,3519.9 1754.0,3517.5 1752.0,3522.8 1750.0,3516.5 1748.0,3516.0 1746.0,3519.3 1744.0,3520.0 1742.0,3520.6 1740.0,3519.3 1738.0,3519.3 1736.0,3520.6 1734.0,3520.2 1732.0,3520.7 1730.0,3523.1 1728.0,3518.0 1726.0,3518.0 1724.0,3518.9 1722.0,3519.1 1720.0,3520.5 1718.0,3521.4 1716.0,3515.8 1714.0,3516.2 1712.0,3520.6 1710.0,3516.8 1708.0,3519.3 1706.0,3517.0 1704.0,3516.1 1702.0,3523.5 1700.0,3517.0 1698.0,3520.4 1696.0,3519.6 1694.0,3521.3 1692.0,3527.5 1690.0,3520.3 1688.0,3521.2 1686.0,3519.4 1684.0,3519.8 1682.0,3519.3 1680.0,3521.0 1678.0,3520.1 1676.0,3526.8 1674.0,3519.7 1672.0,3519.7 1670.0,3520.3 1668.0,3517.2 1666.0,3519.6 1664.0,3516.8 1662.0,3516.3 1660.0,3517.4 1658.0,3516.9 1656.0,3518.3 1654.0,3518.0 1652.0,3518.9 1650.0,3519.5 1648.0,3519.4 1646.0,3519.8 1644.0,3517.3 1642.0,3515.8 1640.0,3517.3 1638.0,3518.0 1636.0,3514.1 1634.0,3516.3 1632.0,3515.0 1630.0,3516.8 1628.0,3517.3 1626.0,3518.3 1624.0,3516.8 1622.0,3517.0 1620.0,3517.0 1618.0,3519.8 1616.0,3513.8 1614.0,3515.0 1612.0,3514.5 1610.0,3514.1 1608.0,3516.1 1606.0,3515.2 1604.0,3512.4 1602.0,3511.2 1600.0,3513.4 1598.0,3516.7 1596.0,3525.3 1594.0,3515.0 1592.0,3519.0 1590.0,3514.3 1588.0,3516.3 1586.0,3514.1 1584.0,3513.3 1582.0,3511.8 1580.0,3516.3 1578.0,3508.9 1576.0,3510.0 1574.0,3507.4 1572.0,3506.4 1570.0,3507.4 1568.0,3500.4 1566.0,3500.7 1564.0,3507.0 1562.0,3509.0 1560.0,3507.7 1558.0,3508.2 1556.0,3509.0 1554.0,3507.7 1552.0,3506.5 1550.0,3502.2 1548.0,3502.3 1546.0,3495.9 1544.0,3485.0 1542.0,3470.8 1540.0,3476.2 1538.0,3493.1 1536.0,3498.5 1534.0,3503.5 1532.0,3506.2 1530.0,3508.9 1528.0,3509.1 1526.0,3511.2 1524.0,3514.3 1522.0,3512.3 1520.0,3511.9 1518.0,3511.0 1516.0,3510.6 1514.0,3508.6 1512.0,3519.6 1510.0,3512.8 1508.0,3513.8 1506.0,3507.5 1504.0,3510.3 1502.0,3508.8 1500.0,3509.2 1498.0,3510.5 1496.0,3511.5 1494.0,3513.9 1492.0,3514.5 1490.0,3514.9 1488.0,3511.9 1486.0,3508.9 1484.0,3513.4 1482.0,3508.9 1480.0,3511.6 1478.0,3508.5 1476.0,3506.8 1474.0,3506.1 1472.0,3506.7 1470.0,3499.4 1468.0,3501.6 1466.0,3501.9 1464.0,3504.9 1462.0,3512.3 1460.0,3510.9 1458.0,3517.4 1456.0,3511.2 1454.0,3510.8 1452.0,3510.7 1450.0,3513.4 1448.0,3512.3 1446.0,3512.1 1444.0,3509.5 1442.0,3510.8 1440.0,3510.1 1438.0,3514.9 1436.0,3506.8 1434.0,3504.2 1432.0,3502.3 1430.0,3502.2 1428.0,3498.6 1426.0,3495.3 1424.0,3488.3 1422.0,3472.8 1420.0,3478.6 1418.0,3486.3 1416.0,3495.8 1414.0,3497.4 1412.0,3503.1 1410.0,3509.4 1408.0,3507.0 1406.0,3515.9 1404.0,3510.7 1402.0,3512.1 1400.0,3514.3 1398.0,3518.4 1396.0,3511.9 1394.0,3511.3 1392.0,3513.3 1390.0,3508.6 1388.0,3514.8 1386.0,3506.6 1384.0,3504.8 1382.0,3503.9 1380.0,3502.3 1378.0,3500.7 1376.0,3499.6 1374.0,3498.7 1372.0,3499.3 1370.0,3492.5 1368.0,3486.4 1366.0,3484.2 1364.0,3487.2 1362.0,3500.0 1360.0,3498.0 1358.0,3496.0 1356.0,3499.3 1354.0,3500.4 1352.0,3501.6 1350.0,3506.1 1348.0,3502.5 1346.0,3507.2 1344.0,3504.6 1342.0,3503.1 1340.0,3505.2 1338.0,3504.6 1336.0,3500.8 1334.0,3502.9 1332.0,3501.4 1330.0,3495.8 1328.0,3492.7 1326.0,3479.5 1324.0,3469.9 1322.0,3484.8 1320.0,3492.4 1318.0,3497.1 1316.0,3500.4 1314.0,3508.2 1312.0,3505.1 1310.0,3505.2 1308.0,3506.5 1306.0,3515.0 1304.0,3507.5 1302.0,3509.0 1300.0,3510.0 1298.0,3508.6 1296.0,3504.0 1294.0,3501.5 1292.0,3505.7 1290.0,3498.1 1288.0,3497.5 1286.0,3492.9 1284.0,3490.6 1282.0,3487.1 1280.0,3480.6 1278.0,3475.9 1276.0,3454.2 1274.0,3443.8 1272.0,3464.0 1270.0,3476.9 1268.0,3487.8 1266.0,3491.3 1264.0,3497.6 1262.0,3502.4 1260.0,3503.3 1258.0,3502.5 1256.0,3506.4 1254.0,3507.3 1252.0,3510.8 1250.0,3507.4 1248.0,3509.8 1246.0,3506.3 1244.0,3507.6 1242.0,3509.1 1240.0,3508.6 1238.0,3509.6 1236.0,3508.7 1234.0,3514.8 1232.0,3509.6 1230.0,3512.1 1228.0,3510.1 1226.0,3508.9 1224.0,3507.7 1222.0,3508.7 1220.0,3508.7 1218.0,3509.5 1216.0,3509.5 1214.0,3513.7 1212.0,3510.8 1210.0,3511.8 1208.0,3516.9 1206.0,3511.8 1204.0,3515.8 1202.0,3511.7 1200.0,3511.3 1198.0,3508.9 1196.0,3509.6 1194.0,3509.3 1192.0,3515.5 1190.0,3510.9 1188.0,3515.1 1186.0,3513.5 1184.0,3513.5 1182.0,3513.6 1180.0,3511.8 1178.0,3509.5 1176.0,3509.8 1174.0,3511.2 1172.0,3509.7 1170.0,3509.3 1168.0,3508.1 1166.0,3508.7 1164.0,3512.8 1162.0,3508.2 1160.0,3506.3 1158.0,3507.1 1156.0,3506.4 1154.0,3503.2 1152.0,3502.8 1150.0,3503.6 1148.0,3505.3 1146.0,3506.1 1144.0,3509.4 1142.0,3509.7 1140.0,3508.1 1138.0,3509.3 1136.0,3512.0 1134.0,3512.0 1132.0,3510.7 1130.0,3508.2 1128.0,3508.4 1126.0,3510.0 1124.0,3510.5 1122.0,3508.0 1120.0,3510.2 1118.0,3509.6 1116.0,3509.6 1114.0,3509.5 1112.0,3508.8 1110.0,3508.2 1108.0,3508.4 1106.0,3511.1 1104.0,3507.9 1102.0,3514.7 1100.0,3508.9 1098.0,3507.7 1096.0,3508.5 1094.0,3510.9 1092.0,3513.2 1090.0,3508.2 1088.0,3507.8 1086.0,3510.2 1084.0,3511.3 1082.0,3508.0 1080.0,3507.1 1078.0,3508.5 1076.0,3509.2 1074.0,3506.1 1072.0,3506.4 1070.0,3504.6 1068.0,3507.7 1066.0,3501.1 1064.0,3497.4 1062.0,3492.3 1060.0,3486.7 1058.0,3483.2 1056.0,3492.3 1054.0,3494.9 1052.0,3502.3 1050.0,3503.6 1048.0,3504.9 1046.0,3507.5 1044.0,3509.0 1042.0,3514.2 1040.0,3508.3 1038.0,3507.9 1036.0,3512.0 1034.0,3506.9 1032.0,3507.7 1030.0,3509.1 1028.0,3505.8 1026.0,3510.2 1024.0,3508.1 1022.0,3509.1 1020.0,3509.3 1018.0,3512.3 1016.0,3510.6 1014.0,3506.9 1012.0,3506.7 1010.0,3508.8 1008.0,3509.7 1006.0,3511.9 1004.0,3507.3 1002.0,3510.9 1000.0,3511.8 998.0,3509.3 996.0,3511.4 994.0,3502.0 992.0,3500.8 990.0,3498.2 988.0,3495.7 986.0,3499.4 984.0,3501.2 982.0,3501.2 980.0,3501.2 978.0,3506.1 976.0,3506.1 974.0,3505.6 972.0,3509.5 970.0,3505.4 968.0,3505.8 966.0,3508.6 964.0,3512.7 962.0,3507.3 960.0,3508.6 958.0,3510.3 956.0,3506.0 954.0,3511.4 952.0,3506.9 950.0,3506.8 948.0,3512.2 946.0,3510.2 944.0,3509.7 942.0,3511.7 940.0,3512.5 938.0,3507.5 936.0,3506.1 934.0,3506.7 932.0,3510.2 930.0,3506.8 928.0,3508.5 926.0,3509.7 924.0,3515.0 922.0,3512.7 920.0,3509.3 918.0,3508.4 916.0,3511.2 914.0,3508.9 912.0,3506.8 910.0,3505.2 908.0,3503.4 906.0,3502.1 904.0,3499.1 902.0,3496.5 900.0,3492.6 898.0,3484.7 896.0,3472.5 894.0,3482.3 892.0,3491.4 890.0,3498.6 888.0,3502.0 886.0,3503.3 884.0,3504.6 882.0,3503.4 880.0,3508.0 878.0,3507.1 876.0,3503.5 874.0,3507.5 872.0,3505.4 870.0,3503.6 868.0,3503.1 866.0,3501.8 864.0,3502.7 862.0,3505.6 860.0,3507.8 858.0,3504.6 856.0,3504.2 854.0,3503.6 852.0,3504.2 850.0,3503.0 848.0,3506.5 846.0,3502.9 844.0,3502.2 842.0,3507.3 840.0,3507.3 838.0,3501.6 836.0,3500.4 834.0,3499.8 832.0,3499.6 830.0,3495.6 828.0,3495.0 826.0,3495.2 824.0,3491.7 822.0,3490.1 820.0,3490.4 818.0,3487.4 816.0,3484.2 814.0,3482.1 812.0,3471.5 810.0,3461.8 808.0,3453.3 806.0,3440.7 804.0,3431.6 802.0,3422.7 800.0,3412.5 798.0,3392.1 796.0,3348.9 794.0,3284.6 792.0,3207.3 790.0,3300.1 788.0,3363.7 786.0,3401.4 784.0,3424.8 782.0,3438.1 780.0,3447.3 778.0,3454.4 776.0,3452.4 774.0,3455.7 772.0,3450.8 770.0,3450.1 768.0,3441.4 766.0,3448.7 764.0,3457.7 762.0,3456.6 760.0,3461.0 758.0,3455.0 756.0,3461.8 754.0,3450.8 752.0,3436.5 750.0,3394.4 748.0,3423.0 746.0,3455.9 744.0,3470.8 742.0,3478.5 740.0,3488.2 738.0,3487.1 736.0,3489.1 734.0,3488.6 732.0,3487.9 730.0,3487.7 728.0,3487.0 726.0,3486.6 724.0,3483.6 722.0,3480.2 720.0,3477.0 718.0,3462.6 716.0,3450.2 714.0,3435.7 712.0,3441.8 710.0,3436.5 708.0,3441.4 706.0,3436.7 704.0,3432.3 702.0,3440.1 700.0,3450.5 698.0,3452.2 696.0,3450.8 694.0,3452.5 692.0,3453.9 690.0,3447.1 688.0,3417.0 686.0,3415.9 684.0,3448.7 682.0,3466.5 680.0,3476.9 678.0,3477.9 676.0,3480.6 674.0,3479.0 672.0,3478.8 670.0,3482.9 668.0,3484.7 666.0,3487.7 664.0,3489.1 662.0,3493.0 660.0,3493.5 658.0,3495.8 656.0,3495.0 654.0,3498.5 652.0,3499.4 650.0,3499.4 648.0,3501.3 646.0,3503.3 644.0,3501.0 642.0,3498.3 640.0,3502.1 638.0,3496.9 636.0,3497.4 634.0,3495.1 632.0,3499.6 630.0,3488.6 628.0,3482.8 626.0,3471.5 624.0,3474.3 622.0,3480.4 620.0,3491.7 618.0,3491.6 616.0,3495.6 614.0,3503.3 612.0,3501.6 610.0,3503.8 608.0,3504.2 606.0,3504.7 604.0,3505.4 602.0,3505.3 600.0,3502.5 598.0,3502.2 596.0,3506.0 594.0,3504.7 592.0,3503.4 590.0,3502.5 588.0,3504.6 586.0,3504.2 584.0,3509.1 582.0,3502.8 580.0,3506.3 578.0,3504.5 576.0,3503.6 574.0,3504.7 572.0,3508.0 570.0,3502.8 568.0,3505.4 566.0,3502.8 564.0,3506.2 562.0,3504.8 560.0,3505.0 558.0,3502.8 556.0,3504.0 554.0,3503.9 552.0,3504.8 550.0,3504.3 548.0,3503.8 546.0,3507.1 544.0,3504.9 542.0,3501.6 540.0,3501.6 538.0,3506.3 536.0,3503.0 534.0,3500.0 532.0,3504.8 530.0,3499.5 528.0,3499.2 526.0,3500.4 524.0,3502.7 522.0,3500.0 520.0,3502.8 518.0,3505.9 516.0,3501.4 514.0,3498.8 512.0,3499.7 510.0,3498.9 508.0,3500.8 506.0,3502.7 504.0,3501.6 502.0,3506.0 500.0,3504.6 498.0,3508.9 496.0,3502.1 494.0,3501.0 492.0,3500.6 490.0,3506.4 488.0,3501.4 486.0,3501.4 484.0,3501.1 482.0,3508.1 480.0,3500.8 478.0,3502.6 476.0,3502.0 474.0,3500.1 472.0,3503.2 470.0,3504.1 468.0,3502.2 466.0,3500.9 464.0,3503.9 462.0,3501.3 460.0,3500.4 458.0,3501.5 456.0,3501.2 454.0,3504.1 452.0,3500.2 450.0,3498.4 448.0,3500.0 446.0,3505.1 444.0,3502.0 442.0,3501.5 440.0,3502.5 438.0,3502.4 436.0,3506.2 434.0,3503.3 432.0,3503.3 430.0,3501.8 428.0,3503.5 426.0,3503.9 424.0,3505.2 422.0,3502.3 420.0,3501.3 418.0,3502.1 416.0,3502.3 414.0,3501.3 412.0,3506.6 410.0,3501.2 408.0,3501.9 406.0,3502.2 404.0,3498.2 402.0,3501.0 400.0,3502.7 398.0,3504.5 396.0,3506.6 394.0,3499.7 392.0,3499.9 390.0,3504.4 388.0,3499.9 386.0,3500.0 384.0,3500.8 382.0,3499.8 380.0,3498.3 378.0,3498.5 376.0,3500.4 374.0,3502.2 372.0,3497.8 370.0,3498.6 368.0,3493.6 366.0,3496.0 364.0,3486.1 362.0,3491.0 360.0,3490.4 358.0,3495.4 356.0,3496.5 354.0,3501.9 352.0,3496.5 350.0,3497.2 348.0,3500.7 346.0,3502.9 344.0,3501.2 342.0,3509.0 340.0,3509.2 338.0,3504.9 336.0,3503.6 334.0,3503.7 332.0,3506.7 330.0,3505.1 328.0,3504.5 326.0,3501.2 324.0,3501.3 322.0,3499.1 320.0,3503.6 318.0,3503.4 316.0,3502.3 314.0,3504.0 312.0,3504.7 310.0,3508.7 308.0,3504.9 306.0,3505.2 304.0,3505.5 302.0,3500.5 300.0,3501.3 298.0,3499.3 296.0,3503.3 294.0,3496.4 292.0,3496.3 290.0,3501.5 288.0,3497.7 286.0,3495.8 284.0,3496.5 282.0,3498.8 280.0,3501.9 278.0,3496.8 276.0,3498.1 274.0,3496.8 272.0,3504.4 270.0,3500.5 268.0,3501.9 266.0,3497.3 264.0,3495.8 262.0,3496.0 260.0,3493.3 258.0,3497.3 256.0,3493.9 254.0,3500.1 252.0,3501.0 250.0,3494.9 248.0,3495.6 246.0,3495.2 244.0,3492.6 242.0,3494.9 240.0,3495.1 238.0,3491.4 236.0,3489.7 234.0,3490.4 232.0,3490.4 230.0,3488.7 228.0,3490.2 226.0,3487.5 224.0,3489.4 222.0,3490.2 220.0,3487.7 218.0,3488.7 216.0,3485.8 214.0,3485.7 212.0,3490.2 210.0,3486.8 208.0,3486.0 206.0,3484.4 204.0,3484.6 202.0,3485.0 200.0,3485.1 198.0,3482.4 196.0,3481.0 194.0,3481.3 192.0,3483.1 190.0,3480.2 188.0,3484.0 186.0,3479.7 184.0,3478.8 182.0,3479.9 180.0,3480.5 178.0,3478.4 176.0,3483.1 174.0,3475.8 172.0,3474.7" fill="#000" stroke="#000" stroke-width="1.5" stroke-linejoin="round"/>
<rect x="167" y="2566" width="6" height="1014" fill="#000"/><rect x="2063" y="2566" width="6" height="1014" fill="#000"/>
<text x="229" y="2708" font-family='"Liberation Sans", Arial, sans-serif' font-size="82" font-weight="bold" fill="#000" text-anchor="start" textLength="101" lengthAdjust="spacingAndGlyphs" >(c)</text>
<text x="0" y="0" font-family='"Liberation Serif", "Times New Roman", serif' font-size="82" font-weight="bold" fill="#000" text-anchor="start" textLength="387" lengthAdjust="spacingAndGlyphs" transform="translate(100,3292) rotate(-90)" >Intensity (a.u)</text>
<text x="1036" y="3751" font-family='"Liberation Serif", "Times New Roman", serif' font-size="73" font-weight="bold" fill="#000" text-anchor="start" textLength="162" lengthAdjust="spacingAndGlyphs" >2θ (°)</text>
<text x="1308" y="2648.5" font-family='"Liberation Serif", "Times New Roman", serif' font-size="51" font-weight="bold" fill="#000" text-anchor="start" textLength="609" lengthAdjust="spacingAndGlyphs" xml:space="preserve">• – ZnO JCPDS No. 050664</text>
<text x="1308" y="2717" font-family='"Liberation Serif", serif' font-size="51" font-weight="bold" textLength="691" lengthAdjust="spacingAndGlyphs" xml:space="preserve">* – Mn<tspan dy="14" font-size="44">3</tspan><tspan dy="-14">O</tspan><tspan dy="14" font-size="44">4</tspan><tspan dy="-14">  JCPDS No. 080017</tspan></text>
<rect x="1645" y="2945" width="102" height="5" fill="#ff2a3a"/>
<text x="1764" y="2964" font-family='"Liberation Serif", "Times New Roman", serif' font-size="64" font-weight="bold" fill="#000" text-anchor="start" textLength="273" lengthAdjust="spacingAndGlyphs" >GO-ZMO</text>
<rect x="1774" y="3361" width="102" height="4" fill="#111"/>
<text x="1890" y="3376" font-family='"Liberation Serif", "Times New Roman", serif' font-size="66" font-weight="bold" fill="#000" text-anchor="start" textLength="156" lengthAdjust="spacingAndGlyphs" >ZMO</text>
<text x="0" y="0" font-family='"Liberation Serif", "Times New Roman", serif' font-size="62" font-weight="bold" fill="#000" text-anchor="start" textLength="113" lengthAdjust="spacingAndGlyphs" transform="translate(375,3420) rotate(-90)" stroke="#000" stroke-width="1.6">(101)</text>
<text x="360" y="3453.0" font-family='"Liberation Serif", "Times New Roman", serif' font-size="50" font-weight="bold" fill="#222" text-anchor="middle" >*</text>
<text x="0" y="0" font-family='"Liberation Serif", "Times New Roman", serif' font-size="62" font-weight="bold" fill="#000" text-anchor="start" textLength="106" lengthAdjust="spacingAndGlyphs" transform="translate(599,3401) rotate(-90)" stroke="#000" stroke-width="1.6">(112)</text>
<text x="627" y="3441.0" font-family='"Liberation Serif", "Times New Roman", serif' font-size="50" font-weight="bold" fill="#222" text-anchor="middle" >*</text>
<text x="0" y="0" font-family='"Liberation Serif", "Times New Roman", serif' font-size="62" font-weight="bold" fill="#000" text-anchor="start" textLength="105" lengthAdjust="spacingAndGlyphs" transform="translate(640,3228) rotate(-90)" stroke="#000" stroke-width="1.6">(103)</text>
<text x="0" y="0" font-family='"Liberation Serif", "Times New Roman", serif' font-size="62" font-weight="bold" fill="#000" text-anchor="start" textLength="108" lengthAdjust="spacingAndGlyphs" transform="translate(663,3370) rotate(-90)" stroke="#000" stroke-width="1.6">(200)</text>
<text x="663" y="3457.0" font-family='"Liberation Serif", "Times New Roman", serif' font-size="50" font-weight="bold" fill="#222" text-anchor="middle" >*</text>
<text x="0" y="0" font-family='"Liberation Serif", "Times New Roman", serif' font-size="62" font-weight="bold" fill="#000" text-anchor="start" textLength="105" lengthAdjust="spacingAndGlyphs" transform="translate(705,3264) rotate(-90)" stroke="#000" stroke-width="1.6">(100)</text>
<circle cx="688.6" cy="3281" r="7" fill="#000"/>
<text x="0" y="0" font-family='"Liberation Serif", "Times New Roman", serif' font-size="62" font-weight="bold" fill="#000" text-anchor="start" textLength="105" lengthAdjust="spacingAndGlyphs" transform="translate(765,3240) rotate(-90)" stroke="#000" stroke-width="1.6">(002)</text>
<circle cx="748" cy="3248.6" r="7" fill="#000"/>
<text x="0" y="0" font-family='"Liberation Serif", "Times New Roman", serif' font-size="62" font-weight="bold" fill="#000" text-anchor="start" textLength="106" lengthAdjust="spacingAndGlyphs" transform="translate(927,3235) rotate(-90)" stroke="#000" stroke-width="1.6">(101)</text>
<circle cx="790.5" cy="3060" r="7" fill="#000"/>
<text x="0" y="0" font-family='"Liberation Serif", "Times New Roman", serif' font-size="62" font-weight="bold" fill="#000" text-anchor="start" textLength="108" lengthAdjust="spacingAndGlyphs" transform="translate(863,3331) rotate(-90)" stroke="#000" stroke-width="1.6">(202)</text>
<text x="803" y="3191.0" font-family='"Liberation Serif", "Times New Roman", serif' font-size="50" font-weight="bold" fill="#222" text-anchor="middle" >*</text>
<text x="716" y="3420.5" font-family='"Liberation Serif", "Times New Roman", serif' font-size="50" font-weight="bold" fill="#222" text-anchor="middle" >*</text>
<text x="901" y="3419.0" font-family='"Liberation Serif", "Times New Roman", serif' font-size="50" font-weight="bold" fill="#222" text-anchor="middle" >*</text>
<text x="991.4" y="3477.0" font-family='"Liberation Serif", "Times New Roman", serif' font-size="50" font-weight="bold" fill="#222" text-anchor="middle" >*</text>
<text x="0" y="0" font-family='"Liberation Serif", "Times New Roman", serif' font-size="62" font-weight="bold" fill="#000" text-anchor="start" textLength="113" lengthAdjust="spacingAndGlyphs" transform="translate(1073,3420) rotate(-90)" stroke="#000" stroke-width="1.6">(102)</text>
<circle cx="1060" cy="3435" r="7" fill="#000"/>
<text x="0" y="0" font-family='"Liberation Serif", "Times New Roman", serif' font-size="62" font-weight="bold" fill="#000" text-anchor="start" textLength="113" lengthAdjust="spacingAndGlyphs" transform="translate(1291,3354) rotate(-90)" stroke="#000" stroke-width="1.6">(110)</text>
<circle cx="1277" cy="3367" r="7" fill="#000"/>
<text x="0" y="0" font-family='"Liberation Serif", "Times New Roman", serif' font-size="62" font-weight="bold" fill="#000" text-anchor="start" textLength="106" lengthAdjust="spacingAndGlyphs" transform="translate(1383,3412) rotate(-90)" stroke="#000" stroke-width="1.6">(224)</text>
<text x="1327" y="3425.0" font-family='"Liberation Serif", "Times New Roman", serif' font-size="50" font-weight="bold" fill="#222" text-anchor="middle" >*</text>
<text x="1367" y="3459.0" font-family='"Liberation Serif", "Times New Roman", serif' font-size="50" font-weight="bold" fill="#222" text-anchor="middle" >*</text>
<text x="0" y="0" font-family='"Liberation Serif", "Times New Roman", serif' font-size="62" font-weight="bold" fill="#000" text-anchor="start" textLength="108" lengthAdjust="spacingAndGlyphs" transform="translate(1435,3387) rotate(-90)" stroke="#000" stroke-width="1.6">(103)</text>
<circle cx="1416.7" cy="3401" r="7" fill="#000"/>
<text x="0" y="0" font-family='"Liberation Serif", "Times New Roman", serif' font-size="62" font-weight="bold" fill="#000" text-anchor="start" textLength="106" lengthAdjust="spacingAndGlyphs" transform="translate(1491,3443) rotate(-90)" stroke="#000" stroke-width="1.6">(200)</text>
<circle cx="1466.8" cy="3454.5" r="7" fill="#000"/>
<text x="0" y="0" font-family='"Liberation Serif", "Times New Roman", serif' font-size="62" font-weight="bold" fill="#000" text-anchor="start" textLength="111" lengthAdjust="spacingAndGlyphs" transform="translate(1556,3392) rotate(-90)" stroke="#000" stroke-width="1.6">(201)</text>
<circle cx="1542" cy="3407" r="7" fill="#000"/>
<line x1="884" y1="3144" x2="802" y2="3087" stroke="#222" stroke-width="2"/>
<polygon points="802.0,3087.0 814.5,3090.6 809.7,3097.5" fill="#111"/>
<line x1="834" y1="3219.5" x2="808" y2="3173" stroke="#222" stroke-width="2"/>
<polygon points="808.0,3173.0 817.7,3181.7 810.3,3185.8" fill="#111"/>
<line x1="640.6" y1="3228" x2="697" y2="3370" stroke="#222" stroke-width="2"/>
<polygon points="697.0,3370.0 688.5,3360.1 696.4,3357.0" fill="#111"/>
<line x1="647.5" y1="3370" x2="662" y2="3426" stroke="#222" stroke-width="2"/>
<polygon points="662.0,3426.0 654.8,3415.2 663.0,3413.0" fill="#111"/>
<line x1="577" y1="3401" x2="615" y2="3426" stroke="#222" stroke-width="2"/>
<polygon points="615.0,3426.0 602.4,3422.8 607.0,3415.7" fill="#111"/>
<rect x="165" y="2557" width="1905" height="1.5" fill="#e6e6e6"/>
</svg></body></html>
